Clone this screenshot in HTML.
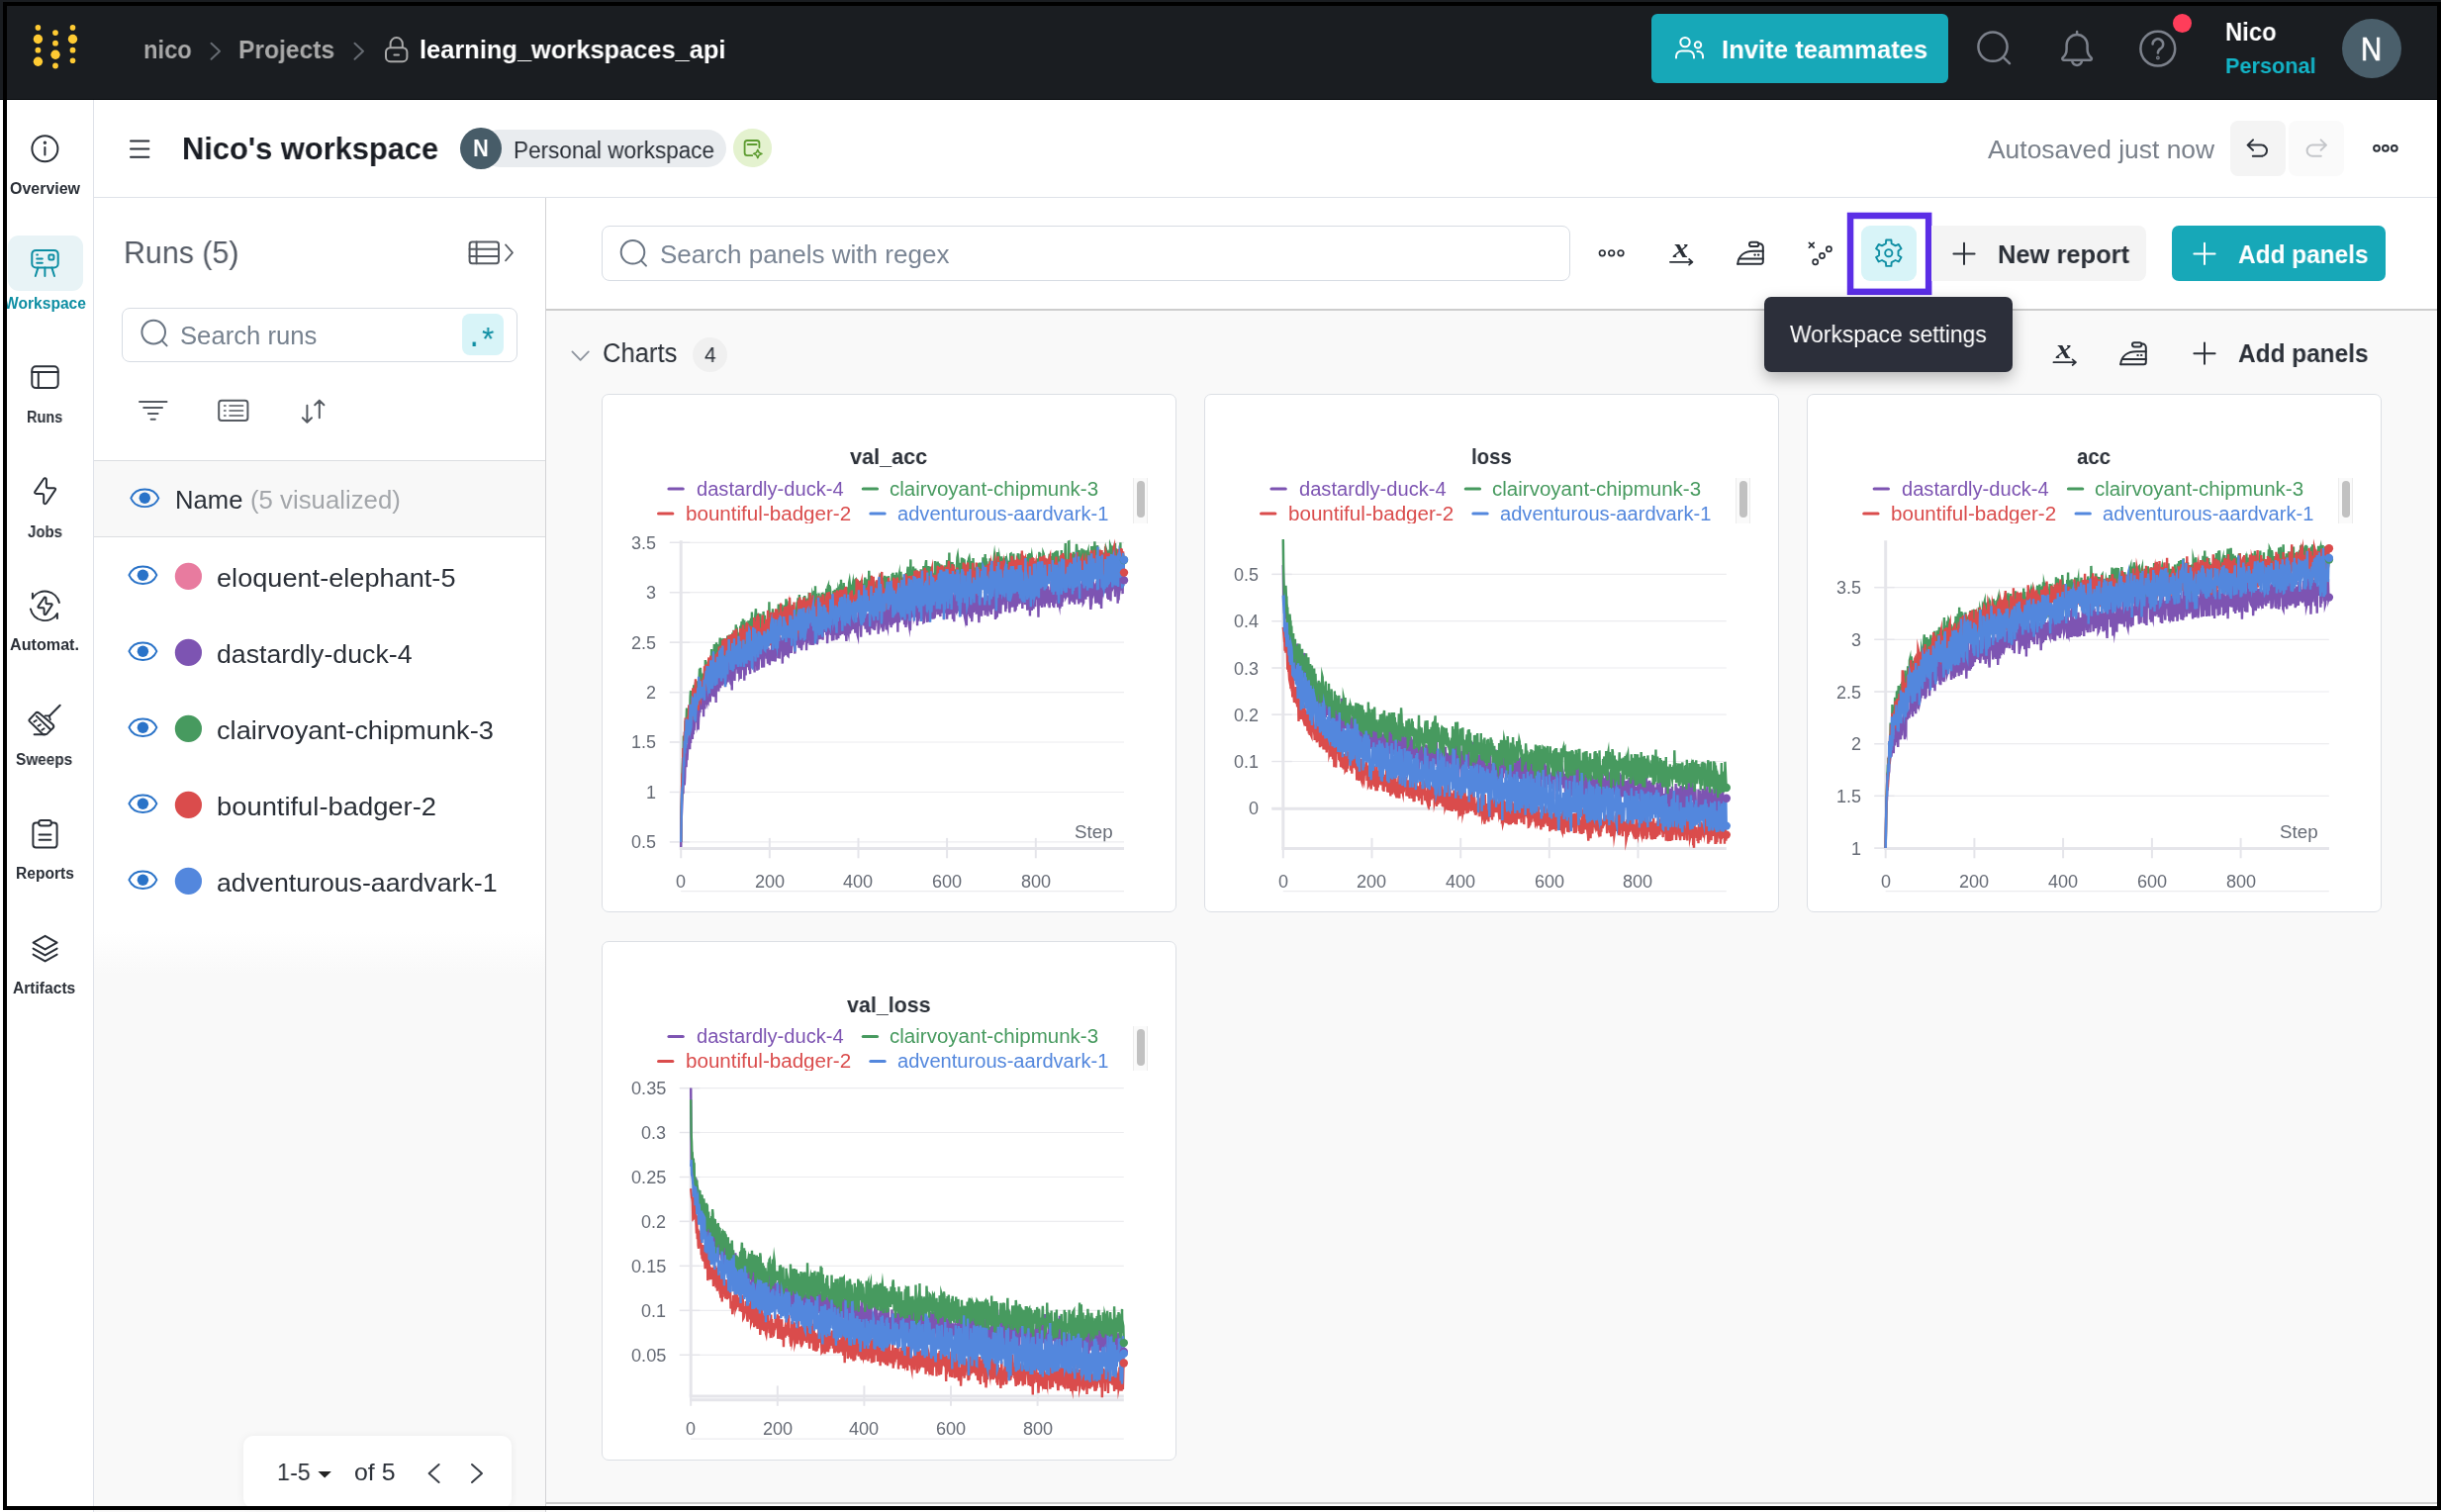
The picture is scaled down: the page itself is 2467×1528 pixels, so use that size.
<!DOCTYPE html>
<html lang="en"><head><meta charset="utf-8"><title>learning_workspaces_api | Workspace – Weights &amp; Biases</title>
<style>

html,body{margin:0;padding:0}
body{width:2467px;height:1528px;overflow:hidden;position:relative;background:#fff;font-family:"Liberation Sans",sans-serif;color:#2b3038}
.a{position:absolute}
.t{position:absolute;white-space:nowrap;transform-origin:0 50%;line-height:normal;display:block;will-change:transform}
svg{position:absolute;overflow:visible}
.i{fill:none;stroke:#2b3038;stroke-width:2;stroke-linecap:round;stroke-linejoin:round}
.panel{position:absolute;background:#fff;border:1px solid #dcdfe4;border-radius:7px;box-sizing:border-box}

</style></head><body>
<div class="a" style="left:552px;top:200px;width:1915px;height:1328px;background:#f9f9f9"></div>
<div class="a" style="left:552px;top:200px;width:1915px;height:112px;background:#fff;border-bottom:2px solid #cdcdcd"></div>
<div class="a" style="left:552px;top:1518px;width:1915px;height:2px;background:#cdcdcd"></div>
<div class="a" style="left:552px;top:1520px;width:1915px;height:8px;background:#fff"></div>
<div class="a" style="left:95px;top:200px;width:456px;height:1328px;background:linear-gradient(#fff 0,#fff 742px,#f9f9f9 785px,#f9f9f9 100%);border-right:1px solid #d3d3d5"></div>
<div class="a" style="left:95px;top:100px;width:2372px;height:99px;background:#fff;border-bottom:1px solid #dfe2e9"></div>
<div class="a" style="left:0px;top:100px;width:94px;height:1428px;background:#fff;border-right:1px solid #dfe2e9"></div>
<div class="a" style="left:0px;top:0px;width:2467px;height:100px;background:#1a1d21;border-bottom:1px solid #080b0e"></div>
<svg class="" style="left:0;top:0;fill:#ffcb33" width="2467" height="1528" viewBox="0 0 2467 1528"><circle cx="38.4" cy="27.9" r="2.8"/><circle cx="38.4" cy="39.5" r="4.7"/><circle cx="38.4" cy="50.7" r="2.9"/><circle cx="38.4" cy="62.3" r="4.7"/><circle cx="56" cy="33.1" r="2.9"/><circle cx="56" cy="43.7" r="2.9"/><circle cx="56" cy="55.2" r="4.7"/><circle cx="56" cy="66.5" r="2.9"/><circle cx="73.5" cy="27.9" r="2.8"/><circle cx="73.5" cy="39.5" r="4.7"/><circle cx="73.5" cy="50.7" r="2.9"/><circle cx="73.5" cy="61.2" r="2.8"/></svg>
<span class="t" id="t0" style="left:144.5px;top:36.0px;font-size:25.5px;font-weight:700;color:#a9a9a9;transform:scaleX(0.9309);">nico</span>
<span class="t" id="t1" style="left:241.2px;top:36.0px;font-size:25.5px;font-weight:700;color:#a9a9a9;transform:scaleX(0.9648);">Projects</span>
<span class="t" id="t2" style="left:424.0px;top:36.0px;font-size:25.5px;font-weight:700;color:#fff;transform:scaleX(0.9971);">learning_workspaces_api</span>
<svg class="i" style="left:0;top:0;" width="2467" height="1528" viewBox="0 0 2467 1528"><path d="M213.5 43.8 L222 51.8 L213.5 59.8" stroke="#666b72"/><path d="M358.5 43.8 L367 51.8 L358.5 59.8" stroke="#666b72"/><rect x="390" y="48.2" width="21.4" height="14" rx="4.5" stroke="#a9a9a9"/><path d="M394.6 48 V44.2 a6.1 6.1 0 0 1 12.2 0 V48" stroke="#a9a9a9"/><path d="M398.4 55.6 H403" stroke="#a9a9a9"/></svg>
<div class="a" style="left:1669px;top:14px;width:300px;height:70px;background:#17a8b8;border-radius:6px"></div>
<span class="t" id="t3" style="left:1739.6px;top:35.0px;font-size:26px;font-weight:700;color:#fff;transform:scaleX(0.9868);">Invite teammates</span>
<svg class="i" style="left:0;top:0;stroke:#fff" width="2467" height="1528" viewBox="0 0 2467 1528"><circle cx="1703" cy="42.6" r="4.7"/><path d="M1694 58.6 v-1.6 a5.6 5.6 0 0 1 5.6 -5.6 h6.8 a5.6 5.6 0 0 1 5.6 5.6 v1.6"/><circle cx="1716" cy="45.4" r="3.2"/><path d="M1715.4 52 h1 a4.6 4.6 0 0 1 4.6 4.6 v2"/></svg>
<svg class="i" style="left:0;top:0;stroke:#7c818b;stroke-width:2.5" width="2467" height="1528" viewBox="0 0 2467 1528"><circle cx="2014" cy="47.2" r="14.6"/><path d="M2024.6 57.8 L2031 64.2"/><path d="M2084.8 58.2 c2.4 -2 3.8 -4.2 3.8 -8.4 v-4.2 a10.5 10.5 0 0 1 21 0 v4.2 c0 4.2 1.4 6.4 3.8 8.4 a1.4 1.4 0 0 1 -0.9 2.5 h-26.8 a1.4 1.4 0 0 1 -0.9 -2.5 z"/><path d="M2094.4 62.6 a5 5 0 0 0 9.4 0"/><path d="M2099.1 32 v2.4"/><circle cx="2180.8" cy="49.2" r="17.4"/><path d="M2175.6 44.6 a5.3 5.3 0 1 1 8 4.6 c-1.8 1.1 -2.7 2.2 -2.7 4.4"/><circle cx="2180.9" cy="58.4" r="0.6"/></svg>
<div class="a" style="left:2196px;top:14.4px;width:18.8px;height:18.8px;background:#ff3d5a;border-radius:50%"></div>
<span class="t" id="t4" style="left:2248.7px;top:17.0px;font-size:26px;font-weight:700;color:#fff;transform:scaleX(0.9158);">Nico</span>
<span class="t" id="t5" style="left:2248.7px;top:54.0px;font-size:22.5px;font-weight:700;color:#13b5c8;transform:scaleX(0.9637);">Personal</span>
<div class="a" style="left:2366.8px;top:18.5px;width:60px;height:60px;background:#4a5f6b;border-radius:50%"></div>
<span class="t" id="t6" style="left:2386.3px;top:31.0px;font-size:33px;color:#fff;transform:scaleX(0.8807);-webkit-text-stroke:0.6px #fff;">N</span>
<div class="a" style="left:8px;top:238px;width:76.2px;height:55.8px;background:#e8f3f6;border-radius:11px"></div>
<span class="t" id="t7" style="left:9.5px;top:182.0px;font-size:15.6px;font-weight:700;color:#2b3038;transform:scaleX(1.0237);">Overview</span>
<span class="t" id="t8" style="left:3.6px;top:298.0px;font-size:15.6px;font-weight:700;color:#0e8ea3;transform:scaleX(0.9961);">Workspace</span>
<span class="t" id="t9" style="left:27.0px;top:413.0px;font-size:15.6px;font-weight:700;color:#2b3038;transform:scaleX(0.9311);">Runs</span>
<span class="t" id="t10" style="left:27.7px;top:529.0px;font-size:15.6px;font-weight:700;color:#2b3038;transform:scaleX(0.9586);">Jobs</span>
<span class="t" id="t11" style="left:9.8px;top:643.0px;font-size:15.6px;font-weight:700;color:#2b3038;transform:scaleX(1.0358);">Automat.</span>
<span class="t" id="t12" style="left:16.4px;top:759.0px;font-size:15.6px;font-weight:700;color:#2b3038;transform:scaleX(0.9832);">Sweeps</span>
<span class="t" id="t13" style="left:15.6px;top:874.0px;font-size:15.6px;font-weight:700;color:#2b3038;transform:scaleX(0.9945);">Reports</span>
<span class="t" id="t14" style="left:13.1px;top:990.0px;font-size:15.6px;font-weight:700;color:#2b3038;transform:scaleX(1.0005);">Artifacts</span>
<svg class="i" style="left:0;top:0;" width="2467" height="1528" viewBox="0 0 2467 1528"><circle cx="45.4" cy="150.3" r="13"/><path d="M45.4 149 V156.6"/><circle cx="45.4" cy="144.2" r="0.7"/><g stroke="#0e8ea3"><rect x="32.3" y="252.9" width="26.4" height="17.6" rx="4"/><path d="M38.4 270.6 L35.8 279 M45.4 270.6 V279 M52.4 270.6 L55 279"/><path d="M37.2 257.6 h0.8 M37.2 261.6 h5.6 M37.2 265.8 h5.6"/><rect x="49.4" y="257.4" width="5" height="5" rx="1.2"/></g><rect x="32.3" y="370.3" width="26.4" height="21.8" rx="4"/><path d="M32.3 376 H58.7 M38.8 376 V392"/><path d="M46.9 484.6 V491.6 Q46.9 493.2 48.5 493.2 H54.8 Q56.9 493.4 55.7 495.4 L47.2 508.0 Q46.0 509.8 44.6 508.8 Q44.2 508.4 44.2 507.8 V500.6 Q44.2 498.9 42.5 498.9 H36.6 Q34.3 498.6 35.5 496.6 L44.0 484.2 Q45.2 482.6 46.5 483.6 Q46.9 484.0 46.9 484.6 z"/><path d="M32.9 604.4 A14.9 14.9 0 0 1 59.9 609.1"/><path d="M32.9 599.8 V604.6"/><path d="M57.9 620.4 A14.9 14.9 0 0 1 30.9 615.4"/><path d="M57.9 620.2 V625"/><path d="M46.5 604.5 V609.2 Q46.5 610.3 47.5 610.3 H51.8 Q53.3 610.5 52.4 611.8 L46.7 620.4 Q45.8 621.6 44.9 620.9 Q44.6 620.7 44.6 620.3 V615.4 Q44.6 614.2 43.5 614.2 H39.4 Q37.9 614.0 38.7 612.6 L44.5 604.2 Q45.3 603.1 46.2 603.8 Q46.5 604.1 46.5 604.5 z"/><path d="M60.7 712.8 L49.8 723.8"/><path d="M45.6 723.4 H49.8 L50.8 727.4" stroke-width="1.8"/><path d="M29.7 727.2 L36 720.6 Q37.6 719.2 39.4 720.6 L53.2 732 Q55.2 734 53.6 735.8 L47.8 741.4 Q46.8 742.3 45.2 742.3 H43.6 L29.7 728.9 Q29 728.1 29.7 727.2 Z"/><path d="M36.8 723.6 L50.8 737"/><path d="M34.4 729.4 L36.8 728 M38.5 733.6 L40.9 732.3 M42.3 737.8 L44.6 736.2" stroke-width="1.9"/><path d="M34.6 742.3 H45.7"/><path d="M39 831.6 H36.4 a3 3 0 0 0 -3 3 V853.6 a3 3 0 0 0 3 3 H54.6 a3 3 0 0 0 3 -3 V834.6 a3 3 0 0 0 -3 -3 H52"/><rect x="39.2" y="829" width="12.6" height="5.4" rx="2.4"/><path d="M39.6 843.4 H51.4 M39.6 848.8 H51.4"/><path d="M45.6 945.8 L57.6 952.6 L45.6 959.4 L33.6 952.6 z"/><path d="M33.6 958.6 L45.6 965.4 L57.6 958.6 M33.6 964.6 L45.6 971.4 L57.6 964.6"/></svg>
<svg class="i" style="left:0;top:0;" width="2467" height="1528" viewBox="0 0 2467 1528"><path d="M132 142.5 H150.4 M132 150.6 H150.4 M132 158.7 H150.4"/></svg>
<span class="t" id="t15" style="left:184.2px;top:132.0px;font-size:31.5px;font-weight:700;color:#1a1d24;transform:scaleX(0.9786);">Nico's workspace</span>
<div class="a" style="left:486px;top:131.2px;width:248px;height:37.6px;background:#e9ecef;border-radius:19px"></div>
<div class="a" style="left:465px;top:128.7px;width:42px;height:42px;background:#475c68;border-radius:50%"></div>
<span class="t" id="t16" style="left:478.0px;top:136.0px;font-size:24.5px;font-weight:700;color:#fff;transform:scaleX(0.8925);">N</span>
<span class="t" id="t17" style="left:518.6px;top:139.0px;font-size:23.5px;color:#2b3038;transform:scaleX(0.9593);">Personal workspace</span>
<div class="a" style="left:741px;top:130.4px;width:38.6px;height:38.6px;background:#e4f2cf;border-radius:50%"></div>
<svg class="i" style="left:0;top:0;stroke:#5c9b2f;stroke-width:1.8" width="2467" height="1528" viewBox="0 0 2467 1528"><path d="M767.4 149 v-4.4 a2.6 2.6 0 0 0 -2.6 -2.6 h-9.6 a2.6 2.6 0 0 0 -2.6 2.6 v10 a2.6 2.6 0 0 0 2.6 2.6 h5"/><path d="M755.6 146 h9"/><path d="M765.8 151.2 l1.3 2.9 l2.9 1.3 l-2.9 1.3 l-1.3 2.9 l-1.3 -2.9 l-2.9 -1.3 l2.9 -1.3 z" stroke-width="1.5"/></svg>
<span class="t" id="t18" style="left:2009.2px;top:136.0px;font-size:26px;color:#7a818b;transform:scaleX(1.0161);">Autosaved just now</span>
<div class="a" style="left:2254px;top:122px;width:56px;height:56px;background:#f4f4f4;border-radius:8px"></div>
<div class="a" style="left:2313px;top:122px;width:56px;height:56px;background:#fafafa;border-radius:8px"></div>
<svg class="i" style="left:0;top:0;" width="2467" height="1528" viewBox="0 0 2467 1528"><path d="M2277 141.4 l-5.4 5.2 l5.4 5.2 M2272 146.6 h13.4 a5.6 5.6 0 0 1 0 11.2 h-8.6"/><path d="M2345.6 141.4 l5.4 5.2 l-5.4 5.2 M2350.6 146.6 h-13.4 a5.6 5.6 0 0 0 0 11.2 h8.6" stroke="#c4c6ca"/><circle cx="2402" cy="149.8" r="2.9"/><circle cx="2410.9" cy="149.8" r="2.9"/><circle cx="2419.8" cy="149.8" r="2.9"/></svg>
<span class="t" id="t19" style="left:124.5px;top:237.0px;font-size:32px;color:#565c66;transform:scaleX(0.9494);">Runs (5)</span>
<svg class="i" style="left:0;top:0;" width="2467" height="1528" viewBox="0 0 2467 1528"><g stroke="#565b62"><rect x="474.6" y="244.6" width="29.4" height="21.6" rx="2.6"/><path d="M474.6 251.8 H504 M474.6 259 H504 M481.6 244.6 V266.2"/><path d="M511 247.4 L518 255.4 L511 263.4" stroke-width="1.6"/></g></svg>
<div class="a" style="left:123px;top:311px;width:400px;height:55px;border:1px solid #d7dce3;border-radius:8px;box-sizing:border-box;background:#fff"></div>
<svg class="i" style="left:0;top:0;stroke:#6a7583" width="2467" height="1528" viewBox="0 0 2467 1528"><circle cx="155.2" cy="335.6" r="11.8"/><path d="M163.8 344.4 L168.6 349.4"/></svg>
<span class="t" id="t20" style="left:181.8px;top:325.0px;font-size:25.5px;color:#77828f;transform:scaleX(1.0065);">Search runs</span>
<div class="a" style="left:467.2px;top:317px;width:41.6px;height:41.6px;background:#d8f4f8;border-radius:8px"></div>
<span class="t" id="t21" style="left:476.4px;top:323.0px;font-size:30px;font-weight:700;color:#0e8ea3;transform:scaleX(0.7670);">.</span>
<span class="t" id="t22" style="left:486.6px;top:323.0px;font-size:34px;color:#0e8ea3;transform:scaleX(0.9370);">*</span>
<svg class="i" style="left:0;top:0;" width="2467" height="1528" viewBox="0 0 2467 1528"><g stroke="#565b62"><path d="M141 406.1 H168.5 M145.2 411.9 H164 M149.9 417.9 H159.6 M152.6 423.8 H156.8"/><rect x="221.2" y="404.8" width="29.2" height="20.2" rx="2.8"/><path d="M226.6 410 h1.4 M226.6 415 h1.4 M226.6 420 h1.4 M232 410 H245.6 M232 415 H245.6 M232 420 H245.6" stroke-width="1.6"/><path d="M310.4 409.8 V426.6 M305.8 422.2 L310.4 426.8 L315 422.2 M322.8 422.2 V404.8 M318.2 409.2 L322.8 404.6 L327.4 409.2"/></g></svg>
<div class="a" style="left:95px;top:465px;width:456px;height:78px;background:#f8f8f8;border-top:1px solid #dcdee1;border-bottom:1px solid #dcdee1;box-sizing:border-box"></div>
<span class="t" id="t23" style="left:177.0px;top:491.0px;font-size:25px;color:#2b3038;transform:scaleX(1.0257);">Name</span>
<span class="t" id="t24" style="left:253.4px;top:491.0px;font-size:25px;color:#a3a6aa;transform:scaleX(1.0307);">(5 visualized)</span>
<span class="t" id="t25" style="left:218.5px;top:570.0px;font-size:25px;color:#2b3038;transform:scaleX(1.0859);">eloquent-elephant-5</span>
<span class="t" id="t26" style="left:218.5px;top:647.0px;font-size:25px;color:#2b3038;transform:scaleX(1.0687);">dastardly-duck-4</span>
<span class="t" id="t27" style="left:218.5px;top:724.0px;font-size:25px;color:#2b3038;transform:scaleX(1.0889);">clairvoyant-chipmunk-3</span>
<span class="t" id="t28" style="left:218.5px;top:801.0px;font-size:25px;color:#2b3038;transform:scaleX(1.0940);">bountiful-badger-2</span>
<span class="t" id="t29" style="left:218.5px;top:878.0px;font-size:25px;color:#2b3038;transform:scaleX(1.0681);">adventurous-aardvark-1</span>
<svg class="" style="left:0;top:0;" width="2467" height="1528" viewBox="0 0 2467 1528"><path d="M132.3 503.3 C137.3 491.6 155.3 491.6 160.3 503.3 C155.3 515.0 137.3 515.0 132.3 503.3 z" fill="none" stroke="#2a73c8" stroke-width="1.9"/><circle cx="146.3" cy="503.3" r="5.7" fill="#2a73c8" stroke="none"/><path d="M130.4 581.1999999999999 C135.4 569.4999999999999 153.4 569.4999999999999 158.4 581.1999999999999 C153.4 592.9 135.4 592.9 130.4 581.1999999999999 z" fill="none" stroke="#2a73c8" stroke-width="1.9"/><circle cx="144.4" cy="581.1999999999999" r="5.7" fill="#2a73c8" stroke="none"/><circle cx="190.4" cy="582.4" r="13.6" fill="#e87b9f" stroke="none"/><path d="M130.4 658.1999999999999 C135.4 646.4999999999999 153.4 646.4999999999999 158.4 658.1999999999999 C153.4 669.9 135.4 669.9 130.4 658.1999999999999 z" fill="none" stroke="#2a73c8" stroke-width="1.9"/><circle cx="144.4" cy="658.1999999999999" r="5.7" fill="#2a73c8" stroke="none"/><circle cx="190.4" cy="659.4" r="13.6" fill="#7d54b2" stroke="none"/><path d="M130.4 735.1999999999999 C135.4 723.4999999999999 153.4 723.4999999999999 158.4 735.1999999999999 C153.4 746.9 135.4 746.9 130.4 735.1999999999999 z" fill="none" stroke="#2a73c8" stroke-width="1.9"/><circle cx="144.4" cy="735.1999999999999" r="5.7" fill="#2a73c8" stroke="none"/><circle cx="190.4" cy="736.4" r="13.6" fill="#479a5f" stroke="none"/><path d="M130.4 812.1999999999999 C135.4 800.4999999999999 153.4 800.4999999999999 158.4 812.1999999999999 C153.4 823.9 135.4 823.9 130.4 812.1999999999999 z" fill="none" stroke="#2a73c8" stroke-width="1.9"/><circle cx="144.4" cy="812.1999999999999" r="5.7" fill="#2a73c8" stroke="none"/><circle cx="190.4" cy="813.4" r="13.6" fill="#da4c4c" stroke="none"/><path d="M130.4 889.1999999999999 C135.4 877.4999999999999 153.4 877.4999999999999 158.4 889.1999999999999 C153.4 900.9 135.4 900.9 130.4 889.1999999999999 z" fill="none" stroke="#2a73c8" stroke-width="1.9"/><circle cx="144.4" cy="889.1999999999999" r="5.7" fill="#2a73c8" stroke="none"/><circle cx="190.4" cy="890.4" r="13.6" fill="#5387dd" stroke="none"/></svg>
<div class="a" style="left:246px;top:1451px;width:271px;height:73px;background:#fff;border-radius:10px;box-shadow:0 0 8px rgba(0,0,0,0.06)"></div>
<span class="t" id="t30" style="left:280.0px;top:1474.0px;font-size:24.5px;color:#2b3038;transform:scaleX(0.9514);">1-5</span>
<span class="t" id="t31" style="left:358.3px;top:1474.0px;font-size:24.5px;color:#2b3038;transform:scaleX(1.0153);">of 5</span>
<svg class="i" style="left:0;top:0;" width="2467" height="1528" viewBox="0 0 2467 1528"><path d="M321.4 1487 H334.9 L328.15 1493.6 z" fill="#222" stroke="none"/><path d="M443.6 1480 L433.6 1489 L443.6 1498" stroke="#3a3f47"/><path d="M477 1480 L487 1489 L477 1498" stroke="#3a3f47"/></svg>
<div class="a" style="left:608px;top:228px;width:979px;height:56px;border:1px solid #d7dce3;border-radius:8px;box-sizing:border-box;background:#fff"></div>
<svg class="i" style="left:0;top:0;stroke:#6a7583" width="2467" height="1528" viewBox="0 0 2467 1528"><circle cx="639.5" cy="254.8" r="11.8"/><path d="M648.2 263.6 L653 268.6"/></svg>
<span class="t" id="t32" style="left:666.7px;top:242.0px;font-size:26px;color:#7a8594;transform:scaleX(1.0019);">Search panels with regex</span>
<svg class="i" style="left:0;top:0;" width="2467" height="1528" viewBox="0 0 2467 1528"><circle cx="1619.3" cy="255.8" r="2.8" stroke-width="1.7"/><circle cx="1628.7" cy="255.8" r="2.8" stroke-width="1.7"/><circle cx="1638" cy="255.8" r="2.8" stroke-width="1.7"/><path d="M1687.8999999999999 264.8 H1710.3 M1707.1 262.0 L1710.5 264.8 L1707.1 267.6" stroke-width="1.7"/><path d="M1756.2 266.8 H1779.6000000000001 a2.2 2.2 0 0 0 2.2 -2.2 V249.6 a3.4 3.4 0 0 0 -3.4 -3.4 H1777.4"/><path d="M1756.2 266.8 C1757.0 258.2 1763.4 253.79999999999998 1772.4 253.79999999999998 H1781.8000000000002"/><path d="M1757.8000000000002 261.59999999999997 H1781.8000000000002"/><rect x="1768.0" y="244.79999999999998" width="9.4" height="4.2" rx="2.1"/><path d="M1773.4 257.59999999999997 h0.4 M1777.0 257.59999999999997 h0.4" stroke-width="2.2"/><path d="M1828.4 245.4 l4.8 4.8 M1833.2 245.4 l-4.8 4.8" stroke-width="1.7"/><circle cx="1834.7" cy="264.8" r="2.6" stroke-width="1.7"/><circle cx="1841.5" cy="258.5" r="2.6" stroke-width="1.7"/><circle cx="1848.4" cy="251.7" r="2.6" stroke-width="1.7"/></svg>
<span class="t" id="t33" style="left:1690.6px;top:236.0px;font-size:27px;font-weight:700;color:#2b3038;transform:scaleX(1.1407);font-family:'Liberation Serif',serif;font-style:italic;">x</span>
<svg class="i" style="left:0;top:0;" width="2467" height="1528" viewBox="0 0 2467 1528"><rect x="1870.05" y="217.95" width="79.1" height="76.9" stroke="#5b2ee6" stroke-width="6.5" stroke-linejoin="miter"/></svg>
<div class="a" style="left:1881px;top:228px;width:55.8px;height:55.8px;background:#d8f4f8;border-radius:9px"></div>
<svg class="i" style="left:0;top:0;stroke:#0e8ea3;stroke-width:1.9" width="2467" height="1528" viewBox="0 0 2467 1528"><path d="M1905.9 246.2 L1906.2 242.5 L1911.4 242.5 L1911.7 246.2 L1915.6 248.4 L1918.9 246.9 L1921.5 251.3 L1918.5 253.5 L1918.5 257.9 L1921.5 260.1 L1918.9 264.5 L1915.6 263.0 L1911.7 265.2 L1911.4 268.9 L1906.2 268.9 L1905.9 265.2 L1902.0 263.0 L1898.7 264.5 L1896.1 260.1 L1899.1 257.9 L1899.1 253.5 L1896.1 251.3 L1898.7 246.9 L1902.0 248.4 z" stroke-linejoin="round"/><circle cx="1908.8" cy="255.7" r="3.6"/></svg>
<div class="a" style="left:1952.4px;top:228px;width:217px;height:55.8px;background:#f4f4f4;border-radius:0 8px 8px 0"></div>
<svg class="i" style="left:0;top:0;" width="2467" height="1528" viewBox="0 0 2467 1528"><path d="M1974.4 256.4 H1995.6 M1985 245.79999999999998 V267.0" stroke="#2b3038"/></svg>
<span class="t" id="t34" style="left:2018.9px;top:242.0px;font-size:26px;font-weight:700;color:#2b3038;transform:scaleX(0.9793);">New report</span>
<div class="a" style="left:2195.4px;top:228px;width:215.6px;height:55.8px;background:#17a8b8;border-radius:7px"></div>
<svg class="i" style="left:0;top:0;" width="2467" height="1528" viewBox="0 0 2467 1528"><path d="M2217.4 256.4 H2238.6 M2228 245.79999999999998 V267.0" stroke="#fff"/></svg>
<span class="t" id="t35" style="left:2261.5px;top:242.0px;font-size:26px;font-weight:700;color:#fff;transform:scaleX(0.9383);">Add panels</span>
<svg class="i" style="left:0;top:0;" width="2467" height="1528" viewBox="0 0 2467 1528"><path d="M578.4 355.4 L586.6 363.8 L594.8 355.4" stroke="#8e949e" stroke-width="1.8"/></svg>
<span class="t" id="t36" style="left:608.5px;top:342.0px;font-size:27px;color:#2b3038;transform:scaleX(0.9481);">Charts</span>
<div class="a" style="left:699.7px;top:340.8px;width:35.6px;height:35.6px;background:#f0f0f0;border-radius:50%"></div>
<span class="t" id="t37" style="left:711.6px;top:346.0px;font-size:22px;color:#2b3038;transform:scaleX(0.9469);">4</span>
<svg class="i" style="left:0;top:0;" width="2467" height="1528" viewBox="0 0 2467 1528"><path d="M2075.4 366.2 H2097.8 M2094.6000000000004 363.4 L2098.0 366.2 L2094.6000000000004 369" stroke-width="1.7"/><path d="M2143.2000000000003 368.20000000000005 H2166.6 a2.2 2.2 0 0 0 2.2 -2.2 V351.0 a3.4 3.4 0 0 0 -3.4 -3.4 H2164.4"/><path d="M2143.2000000000003 368.20000000000005 C2144.0 359.6 2150.4 355.20000000000005 2159.4 355.20000000000005 H2168.8"/><path d="M2144.8 363.0 H2168.8"/><rect x="2155.0" y="346.20000000000005" width="9.4" height="4.2" rx="2.1"/><path d="M2160.4 359.0 h0.4 M2164.0 359.0 h0.4" stroke-width="2.2"/><path d="M2217.4 357.2 H2238.6 M2228 346.59999999999997 V367.8" stroke="#2b3038"/></svg>
<span class="t" id="t38" style="left:2078.1px;top:338.0px;font-size:27px;font-weight:700;color:#2b3038;transform:scaleX(1.1407);font-family:'Liberation Serif',serif;font-style:italic;">x</span>
<span class="t" id="t39" style="left:2261.5px;top:342.0px;font-size:26px;font-weight:700;color:#2b3038;transform:scaleX(0.9383);">Add panels</span>
<div class="panel" style="left:608px;top:398px;width:581px;height:524px"></div>
<span class="t" id="t40" style="left:859.1px;top:449.0px;font-size:22.5px;font-weight:700;color:#2b3038;transform:scaleX(0.9614);">val_acc</span>
<div class="a" style="left:608.2px;top:477.9px;width:580.2px;height:50.9px;overflow:hidden">
<span class="t" id="t41" style="left:95.4px;top:5.0px;font-size:19.5px;color:#7d54b2;transform:scaleX(1.0315);">dastardly-duck-4</span>
<span class="t" id="t42" style="left:291.0px;top:5.0px;font-size:19.5px;color:#479a5f;transform:scaleX(1.0529);">clairvoyant-chipmunk-3</span>
<span class="t" id="t43" style="left:84.8px;top:30.0px;font-size:19.5px;color:#da4c4c;transform:scaleX(1.0563);">bountiful-badger-2</span>
<span class="t" id="t44" style="left:299.1px;top:30.0px;font-size:19.5px;color:#5387dd;transform:scaleX(1.0308);">adventurous-aardvark-1</span>
</div>
<div class="a" style="left:1144.9px;top:483.09999999999997px;width:14.9px;height:45.8px;background:#fafafa;border-left:1px solid #ececec;border-right:1px solid #ececec;box-sizing:border-box"></div>
<div class="a" style="left:1148.9px;top:486.0px;width:8.1px;height:37px;background:#c1c1c1;border-radius:4px"></div>
<span class="t" id="t45" style="left:638.2px;top:539.0px;font-size:18px;color:#666b75;transform:scaleX(0.9988);">3.5</span>
<span class="t" id="t46" style="left:653.2px;top:589.0px;font-size:18px;color:#666b75;transform:scaleX(0.9984);">3</span>
<span class="t" id="t47" style="left:638.2px;top:640.0px;font-size:18px;color:#666b75;transform:scaleX(0.9988);">2.5</span>
<span class="t" id="t48" style="left:653.2px;top:690.0px;font-size:18px;color:#666b75;transform:scaleX(0.9984);">2</span>
<span class="t" id="t49" style="left:638.2px;top:740.0px;font-size:18px;color:#666b75;transform:scaleX(0.9988);">1.5</span>
<span class="t" id="t50" style="left:653.2px;top:791.0px;font-size:18px;color:#666b75;transform:scaleX(0.9984);">1</span>
<span class="t" id="t51" style="left:638.2px;top:841.0px;font-size:18px;color:#666b75;transform:scaleX(0.9988);">0.5</span>
<span class="t" id="t52" style="left:683.2px;top:881.0px;font-size:18px;color:#666b75;transform:scaleX(0.9984);">0</span>
<span class="t" id="t53" style="left:762.7px;top:881.0px;font-size:18px;color:#666b75;transform:scaleX(1.0051);">200</span>
<span class="t" id="t54" style="left:852.4px;top:881.0px;font-size:18px;color:#666b75;transform:scaleX(1.0051);">400</span>
<span class="t" id="t55" style="left:942.0px;top:881.0px;font-size:18px;color:#666b75;transform:scaleX(1.0051);">600</span>
<span class="t" id="t56" style="left:1031.7px;top:881.0px;font-size:18px;color:#666b75;transform:scaleX(1.0051);">800</span>
<span class="t" id="t57" style="left:1086.0px;top:830.0px;font-size:18.5px;color:#666b75;transform:scaleX(1.0141);">Step</span>
<svg class="" style="left:0;top:0;fill:none" width="2467" height="1528" viewBox="0 0 2467 1528"><path d="M676.0 494.0 h14.2" stroke="#7d54b2" stroke-width="3.2" stroke-linecap="round"/><path d="M872.3 494.0 h14.2" stroke="#479a5f" stroke-width="3.2" stroke-linecap="round"/><path d="M665.6 519.0 h14.2" stroke="#da4c4c" stroke-width="3.2" stroke-linecap="round"/><path d="M879.9 519.0 h14.2" stroke="#5387dd" stroke-width="3.2" stroke-linecap="round"/><path d="M676.8 548.3 H1136.0" stroke="#ececef" stroke-width="1.2"/><path d="M676.8 548.3 H697.2" stroke="#e5e5ea" stroke-width="1.4"/><path d="M676.8 598.7 H1136.0" stroke="#ececef" stroke-width="1.2"/><path d="M676.8 598.7 H697.2" stroke="#e5e5ea" stroke-width="1.4"/><path d="M676.8 649.2 H1136.0" stroke="#ececef" stroke-width="1.2"/><path d="M676.8 649.2 H697.2" stroke="#e5e5ea" stroke-width="1.4"/><path d="M676.8 699.6 H1136.0" stroke="#ececef" stroke-width="1.2"/><path d="M676.8 699.6 H697.2" stroke="#e5e5ea" stroke-width="1.4"/><path d="M676.8 750.0 H1136.0" stroke="#ececef" stroke-width="1.2"/><path d="M676.8 750.0 H697.2" stroke="#e5e5ea" stroke-width="1.4"/><path d="M676.8 800.5 H1136.0" stroke="#ececef" stroke-width="1.2"/><path d="M676.8 800.5 H697.2" stroke="#e5e5ea" stroke-width="1.4"/><path d="M676.8 850.9 H1136.0" stroke="#ececef" stroke-width="1.2"/><path d="M676.8 850.9 H697.2" stroke="#e5e5ea" stroke-width="1.4"/><path d="M688.2 546.3 V857.1" stroke="#e5e5ea" stroke-width="3"/><path d="M688.2 857.1 V867.3" stroke="#e5e5ea" stroke-width="2"/><path d="M686.7 857.5 H1136.0" stroke="#e5e5ea" stroke-width="2.9"/><path d="M777.8 846.9 V867.3" stroke="#e5e5ea" stroke-width="2"/><path d="M867.5 846.9 V867.3" stroke="#e5e5ea" stroke-width="2"/><path d="M957.1 846.9 V867.3" stroke="#e5e5ea" stroke-width="2"/><path d="M1046.8 846.9 V867.3" stroke="#e5e5ea" stroke-width="2"/><path d="M688.2 900.7 H1136.0" stroke="#ececef" stroke-width="1.2"/><path transform="translate(688.2 0) scale(0.4482 1)" d="M0 856.0l1-27.9 1-8.7 1-13.5 1-18.1 1 14.4 1-26 1 10.9 1 6.3 1-8.6 1-23.2 1 8.2 1 5.3 1-19.3 1 12.3 1-8.4 1-8.4 1 4.8 1-10.4 1-5.1 1 16.7 1-20.3 1 14 1-20.6 1 7.1 1-10 1 19.5 1-29.6 1 24.9 1-29.4 1 25.3 1-14.1 1 3.5 1-11.8 1 14.3 1-12.2 1-2.6 1 16.9 1-1.9 1 7.1 1-11.9 1-2.7 1-20.9 1 18.4 1-13.6 1 3.5 1-2 1 8.7 1-23 1 23 1-32.4 1 39.8 1-31.1 1 9.2 1 14.1 1-26.3 1 21.7 1-4.7 1 1.7 1-18.1 1 17.9 1 .8 1-20.4 1 6.9 1 9.8 1-20.2 1 23.9 1-19 1 6.6 1-9.8 1 16.2 1-22.8 1 5.9 1 7.4 1 10.3 1-9.2 1-8.8 1 13.1 1-22.6 1 33.2 1-32.1 1-5.8 1 15.2 1 2.1 1-9.4 1 18.6 1-15.7 1 2.8 1-3.3 1 12.8 1-22.4 1-2.6 1 2.4 1 20 1-18.5 1-6.1 1 17 1 6.3 1-23.7 1 5.1 1 21.5 1-15.3 1 12.5 1-24.1 1 9.3 1 .2 1 12.7 1-25.5 1 12.7 1 5.4 1-12.6 1 12.3 1 8.6 1 .8 1-18 1 24.4 1-28 1 13.3 1-15.9 1-6.1 1 15.6 1 11.5 1-16.8 1 .7 1 4.6 1-8.1 1 6.2 1-9.5 1 15.5 1-14.6 1 9.1 1-11.3 1 20.7 1-.9 1-17.3 1 19.7 1-19 1 4.8 1-13.6 1-4.8 1 2.5 1 21.2 1-18.2 1 28.9 1-27.6 1 11.4 1 10.8 1-28.7 1 9.3 1 11.2 1-17.3 1 17.2 1-10 1 3 1 10.2 1-17 1 20.8 1-28.9 1 1.3 1-1.2 1 1.5 1 12.5 1-1.5 1 9.5 1 .4 1-18.9 1 23.6 1-26.9 1 20.7 1-15.6 1 11.5 1-19.5 1 28.1 1-5.1 1-18.9 1 22.9 1-16.8 1 3.3 1-9.1 1 12.1 1-8.8 1 4.4 1-2.8 1 15.8 1-28.7 1 28.5 1-28.6 1 28.7 1-29.2 1 16.4 1-5 1 4.8 1-8.9 1 13 1-21.6 1 18.6 1 8.1 1-16.2 1 12.9 1-6.2 1 10.8 1-15 1 10.1 1-10.7 1 9.2 1-15.8 1 18.3 1-13.3 1 13.2 1-15.8 1 13.6 1-18.4 1 1.6 1 19.5 1-22 1 12.9 1-8 1 7.6 1-9.1 1 15.1 1-21.9 1-3.7 1 26.1 1-18.4 1 2.1 1 9.1 1-8.7 1-5.4 1 10.6 1 15.7 1-27.3 1 20.5 1-24.3 1 22.9 1-20.9 1-.5 1 21.2 1-5.8 1 4.1 1-21.3 1 4.5 1 18.9 1 .4 1-21.6 1 1.4 1 17.4 1-14 1 6.8 1-9.3 1 16.3 1-18.9 1 6.2 1 3.7 1-12.5 1 13.1 1 .2 1 2.4 1 6.4 1-28.5 1 15.1 1 4.9 1-10.2 1-14.3 1 6 1 14.3 1-6.5 1 13.4 1-17.9 1 7.9 1-12.6 1 23.1 1-18.1 1 19.9 1-6.8 1-19 1 20.3 1-3.4 1-9.5 1 9.9 1-11.6 1-6.7 1 18.1 1-14.4 1 23.3 1-24.4 1 17.3 1-14.3 1 8.8 1-17.5 1 19.2 1-7.3 1 12.7 1-23.6 1 16 1-9.8 1-.4 1 17.9 1-16.8 1 10.9 1 5.8 1-12.4 1 10 1-17.7 1-1.7 1-4.6 1 21.1 1-22.7 1 27.5 1-3.3 1-13.4 1 8.5 1-12.1 1 4.8 1 10.4 1-22.4 1 4.5 1 4.6 1 12.9 1-17.1 1 10.9 1 7.1 1-21.3 1-5.4 1 14.1 1 4.7 1-11.4 1 9 1-15.2 1 20.6 1-17.8 1 26.3 1-8.9 1-20.1 1 20.1 1-7.5 1-10.4 1 6.4 1 6.3 1-8 1 13.8 1-14.1 1 19.7 1-27 1 9.6 1 16.9 1-12 1-2 1-5 1-7.6 1 21.1 1-22.6 1 27.6 1-17.4 1-10.6 1 8.1 1 18.6 1-23 1 8.6 1 5.4 1 5.9 1-25.1 1 17.5 1-6.5 1 12.9 1-20.2 1 13.3 1 6.5 1-11.5 1 9.2 1-17.2 1 21.1 1-23.7 1 19.6 1 9.8 1-12.5 1-8.7 1 8.1 1 2.2 1 2.4 1-7.8 1-12 1 20.8 1-8.2 1-12.5 1 17.7 1-22.4 1 13.4 1-7.1 1 5.5 1 9.2 1-10.6 1 6.9 1-8.9 1 16.3 1-15 1-9.6 1 17.3 1-4.9 1 14.1 1 1.7 1-19 1 8.5 1-21.6 1 18.5 1-7.2 1-1.9 1 23.2 1-17 1-14 1 6 1 1.1 1 11 1-7.9 1 9.5 1-22.2 1 11.9 1 13.5 1-10.9 1 6.2 1-10.1 1 18.2 1-3.3 1-15.9 1 18.1 1-5.6 1-11.5 1 20.7 1-25.5 1 12.1 1-6.2 1 12.9 1-23.9 1 18.2 1-5.7 1 12.6 1-22.5 1 20.5 1 2.7 1-14.6 1 2.2 1-8.5 1 13.5 1-16.2 1 15.1 1-14 1 26.5 1-18.8 1 8.4 1-12.5 1 10.1 1-9.3 1 11 1-1.7 1 6.1 1-17.9 1 18.7 1 3.4 1-11.5 1-2.4 1-12.7 1 18.5 1-15.8 1 16.9 1 5.1 1-28.1 1 23.8 1 1.9 1-20 1 11.7 1-8 1 6.2 1-3.7 1 11.6 1-22.4 1 24.7 1-17 1-2.2 1 16.7 1-22.4 1 2.9 1 17.9 1-7.6 1-5.5 1 12.3 1-6.9 1-11.6 1-5.5 1 16.7 1-12.9 1 29.7 1-24.4 1-7.1 1 21.9 1-3.5 1-18.1 1 13.7 1-9.1 1 7.6 1-9.8 1 16.7 1-8.1 1-4 1 11.9 1-20.5 1 25.3 1-20.6 1 12.5 1 10.8 1-4.2 1-13.6 1 7.9 1-22 1 16.3 1-11.9 1 24.1 1 2.7 1-8.9 1 12.8 1-13.1 1-18.2 1 17.5 1-.5 1-16.2 1 2.9 1 9.8 1-20.1 1 23.3 1-1.8 1-14.6 1 4.8 1 12.7 1-10.4 1-.8 1 19.8 1-20.8 1 15 1 .1 1-11.3 1 8.5 1-12.7 1 14.4 1-18.2 1 18.4 1-16.1 1 11.8 1 1.3 1-21.2 1 27.7 1-.3 1-27.6 1 4.2 1 3.8 1 3.9 1 4 1 6.3 1 5.4 1-26.7 1 19.2 1-10.8 1 3.4 1 14.5 1-11.8 1-10.6 1 12.4 1-3.3 1 9.7 1-20.1 1 21 1-12.3 1 7.1 1 5 1-15.2 1 14.2 1-3.5 1-20.5 1 17.8 1-16.8 1 2.9 1 4.3 1 12.6 1-11.1 1-.2 1 8 1-17.3 1 18.7 1 3.7 1-22.5 1 19.1 1-10.9 1 4.8 1 5.8 1-15.7 1-4.7 1 27.3 1-27.7 1 21.1 1-21.1 1 17.1 1-1 1-10.7 1 21.6 1-10.5 1-14.9 1 12.6 1 8.4 1-3.6 1-13.2 1 16.3 1-4.1 1-7.1 1 10.2 1-19.8 1 4.8 1 21 1-13.3 1-11 1 26.9 1-30.5 1 13.8 1 4.6 1 1 1-18.5 1 21 1-12.2 1 10.1 1-11.1 1 6.1 1-8.8 1 11.3 1-8.2 1 16.1 1-17.6 1 15.1 1-18.1 1 18.2 1-16.8 1 6.7 1 4.9 1-17.2 1 23.2 1 2.3 1-25.1 1 13.2 1-10.3 1 30.7 1-41.4 1 30.3 1-9.2 1-12.6 1 17.9 1-17.8 1 23.7 1-14.4 1 16.1 1-11.3 1-15.9 1 30.6 1-7.8 1-20.7 1 8.8 1 10.4 1-11.4 1 10.3 1-20.7 1 20 1-17.9 1 21.6 1-12.1 1 11.7 1-19.3 1 1.5 1 18.2 1 8.4 1-11.5 1-22.8 1 12.9 1 4.4 1-4.9 1 15.4 1-19.2 1 9.9 1-8.5 1 12.1 1-12 1 7.9 1-11.9 1 20.7 1-21.3 1 18.1 1-6.1 1 1.5 1-12.3 1 21 1-19.6 1 3.6 1 2.7 1-9.7 1 3.8 1 14.7 1-18.7 1 21.5 1-14.2 1 9.1 1-11 1 10.3 1-15.8 1 10.4 1-12.7 1-3.8 1 32.7 1-8.1 1-24.5 1 29.9 1-.5 1-5 1-21.9 1 12.4 1 11.5 1-32.9 1 29.1 1-19.1 1 23.5 1-17.3 1-1.2 1 8.9 1-17.2 1 17.7 1-14.8 1 11.4 1-4.6 1-2.3 1-9.4 1 26.8 1-23.9 1 20.9 1-27.5 1 19.4 1-4.2 1-11 1 11.9 1-.8 1 16.2 1-6.5 1-11.1 1 6.9 1-7.5 1 12.6 1-19.6 1 10.3 1 5.9 1 2.9 1-16.3 1-6.2 1 27.5 1-27.1 1 25.7 1-14 1-14.2 1 24.1 1-24.7 1 21 1-11.1 1 12.5 1-11.8 1 11.3 1-19.2 1 11.6 1-1.9 1 7.9 1-18 1 24.7 1-18 1-10.9 1 9.7 1 10 1-11.1 1 16.3 1-3.2 1 .3 1-10.3 1-1.1 1 20.1 1-15.7 1-9.2 1 1.7 1 22.6 1-24.6 1 30.8 1-30.6 1-2.1 1 24.1 1 3.1 1-23.8 1 1.1 1 10.2 1 11 1-26.2 1 20 1-8.3 1 12.3 1-17.7 1 10.5 1-17.1 1 .4 1 4.3 1 4.3 1 25.8 1-28.1 1 10.1 1-8 1 10.3 1 4.2 1-13.3 1 1.7 1 13.3 1-25.8 1 22.3 1-11.1 1 5 1-13.2 1 22.4 1-18.5 1 14 1-6.4 1-11.4 1 16.8 1-.4 1-15.4 1 11.1 1-2.2 1 7.3 1 5.7 1-17.7 1 9.3 1 3 1-21.2 1 2.7 1 17.2 1-16.1 1 21.1 1-25.1 1 26.8 1-7.5 1-1.7 1 5.4 1-19.9 1 1.7 1-9.8 1 21.7 1-10 1 19.8 1-26.3 1 21.3 1 2.3 1-22.1 1 25.6 1-10.1 1-.8 1-11.7 1 20.9 1-25.8 1 21.3 1-24.2 1 9.6 1 9.8 1-17.1 1 17.9 1-11.2 1 10.3 1-1 1-5.1 1 5.2 1-4.4 1-2.9 1 8.3 1-12.4 1 19.4 1-27.3 1 24.3 1-4.3 1-17.7 1 15 1-5.9 1-.2 1 14.2 1-11.9 1 9.7 1-14.2 1 18.3 1-13.4 1 4.4 1-9.1 1 13.3 1-12.3 1 4 1-4.4 1-3.1 1 20.5 1-23.5 1 16.2 1-13.4 1 18.9 1-12.3 1 12.3 1-15 1-7.5 1 3.4 1 20.2 1-.8 1-27.4 1 19.3 1-19.7 1 14.7 1 9.9 1-24 1 5.2 1 15.9 1-10.3 1 8.3 1-5.5 1 3.5 1 1.8 1-6.7 1 13.8 1 8.1 1-4.3 1-1.8 1-27.1 1 21.8 1-17.9 1 4.7 1 11.2 1-11.8 1 5.2 1-5.5 1 19.2 1-20.7 1 6.7 1-9 1 22.8 1-17.2 1-.5 1 14.3 1-14.6 1 19.2 1-29.2 1 1.2 1 24 1 8.4 1-19.7 1 7.7 1-10.8 1 3.3 1-4.3 1 8.2 1-13.5 1 8.3 1-21.7 1 26.9 1-4 1-7.7 1 5 1 11.9 1-25.4 1 26.8 1-27.8 1 9.3 1-8.1 1-1.6 1 29.6 1-23.2 1 7.6 1 5.7 1-11.7 1 2.8 1 6.8 1-11.4 1-8.9 1 2.2 1 25.8 1-21.8 1 4.5 1 11 1-15.1 1-4.3 1 32.4 1-29 1 25.7 1-15.3 1-9.8 1 4.6 1 6 1-2.9 1 4.3 1 3.3 1-16.3 1 19.7 1-23.6 1 5.1 1 4.8" stroke="#7d54b2" stroke-width="2.4" vector-effect="non-scaling-stroke" stroke-linejoin="miter" stroke-miterlimit="10"/><path transform="translate(688.2 0) scale(0.4482 1)" d="M0 850.9l1-34 1-11.5 1-25.7 1-10.8 1 .5 1-25.7 1 8.1 1-9.1 1 8 1-22.4 1 3.2 1-4.5 1-11.5 1 12.5 1-5.9 1 1.2 1-4.4 1 12.6 1-15.8 1 3.8 1-15.7 1-5.9 1 24.1 1-11.6 1-10 1 3.1 1 5 1 1.2 1-17.4 1 11.2 1 4.9 1-14.2 1-4.7 1 17.1 1-.9 1-4.1 1-13.3 1 10.5 1 5.9 1-7.2 1-11.5 1-10.1 1 14.9 1-16.1 1 24.1 1-6.9 1-10.6 1 23 1-15.2 1-6.8 1 .5 1 16.9 1-4.1 1-2.3 1-26.2 1 12.9 1-4.6 1 15.2 1-4.6 1-.3 1-17.1 1 15.9 1 1.4 1-13.9 1-4.6 1 12.5 1-4.2 1-5.6 1-14 1 24.3 1-18.5 1 12.7 1-9.2 1 9 1-23.5 1 16.7 1-.3 1 11 1-17.3 1-11.8 1 18.6 1-16.8 1 17.3 1-14.3 1 11.3 1-6.2 1 .7 1-15.3 1 18.6 1-7.4 1-4.1 1 5.5 1-11.7 1 13.4 1 7.8 1-17 1 1 1-5.6 1 6.1 1 14.3 1-19.2 1 9.4 1 4.3 1-12.5 1-4.9 1 12.3 1-7.5 1 9.4 1-15.1 1 18.4 1-16.2 1 9.8 1-5.2 1 13.4 1 2.2 1-24.5 1 19.5 1 .9 1-23.1 1 18.7 1 3.9 1-4 1-8.8 1-15.4 1 16.2 1-13.6 1 10.8 1 13.1 1-14.8 1 1.8 1-1.7 1 1.9 1-0 1-12.3 1 16.1 1-15.5 1-5 1 17.2 1-13.1 1-6.9 1 26.6 1-14.9 1-10.3 1 28 1-22 1-.8 1 17.4 1-12.4 1 5.4 1 10.3 1-1.8 1-23.7 1 10.1 1 7.8 1-.8 1-17.5 1 11.3 1-13.4 1 18.7 1-24.8 1 21 1-14.2 1 10.6 1-11.6 1 16 1-6.1 1-9.5 1-4.7 1-4.9 1 32.1 1-13.4 1 14.8 1-3.4 1-25.5 1 18.3 1 .9 1-7.7 1 3.2 1-14.3 1 9 1 3 1 4 1-8.6 1 9.1 1 6.1 1-24.9 1 14.9 1 12.8 1-23.8 1 10.5 1-6.3 1 4.9 1-4.5 1 7.9 1 10 1-11.4 1-12.8 1 23 1-34.9 1 33.6 1 6.2 1-12.1 1-9.9 1 6.6 1-11.5 1 10.4 1-16.2 1 11.5 1 14.6 1-17.5 1 11.7 1-13.1 1 3.7 1-6.2 1 17.9 1-13.1 1-.5 1 10.9 1-14.3 1-10.3 1 14.4 1 .1 1-14.5 1 18.5 1-14.9 1 17.2 1-20.5 1 8.4 1 3.4 1 10.7 1-14.3 1 7.4 1-14.9 1 12.1 1 11.4 1-11 1-18.7 1 3.7 1 13.7 1-4 1 14 1-16.9 1 4.9 1-12.9 1-.5 1 9.2 1 14.6 1-7.3 1 10.1 1-.8 1-15.2 1-6.8 1 8.5 1-7.5 1 19.1 1-13.9 1 6.8 1-7.3 1 7.2 1 2.7 1-11.8 1-6.6 1 9.4 1-13.6 1 16.5 1-10.3 1-9.3 1 28.4 1-22.1 1 22.4 1-23.1 1 5.1 1 17.2 1-4.8 1-13.7 1 13.8 1-21.1 1 7.5 1-8.6 1 3.3 1 17.8 1-17.6 1 21.5 1-13.6 1 13.1 1-22.1 1 17.4 1-10.4 1-12.6 1 22 1-19.9 1 16 1-5.6 1 10.8 1-17.1 1 14.1 1-18.2 1 1.6 1 4.8 1 15.4 1-25.7 1 29.3 1-34.2 1 28.2 1-20.7 1 19.4 1-9.8 1 7.7 1-9.1 1 4.9 1-13.4 1 25.7 1-15.1 1 6.5 1-9.4 1 15.6 1-20.5 1-2 1-.2 1 22.1 1-20.6 1 10.7 1-12.7 1 16.1 1-3.7 1-8.8 1 11.6 1-19.8 1 6.3 1 14.4 1-22.4 1-1.2 1 31.6 1-32.6 1 16.9 1-15.6 1 5.6 1 12.4 1-5.4 1 4.6 1 1 1-7.9 1 13.9 1-19.4 1 3.7 1 12.7 1-17.6 1 10.9 1-5.4 1 6.1 1 7.1 1-20.2 1 6.8 1 5.5 1-10.5 1 1.8 1-.4 1 12.8 1-20.1 1 21.7 1-26.3 1 20.4 1-8.4 1 12.5 1-18.5 1 19.2 1-21.9 1 16.6 1-5.9 1 17 1-14 1 .7 1-4.3 1-.1 1-5.7 1 10 1-10.1 1 17.4 1-21.4 1-2.3 1 4.4 1 11.9 1-10.9 1 15.6 1-17.1 1 15.2 1-14.5 1-2.7 1 5.3 1 11.4 1-13.2 1 8.4 1-14.6 1-.4 1 14.9 1-5 1 16.9 1-20.2 1 15 1-17.6 1 10.8 1-11.8 1-.3 1 8.1 1 11.7 1-9.9 1 3.7 1-16.2 1 20 1-16.1 1 27.3 1-24.8 1 15.9 1-4.8 1-19.8 1 25.4 1-16.9 1 8 1-14.6 1 18.4 1 4.1 1 3.3 1-15.3 1-19.2 1 13.7 1-3.3 1 13 1-18.2 1 19.1 1-8.5 1 17.8 1-25.3 1 21 1-13 1 7 1-12.4 1 9.2 1-3.6 1 13.8 1 8.6 1-8.1 1-20.8 1 22.2 1-6.1 1-15.5 1 13.8 1-11.3 1-2.9 1-.7 1 7.8 1-14.7 1 28.7 1-16 1 7.7 1-16.2 1 16.3 1-10.3 1 10.8 1-18.4 1 5.1 1 5.4 1 8.7 1-.9 1-17.7 1 17.2 1-10.2 1 21.8 1-29.1 1 7 1 5.1 1-5.1 1 12.5 1-3.8 1 3.3 1 1.3 1-22.4 1 12.7 1-13.9 1 13.1 1 16.6 1-27.5 1 22.1 1-15.9 1 5.7 1-2.2 1-12.2 1 24.4 1-4.5 1 1.2 1-2.3 1-14.5 1-2.2 1 22.3 1-14.1 1 14.9 1-26.1 1 18 1-12.2 1 10.2 1 6.5 1-10.6 1-5.5 1 4.6 1-.8 1 8.6 1-16.2 1 10.1 1-11.3 1 18 1-6.2 1-15.3 1-2.9 1 18.8 1-6.8 1 8.5 1 2 1-8.9 1-20.9 1 33.2 1-10.6 1-1.6 1 10.5 1-11.7 1-12.6 1 25.5 1-2.2 1-11.9 1 6.4 1-15.9 1 25.3 1-22.9 1 10.9 1-11.3 1 15.4 1 2.9 1-9.7 1 2.2 1-5.4 1 13.8 1-3.9 1-16.4 1 6 1 10.2 1-9.7 1 4.8 1 17.5 1-32.1 1 16.8 1-14.2 1 13 1-12.5 1-5.8 1-3.3 1 22.3 1-5 1 3.6 1 4 1-19 1 22.5 1-17.7 1 10.1 1 5.1 1-19.6 1 24.3 1-22.3 1 3.7 1 9.2 1-4.9 1 6 1-7.8 1 .2 1 10.6 1-24.3 1 27.2 1 2.7 1-18.7 1-0 1-7.6 1-3.1 1 9.4 1-.1 1-7.6 1 21.4 1 1.4 1-13.7 1 7.4 1-15.3 1 18 1-15.9 1 21.2 1-18.5 1 4.2 1 15.3 1-21.5 1 16.9 1-19 1 10.2 1-6.5 1 14.7 1-23.7 1 19.4 1-14.9 1 7.2 1 10.5 1-29.6 1 25.1 1-15.8 1 21 1-10.8 1 9.6 1-3.2 1-16.3 1 14 1 3.7 1-15.5 1 19.8 1-14.9 1 6.8 1-6.6 1 16.2 1-10.7 1-9.7 1-7.7 1-2.2 1 4.2 1 15.8 1-9.3 1 21.7 1-20.5 1-4.3 1 17.8 1 6.9 1-30.1 1 18 1 8 1-25.4 1 6 1 22 1-26.8 1 17.7 1-4.9 1-7.3 1 18.9 1-18.2 1 12.1 1 .5 1-17.6 1 3.1 1-5.2 1-1.2 1 3.6 1 15.6 1 9.5 1-25 1 24.2 1-18.6 1 3.6 1 8.3 1-20.4 1 17.8 1 10.5 1-.3 1-16.1 1 2.9 1-5.3 1 8.7 1-11.6 1 16.9 1-18.1 1 6.7 1-3.9 1 9.2 1-12.9 1 19.4 1-12.7 1 10.8 1-17.4 1 11.2 1-4.7 1 14.9 1-26.7 1 19 1 3.9 1-11.1 1 10.9 1-26.1 1 22 1-17.7 1 24.2 1-21.2 1 14.5 1-9.7 1 14.7 1-16.5 1 9.3 1-5.2 1-10.1 1 8.6 1 19 1-21.1 1 6.3 1 13.7 1-18 1 5.3 1 11.7 1-25.1 1-3.7 1 4.1 1 24.6 1-20.8 1 14 1-4 1-3.3 1-17.4 1 20.5 1 6.5 1-14.2 1-6.8 1 3.1 1 .1 1-4.8 1 23.3 1-23.6 1 15.2 1-4.8 1 15 1-23.3 1 3.9 1 19.5 1-12.4 1-11.5 1 19.9 1-21.7 1 12.1 1 15.8 1-21.1 1 2.2 1 15.1 1-18.7 1 15.5 1-16.3 1 10.7 1-17.3 1-.3 1 25.9 1-3.7 1-17.2 1 16 1-3.4 1-17.7 1 29.1 1-7 1-8.9 1 8.5 1-9.8 1 10.2 1-14 1 6.9 1-9.6 1-5.8 1 22.3 1-10.7 1 6.9 1 14.2 1-9.6 1-22.9 1 25.5 1-25.3 1 22 1 4.2 1-16.8 1 17 1-.5 1-18.5 1 3.6 1 8.1 1-16 1 24.4 1-19.8 1 7.3 1-11.3 1 13.6 1-16.9 1 24.5 1-21.4 1-4.1 1 27.8 1-23.2 1 18.5 1-17 1-3.2 1 3.7 1 8.4 1-4.9 1 11 1-5.1 1-7.9 1 19.3 1-17.6 1 14.3 1-15.6 1 21.6 1 .1 1-24.9 1 15.1 1-15.1 1 19 1-25.5 1 20.5 1-19.4 1 22.2 1-11.2 1 14.8 1-19.9 1 21.2 1-13.3 1-13.8 1 1.2 1 19.2 1 4.9 1 5.6 1-10.8 1-14.3 1 10.7 1-9.2 1 16.5 1-16.1 1 23.5 1-24.9 1 6 1-11.5 1 24.5 1-22.1 1 3.9 1 15.1 1-19 1 13.5 1-16.8 1 22.3 1-11 1-8.1 1 16.9 1-19.9 1-.4 1 16.1 1-5.7 1 10.1 1-1.8 1-20.8 1 20 1-14.7 1 12.1 1-5.3 1 11.1 1-5.3 1-9.2 1 18.3 1-27.4 1 23.1 1-14 1 16.9 1-21.4 1 21.6 1-19.3 1 14.2 1-16 1-12.1 1 31 1-9.5 1-.1 1 .6 1 16.3 1-5.7 1-34.2 1-.2 1 31.1 1-11.6 1 3.6 1 4.2 1-11.5 1 17.8 1-20.9 1 22.1 1-14.8 1-9.5 1 17.4 1-9.4 1 13.5 1-19.7 1 14.8 1-12.3 1-12.2 1 4.5 1 11.9 1 5.1 1-4 1 11.1 1-22.6 1 15.8 1-.5 1 3 1-12.2 1 11 1-18.6 1 20 1-17.4 1 21.3 1-22.9 1 19.5 1-14.9 1 20 1-23.7 1 12.9 1 12.6 1-25.5 1 12.6 1-10.2 1-1.6 1 16.6 1-16 1 21.3 1-15.3 1-3.5 1 19.4 1-.4 1-27.3 1 33.8 1-33 1 20 1-11.4 1-9.5 1 19.8 1-24.4 1 23.4 1-19 1 29.1 1-24.6 1 17.2 1-22.1 1 6.2 1 22.5 1-9.6 1-13.2 1 5.5 1 8.8 1 8.8 1-16.2 1 2.5 1-7.6 1 20.6 1-21.2 1 9.4 1 6.8 1-1.5 1-13.7 1 17.9 1-24.9 1 15.1 1-12 1 1.6 1 8.9 1-5.8 1-1 1 2.6 1 10.1 1-12 1 12.1 1-21.1 1 1.2 1 9.3 1 22.9 1-16 1-16.6 1 6.7 1 16.5 1-13.4 1 .2 1 11.1 1-23.7 1 15.2 1-9.9 1 11.5 1-6.6 1 12.7 1-10.7 1 12.4 1-11.2 1 1.3 1-3.6 1 11.2 1-23 1 34.6 1-4.2 1-2.7 1-.6 1-12.1 1-3.5 1 17.8 1-11.6" stroke="#479a5f" stroke-width="2.4" vector-effect="non-scaling-stroke" stroke-linejoin="miter" stroke-miterlimit="10"/><path transform="translate(688.2 0) scale(0.4482 1)" d="M0 850.9l1-34.2 1-21.3 1-13 1-2 1-24.5 1 14.4 1-3.5 1-27.3 1 6.7 1-20.7 1 16.4 1-15.9 1 7.7 1-7.2 1 15 1-17.4 1 3.8 1-15.5 1 23 1-19.8 1 9.8 1-9.2 1-2.5 1 14.8 1-23.5 1 7.6 1-17.2 1 18.4 1-10.9 1 23.5 1-25.2 1-5.3 1-9.7 1 8.6 1 2.8 1 16.8 1-15.9 1 13.6 1 5.5 1-16.1 1-15.8 1 10.7 1 6.5 1 1.9 1-13.4 1 .1 1 5.1 1-9.7 1 5.6 1 9.8 1-17.8 1 6.2 1-17.4 1 12.2 1 12.4 1-26.3 1 13.5 1-9.1 1 14.1 1-19.1 1 19.8 1-22.8 1-3.5 1 22.2 1-15.8 1 18.4 1-26.7 1 21.6 1-18.8 1 13.5 1-15.7 1 8 1 13 1-15 1 15.4 1-15.2 1 7.8 1-6.8 1-9.6 1 9.2 1-7.1 1 4.3 1-8.3 1 6 1 4 1-15.3 1 11 1-8.7 1 8.6 1-12 1 12.1 1-7.7 1 8.3 1-18.7 1 20.5 1-15.3 1 7.5 1-7.9 1-6.3 1 16.9 1-10.4 1-5.8 1 23.2 1-19.4 1 20.3 1-22.4 1-5 1 17.1 1-14.3 1 9 1-11.3 1 24.3 1-26.3 1 15.1 1 1.7 1 15.9 1-33.3 1 11.5 1 5.4 1-20.2 1 3.4 1 17.6 1-15.9 1 11.2 1-17.8 1 24.8 1-15.8 1 5.5 1-5.1 1 11.6 1 5 1 1.7 1-14 1-14.3 1 20 1-9.5 1 7.8 1-12 1 9.1 1-18.7 1 5.3 1 24.4 1-21.5 1-3.7 1 11.9 1-4.4 1 3.2 1-17.3 1 21.9 1-20.5 1 .5 1 21.6 1-10.1 1-10.7 1 19.5 1-18.2 1 14.9 1-15.6 1 19 1 3.3 1-21.7 1 11.9 1-11.8 1 18.7 1-28.3 1 23 1-19 1 5.7 1 7.1 1-4.4 1 16.6 1-29.2 1-.7 1 29.3 1-29.2 1 21.2 1-1.3 1-1.2 1-7.1 1 3.6 1-2.9 1 12.9 1-17.1 1-9.6 1 28.4 1-18.9 1 6.8 1-6 1 22.1 1-23.8 1 7.4 1-11.9 1 5.4 1 1.8 1 5 1-21.2 1 20.4 1-13.1 1 22.7 1-22.3 1 27.8 1-5.8 1-27.7 1 6.5 1 19.8 1-21.9 1 12.4 1-4.1 1-12.7 1 13.6 1 7.7 1-10.2 1-2.2 1-12.2 1 12 1-.9 1-10.8 1 15.9 1-7.8 1-1 1 20.6 1-18.6 1 14.1 1-1.9 1-27.6 1 31.4 1-15.7 1 16.5 1-15.3 1 7.9 1-16.3 1 19.6 1-20.8 1-3.6 1 15.2 1 16.5 1-7.9 1-22.9 1-.3 1 19.5 1-14.8 1-3.2 1-2.5 1 19.2 1-28.2 1 25.5 1-11 1 19 1-20.3 1 20.2 1-25.3 1 20.7 1-19.8 1 16 1-20.1 1 25.9 1-6.2 1-7.1 1 6.3 1 10.2 1-6.6 1 2.6 1-11.6 1-1.2 1-14.3 1 33.1 1-14.8 1-21.3 1 18.5 1-3 1 6.5 1-2.8 1-16.5 1 22 1 2.4 1-8.9 1-11 1-7.3 1 22.1 1-10.6 1 14.8 1-20.3 1-.7 1 18 1-20.1 1 6.5 1 10.6 1-9 1 12.9 1-19.3 1-9.4 1 25 1-7.7 1-9.3 1-.3 1 1.1 1 13.3 1-19.6 1 23.6 1-10 1 13.7 1-2 1-12.2 1-2.4 1 13 1-19.2 1 22.5 1-14.9 1 13.9 1-25.1 1 12.1 1-7.6 1 7.3 1-10.9 1 21.6 1-18.8 1 4.1 1 8.7 1 .2 1-18.5 1 9 1 8.7 1-10.4 1 16.1 1-10.8 1 11.1 1-22 1 21.4 1-21 1-3.9 1 20.9 1-13.4 1 18.4 1-26.8 1 22.3 1-14.4 1-3.1 1 21.6 1-20.1 1-3.1 1 19 1-12.7 1 6.3 1-7.2 1 16.2 1-24.2 1 11.4 1 7.2 1-8.8 1-8.1 1 4.9 1-8.5 1 9.5 1 11.3 1-20 1 21.5 1-15.4 1 12.7 1-20.1 1 17.5 1-17.9 1 24.8 1-23.9 1 20.2 1-20.8 1 9.9 1 11.2 1-10.5 1 8.8 1-21.7 1 25 1-26 1 7.9 1 5.3 1 15.2 1-16.6 1 7.2 1-8.4 1 16.5 1-7.5 1-3.4 1-10 1 9.1 1 3.8 1-15.2 1 13.4 1 3.5 1-9.1 1 13.3 1-14.8 1 10.3 1-12.4 1 18.7 1-14.9 1 9.9 1-29.8 1 19.1 1-2.5 1-11.9 1-1 1 1.2 1 20.1 1-6.9 1 1.3 1 6.3 1-19.5 1-2 1 28.4 1-6.9 1-13.5 1 20.2 1-26.1 1 22.4 1-16.1 1 11.9 1-5 1-9.9 1 4.5 1-1.3 1 14.6 1-8.3 1-7.4 1 12.4 1-22.3 1 20 1-12.6 1 27.7 1-10.1 1-13.6 1-16.1 1 15.4 1-10.3 1 18.3 1-22.4 1 26.2 1-15.6 1 3.2 1 .4 1-2.7 1 12.8 1-20.9 1 20.1 1-18 1 20.3 1-7.2 1-17.2 1 23.3 1-20.8 1 1.8 1 30.4 1-8.4 1-15.4 1-17.2 1 30.3 1-21.6 1 18.1 1-9.6 1 8.4 1-8.9 1 7 1-6.4 1 11.9 1-11.5 1 14.3 1-1.8 1-17.8 1 13.3 1-19.8 1 18.7 1-5.7 1-9.8 1 10.9 1-3.2 1 14.4 1-4.7 1-17.1 1 16.8 1 4.7 1-22 1-3 1 24.4 1-23.3 1 22.6 1-20.7 1 14.4 1-13.2 1 26.5 1-30.9 1 13.6 1 .4 1-7.2 1 3.6 1 16.6 1-3.4 1-20.7 1 14.1 1-8.2 1 3 1-2.5 1 11.2 1-1.1 1-6.1 1-13.6 1 14.8 1-16.3 1 19.8 1-21.6 1 3.4 1 16.5 1-13.2 1 8 1-9.3 1 20.2 1-23.7 1 25.7 1-3 1-14.8 1 10 1-18 1 15.6 1 2.9 1-12.8 1-5.4 1 19.8 1-20.8 1 22.9 1-27.3 1 16.8 1 6.9 1-4.7 1-19.5 1 32.8 1-9 1-7.4 1-15.2 1 20.4 1-11 1-4.7 1 10.7 1-15.6 1 18.4 1-2.9 1-16.5 1 14.8 1-11.9 1 22.3 1-25.1 1 23.2 1-20.3 1-5.3 1 16.2 1-12 1 12.9 1-14.5 1 13.1 1-5.9 1 11.7 1-6.2 1-7 1 6.3 1-5.2 1 5 1 10.8 1-13.9 1-8.3 1-2 1 24.9 1-4.6 1-6.3 1-7.5 1 11.7 1-9.9 1 3.5 1-5.9 1 6.3 1 8.5 1-11.8 1 9 1-21.1 1 26 1-18.8 1 8.4 1-1.9 1-12.4 1 17.5 1-11.7 1-3.9 1 1.1 1 12 1-16.6 1 23.1 1-7.6 1-8.6 1 12.3 1-14 1 8.3 1-12.2 1 4.7 1 5.6 1 3.6 1-4.7 1 3.9 1-10.3 1-8.7 1 22.1 1 8.7 1-21 1 11 1 5.5 1-19 1 17.3 1-21.3 1 15.8 1-4.1 1-10 1 19 1-11.6 1-.1 1 12.7 1-1.7 1 1.6 1-10.3 1-7.8 1 9.7 1 2.7 1-5.2 1 11.8 1-2.9 1-9.1 1 13.6 1-15.3 1 11.3 1-2.1 1-9.6 1 10.4 1-1.1 1-19.3 1 8.6 1 17.6 1-24.9 1 18.4 1 6.9 1-21 1 3.3 1 12.1 1-17.7 1-3.3 1 18.8 1-12 1 8.3 1 13 1-15.9 1-3.9 1 15.5 1-10.1 1-7 1 20.2 1-26.6 1 11.1 1 9.4 1-4.6 1-7.8 1 16.5 1 .5 1 1.4 1-26.8 1 8.4 1 18.5 1-14.3 1 4.6 1-12.3 1 15.8 1-3.9 1-10.4 1 14.4 1-5.8 1-4.8 1 7.6 1-10.8 1 9.6 1-11.8 1 19.7 1-13.1 1 .2 1 10.4 1-16.7 1 10.8 1-13.1 1 5.9 1 15.2 1-18.4 1 13.8 1-18.3 1 7 1 14.8 1 .4 1-24.6 1 16.3 1 1.3 1-15.3 1 2 1 21.2 1-25.6 1 15.7 1-15.8 1 20.5 1-16.5 1-2.6 1 14.9 1-7.4 1 13.8 1-20.6 1 10.6 1 1.2 1-18.8 1 31.5 1-23 1 23.5 1-14.9 1-2.8 1 13.8 1-23.3 1 20.9 1-9.1 1 13.4 1-21.4 1-1.9 1 12.2 1-14.6 1 4.1 1 12.6 1-12.1 1 10.2 1 12.4 1-17.4 1 1.5 1 4.4 1-8.4 1 15.5 1-9.6 1-12 1 19 1-4.8 1-12 1 9.4 1-17.5 1 3.6 1 16.2 1-10.1 1 10.3 1-14.2 1 11.5 1-13.4 1 20.4 1-15.9 1 3.6 1 5.1 1-13.5 1 1 1 6.8 1 15.9 1-1.5 1-22.1 1 25 1-.2 1-15.3 1 8.5 1-3.3 1-23.6 1 19.9 1-.3 1-13.3 1 .8 1 26.7 1-25.3 1-1 1 18.5 1-9.3 1-3.1 1 15.2 1-17.8 1 16.2 1-11.5 1 8.6 1 2.4 1-10.3 1-1.2 1-7.4 1 26.5 1-3 1-22.7 1 21.1 1-23.1 1 15.1 1-14.4 1 24.4 1-13.2 1 23 1-26.3 1-2.3 1 12.7 1-2.5 1 12.5 1-9.3 1-7.1 1 4.3 1-10.5 1 10.2 1 8.9 1-26.2 1 20 1-18.3 1 25 1-23.2 1-3.4 1 14.1 1-14.5 1 25 1-25.9 1 12.8 1 2.3 1-12.6 1 23.5 1-10.4 1-8.1 1 19.5 1-12.1 1-11.7 1 23.6 1-22.1 1-2.8 1-1.3 1 22.9 1-19 1 18.1 1-9.6 1 2.9 1-4.5 1 15.6 1-19.4 1 16.3 1-10.8 1 10 1 8.9 1-13.9 1-16.8 1 21.9 1 9.6 1-21.9 1 9.9 1-13 1 3.8 1 6.9 1-7.6 1 14.7 1-15.8 1-10.2 1 18.2 1-18.4 1 14.5 1-16.2 1 15.7 1-2.2 1 12.4 1-16.5 1 2.3 1-1.1 1 11.3 1-2.7 1-8.7 1 16.4 1-20.7 1 7.5 1 8.7 1-16.1 1 16.8 1 .2 1-14.7 1-8.9 1 20.8 1-13.4 1 9.6 1-11 1 4.6 1 2.8 1 6 1-1.9 1-8.3 1 6.9 1-14.8 1 20.5 1 9.4 1-31.8 1 19.5 1 12.6 1-9.1 1-4.1 1-9.6 1 11.6 1-8.8 1 15.2 1-20.2 1 13.7 1-13.8 1-1.1 1 13.5 1-11.5 1 6.4 1-1 1-.8 1-.4 1-3.3 1 4.1 1 12.3 1-12.7 1 14.1 1-3.4 1-16.8 1-3.5 1 17.7 1-13.9 1 13.2 1-8.7 1 12.1 1-25.1 1 26.9 1-24.6 1 5.3 1 16.8 1-13.8 1 13.9 1-25 1 28.8 1-22.3 1 19.9 1-19.7 1 17.1 1-5 1 7.5 1-14.2 1 11.7 1-17.5 1 11.3 1-17.8 1 21.9 1-15.5 1 15.1 1-9 1-12.2 1 22.6 1-13.9 1 18.3 1-23.2 1 12.8 1-5.3 1 12.7 1-7.2 1-14.6 1 1.9 1 20.3 1-21.3 1 12.8 1-3.4 1 11.4 1-20.9 1 3.2 1 13.4 1-3.2 1-4 1 2.2 1-1.7 1-.7 1 14.8 1-17.7 1 14.3 1-25.8 1-1.6 1 10.9 1 6 1-3 1 3.3 1-4.7 1-3.3 1 19.3 1-4.9 1-20.8 1 17.7 1-6.7 1 10.3 1-13.4 1 15.4 1-24.2 1 14.2 1-13.7 1 17 1-4.4 1-9.7 1 9.1 1 12.1" stroke="#da4c4c" stroke-width="2.4" vector-effect="non-scaling-stroke" stroke-linejoin="miter" stroke-miterlimit="10"/><path transform="translate(688.2 0) scale(0.4482 1)" d="M0 850.9l1-24.2 1-23.8 1-6.3 1-2.1 1-10 1-19.3 1 9 1-25.4 1 12.8 1-22.8 1 17.5 1-29.9 1 24.7 1-17.3 1 4 1-7.9 1-2.6 1 15.8 1-14.5 1-2.1 1-14.7 1 24.9 1-2 1-18.9 1 7.3 1-17.2 1 .6 1 17.3 1-15.6 1 19.5 1-25.9 1-.1 1 27.7 1-20.2 1 2.9 1-6.3 1 6.7 1-17.3 1 13.3 1-24.8 1 17.3 1 6.5 1-18.6 1 .4 1 14.9 1-4.8 1 6.3 1-4.2 1-7.4 1 5.5 1 3.2 1-16 1 20.8 1-15.1 1-5.9 1-3.1 1-5.6 1 12.7 1-17.6 1 18.6 1 4.1 1-3.2 1-19.2 1 27.3 1-18.3 1 7.3 1-22.3 1 27.5 1 .2 1-21.9 1 23 1-22.3 1-15.4 1 18.4 1 11.2 1-11.7 1 16.6 1-23.6 1 6.9 1 1.7 1 13.8 1-27.9 1 21.7 1-15.9 1-2.3 1 17.8 1-27.5 1 2.5 1 17.9 1-23.3 1 33.7 1-18.2 1 10.1 1-27.9 1 33 1-19.4 1-3.4 1 7.6 1-6 1 29.7 1-10.5 1-16.2 1-4.2 1-5.6 1 24.1 1-16.6 1 .8 1-19.6 1 10.5 1 9.1 1-5.2 1 16.4 1-18.8 1 10.6 1-3.6 1-15.1 1 28.5 1-24.9 1 22.3 1-30.6 1 24.4 1-13.6 1-.7 1 16.1 1-16.1 1 11.8 1-3.9 1-12.1 1 22.9 1-31.3 1 28.3 1-20.4 1 12.4 1-15.4 1 26.1 1-7.7 1-5.1 1-2.1 1-2.9 1 13.4 1-23 1 27.5 1-18.1 1 7.8 1-12.5 1 19.1 1-19.4 1 20 1-32.4 1 27.6 1-18 1 19.2 1-25.3 1-5.3 1 1.1 1 30 1-16.5 1 2.7 1-6.5 1 26.9 1 .5 1-25.3 1-15.4 1 24.5 1 1.4 1-16.8 1-7.8 1 33.1 1-28.4 1 9.1 1 .9 1 11 1-12.3 1 15.6 1-26.3 1 10.6 1 8.8 1-16.1 1 .8 1 19.1 1-14.4 1 1.9 1 7.4 1-13.9 1 8.4 1-5.1 1 4.9 1-12.7 1 19.1 1 .5 1-11 1-6.2 1 14.5 1 .1 1-6.2 1-12.7 1 13.8 1 3.6 1-13.9 1 .5 1 9.5 1-.2 1-17.5 1-2.6 1 7.7 1-12.2 1 32.5 1-32.1 1 11.5 1 14.7 1-15.8 1 .3 1 19.7 1-29.5 1 23.7 1 2.5 1-18.1 1 21.5 1-9.7 1-19.5 1 21.6 1-24 1 9.5 1-9.8 1 .4 1 17.9 1-8.5 1 5.6 1 8.2 1-9.1 1 5.3 1-20.4 1 8.5 1 13.7 1-15.5 1 1.3 1 18 1-10 1-7 1 12 1-11.7 1 3.7 1 4.5 1 4.3 1-9.2 1-13.7 1 7.1 1-6.5 1 16 1 14.3 1-17.9 1-8.8 1 18.6 1-17.4 1 18.1 1-29.5 1 42.7 1-35.9 1 18.4 1 6.3 1-13.7 1-1.3 1-5.5 1 2.9 1 7.5 1-21.7 1 19.2 1-6.9 1 14.5 1 4.2 1-31.6 1 7 1 22.6 1-16 1-.3 1 12.6 1-26.8 1 33.5 1-25 1 23.6 1-24 1-3 1 15.8 1-2.4 1-15.9 1-.8 1 19.4 1-8.1 1 3.3 1-10 1 8.3 1-10.2 1 1.2 1-.6 1 7.1 1 6.4 1-18.5 1-2.3 1 25.5 1-18.5 1-6.2 1 13.5 1 24.2 1-24.5 1 12.7 1 1.8 1-17.3 1 9.8 1 6.9 1-36 1 20.7 1 17.6 1-33.5 1 32.4 1-28.1 1 18.6 1-18.7 1 16.8 1 14.1 1-26.2 1 9.7 1 8.7 1-24.8 1 5 1 17.1 1-19.4 1 24.7 1-18.7 1 11.1 1-12.3 1 13.9 1 .7 1-.9 1-11.5 1 10.3 1 1.7 1-27.3 1 26.4 1-22.6 1 16.2 1-13 1-12.4 1 11.2 1 16.1 1-2.3 1 1.6 1-8.7 1 5 1-11.2 1 12.4 1 15.5 1-22.4 1-4 1 14.6 1-11.4 1 7.4 1-15.8 1 13.6 1-17.9 1 16.7 1-14.3 1 21.1 1-24.4 1 34.9 1-22.9 1 10.1 1-19.8 1 22.7 1-27.5 1 32.2 1-28.4 1 19.2 1-12.5 1 4.8 1 9.2 1 4.9 1-29 1 22.3 1 6.2 1 .6 1-23.4 1 15.1 1-2.2 1-3.9 1-1.3 1 7.1 1-12.4 1 16.1 1 .9 1-13.9 1 1.5 1-5.6 1 16.4 1-12.2 1 17 1-21.9 1 9.2 1-8.2 1-2.9 1 13.7 1-22.8 1 14 1 10.8 1 2.5 1-16.8 1 23.6 1-28.9 1 30.4 1-23.6 1 6.6 1 13.4 1-.4 1-36.6 1 33.5 1-20.2 1 7.6 1-3.7 1-12.2 1 19.4 1-1.7 1-11.7 1 16 1-7.2 1-3.9 1 7.5 1 18.6 1-22.2 1-2.8 1-15.9 1 25.2 1 1.5 1-13 1 11.1 1-15.1 1 25.2 1-28.2 1 21 1-17.3 1 19.5 1-28 1 28.8 1-24.5 1 .7 1 27.5 1-28.5 1-2.6 1-12.7 1 34.9 1-14.9 1-12.8 1 5.4 1 35 1-5.5 1-18.5 1 5.7 1-1.5 1-11.1 1 18.5 1-13 1 11.8 1-15.9 1-2.4 1 11.1 1-15 1-6.8 1 8.9 1 19.3 1-22.4 1 20 1-4.8 1-21.1 1 2.9 1 20.6 1-24.6 1 22 1-15 1 11.3 1 19.2 1-27.1 1 25.5 1-26.1 1 24.6 1-20.1 1 19 1-19.9 1 15.6 1-13.2 1-2.4 1 7.3 1 11.2 1-29.5 1 18.1 1 .7 1 9.9 1 1.9 1-26 1 26.2 1-34 1 13.6 1 24.2 1-26.3 1 22.4 1-39.6 1 15.5 1 30.8 1-29.3 1-1.3 1 15.9 1-19.8 1 6.3 1 22.2 1-6.8 1-2.7 1-26.6 1 4.2 1 38.8 1-31.1 1 14.6 1-25.1 1 6.9 1 24.4 1-23.2 1 23.4 1 1.9 1-37.3 1 45.7 1-21.9 1-22.5 1 4.2 1 24.8 1-8.3 1-19.1 1 17.4 1-13.3 1 25.7 1-5.6 1-25.1 1 34.7 1-33.9 1 26.6 1-13.3 1 30.1 1-42.7 1-8.8 1 15.3 1 1.4 1 19.1 1-14.6 1-1.2 1 14.2 1-22.1 1 13.3 1-15.1 1 16.2 1 15.4 1-40 1 36.2 1-1.2 1-14.9 1-2.2 1-5.1 1 37.5 1-20.5 1-31 1 41.4 1-14.6 1 5.5 1-25.1 1 .4 1 26.9 1-19.8 1 15.9 1-10.4 1 2.4 1-12.4 1 5.3 1 22.7 1-29.5 1 9.5 1 19.6 1-32.9 1-2.7 1 22.5 1 13.6 1-39.8 1 34.4 1-34.4 1 34.7 1-27.2 1-5.4 1 22.9 1-23.3 1 48.4 1-34.8 1 25.1 1-22.5 1-16.4 1 23.2 1-25.6 1 33.3 1-32.9 1 39.7 1-35.4 1 2.7 1 18.7 1-6.2 1-2 1 17.6 1-30.4 1 36 1-28.9 1 12.1 1-22.2 1 7.2 1 8.3 1 3.4 1-3.3 1 8.5 1-20.8 1 12.8 1-3.8 1 18.1 1-32 1 22.3 1-22.2 1 36.5 1-31.8 1 33.5 1 9.7 1-9 1-16.2 1 10.8 1-28.9 1-5.1 1 19.7 1-17.5 1 27.1 1-13.8 1 8.3 1 10.6 1-27.9 1 20.8 1-9.9 1 14.3 1 6.7 1-2.1 1-33.7 1 13.1 1 12.6 1-20.4 1 11.4 1-19.3 1 25.5 1 10.8 1-10.6 1 3.8 1-.6 1-14.7 1 6.1 1-11.8 1 25.7 1-23.3 1 4.7 1 7.6 1-8.1 1 10 1-8.3 1-19.1 1 26.1 1-23.8 1 27.1 1-18.7 1 25.2 1 2.9 1-23.9 1 16.7 1-18.2 1-7.9 1 .1 1 18 1-24.5 1 1 1 1.2 1 1 1 36.4 1-3.9 1-34.6 1 34.1 1-25.1 1 7.2 1 3.3 1 7.9 1-11.3 1 2.2 1 15.4 1 4.9 1-34 1 21.7 1-28.2 1 34.6 1-38.7 1 13.4 1 22.5 1-6.8 1-3.7 1-4.4 1-10.5 1 8.3 1-3.4 1 12.7 1 22.3 1-16.8 1-28.4 1 32.2 1-19.6 1-16.7 1 24.2 1-10.3 1 4.7 1 14 1-25.2 1 5.2 1 19.4 1-16.2 1 15.5 1-1.5 1-1.4 1 1.5 1-21.3 1 26.6 1-29.3 1-1.7 1 24.5 1-26.8 1 29.6 1-24.1 1 28.4 1 3 1-31.1 1 15.7 1 16.2 1-30.4 1 14.7 1-16.9 1-2.8 1 27.6 1-1.8 1-12.4 1-13.6 1 14.6 1-10.8 1 24 1-17.6 1 17.1 1-22 1 18.7 1-20.8 1 22.7 1-17.5 1 7.5 1 .6 1-17.3 1 29.1 1-16.7 1 21 1-33.6 1 17.5 1-12.3 1 30.9 1-28.8 1 27.8 1-.7 1-18.7 1 16.6 1 5.7 1-19 1-25.9 1 25.1 1-8.7 1 2.5 1 22.9 1-21.2 1 19.6 1-18.3 1 13.4 1-11.6 1-15.6 1 17.4 1 23.6 1-12.9 1-19 1 24.3 1-19.9 1 8.5 1 11 1-35.5 1 33.6 1-2 1-31.9 1 31.1 1-21.6 1 4.8 1 19.1 1-8.1 1-26.9 1 17.4 1 19.1 1-36.9 1 7.6 1 18.3 1-20.1 1 21.3 1-4.8 1-22.5 1 3.6 1 22.2 1-9.2 1 .1 1-9.9 1 22.4 1-25.7 1 6.5 1 17.7 1-13.2 1 10.4 1-8.2 1 4.5 1-5.2 1 7 1-11.4 1-8.7 1 17.2 1-3.8 1-5.5 1 11 1-.9 1 10.3 1-32.3 1 14.7 1 20.1 1-29.2 1 0 1 8.7 1 17.4 1-15.7 1 3.9 1-15.1 1 11.4 1 18.8 1-27.6 1 17.3 1 18.9 1-42.3 1 25.2 1-16.1 1 11.9 1-13.5 1 25.9 1-36.5 1 13.8 1 16.1 1-7.7 1-21.2 1 31.9 1-14.8 1 10.3 1 6.3 1-18.8 1 18.5 1-19.2 1 3 1-9.7 1 16.4 1-10.4 1 15.1 1-23.3 1 24.2 1-26.3 1 13.4 1-9.5 1 20 1-22.5 1 30.6 1-28.4 1 25 1-33.6 1 24.8 1 5.9 1-26.5 1-2.1 1 27.9 1-17.7 1 10.4 1 1.4 1-19.3 1 13.8 1-19.7 1 22.3 1 20.3 1-38.5 1 17 1 3.6 1-9.2 1 8 1-9.9 1 11 1 3.6 1-10.5 1 14.4 1-27.9 1 25.6 1-22.7 1 4.6 1 14.1 1-18 1 20.7 1 5.7 1-23.8 1 10.9 1-22.4 1 32.9 1-27 1 26.3 1-22.2 1 20.5 1-32.5 1 35.3 1-17.4 1 1.4 1 9.5 1-23.9 1 17 1-1.3 1-10.9 1 16.5 1-10.4 1 10 1-24.4 1 35.6 1-43.7 1 42.9 1-29.6 1 18.1 1-21.9 1 23.2 1-20.7 1 19 1-10.9 1 21 1-33.2 1 32.9 1 .9 1-4.7 1 4.1 1-3.8 1 5.1 1-30.1 1 14.5 1 9.9 1-17.7 1 21.9 1-31.2 1 28.8 1-13.3 1 12.4 1-16.9 1-11.2 1 4.4 1 21.7 1-28.2 1 27.1 1-22.9 1 29.2 1-30 1-1.5 1 15.5 1 13.9 1-4.4 1-25.5 1 18.6 1-8 1 19.7 1-2.6 1-25.9 1-1.1 1 30.9 1-26.6 1 16.7 1-24.2 1 1.7 1 8.9 1 14.4 1-19.2 1 17 1 12.7 1-16.3 1-19.3 1 33.4 1-26.5" stroke="#5387dd" stroke-width="2.4" vector-effect="non-scaling-stroke" stroke-linejoin="miter" stroke-miterlimit="10"/><circle cx="1136.0" cy="586.4" r="4.2" fill="#7d54b2"/><circle cx="1136.0" cy="566.0" r="4.2" fill="#479a5f"/><circle cx="1136.0" cy="578.6" r="4.2" fill="#da4c4c"/><circle cx="1136.0" cy="565.7" r="4.2" fill="#5387dd"/></svg>
<div class="panel" style="left:1217px;top:398px;width:581px;height:524px"></div>
<span class="t" id="t58" style="left:1486.8px;top:449.0px;font-size:22.5px;font-weight:700;color:#2b3038;transform:scaleX(0.9060);">loss</span>
<div class="a" style="left:1217.2px;top:477.9px;width:580.2px;height:50.9px;overflow:hidden">
<span class="t" id="t59" style="left:95.4px;top:5.0px;font-size:19.5px;color:#7d54b2;transform:scaleX(1.0315);">dastardly-duck-4</span>
<span class="t" id="t60" style="left:291.0px;top:5.0px;font-size:19.5px;color:#479a5f;transform:scaleX(1.0529);">clairvoyant-chipmunk-3</span>
<span class="t" id="t61" style="left:84.8px;top:30.0px;font-size:19.5px;color:#da4c4c;transform:scaleX(1.0563);">bountiful-badger-2</span>
<span class="t" id="t62" style="left:299.1px;top:30.0px;font-size:19.5px;color:#5387dd;transform:scaleX(1.0308);">adventurous-aardvark-1</span>
</div>
<div class="a" style="left:1753.9px;top:483.09999999999997px;width:14.9px;height:45.8px;background:#fafafa;border-left:1px solid #ececec;border-right:1px solid #ececec;box-sizing:border-box"></div>
<div class="a" style="left:1757.9px;top:486.0px;width:8.1px;height:37px;background:#c1c1c1;border-radius:4px"></div>
<span class="t" id="t63" style="left:1246.8px;top:571.0px;font-size:18px;color:#666b75;transform:scaleX(0.9988);">0.5</span>
<span class="t" id="t64" style="left:1246.8px;top:618.0px;font-size:18px;color:#666b75;transform:scaleX(0.9988);">0.4</span>
<span class="t" id="t65" style="left:1246.8px;top:666.0px;font-size:18px;color:#666b75;transform:scaleX(0.9988);">0.3</span>
<span class="t" id="t66" style="left:1246.8px;top:713.0px;font-size:18px;color:#666b75;transform:scaleX(0.9988);">0.2</span>
<span class="t" id="t67" style="left:1246.8px;top:760.0px;font-size:18px;color:#666b75;transform:scaleX(0.9988);">0.1</span>
<span class="t" id="t68" style="left:1261.8px;top:807.0px;font-size:18px;color:#666b75;transform:scaleX(0.9984);">0</span>
<span class="t" id="t69" style="left:1291.8px;top:881.0px;font-size:18px;color:#666b75;transform:scaleX(0.9984);">0</span>
<span class="t" id="t70" style="left:1371.4px;top:881.0px;font-size:18px;color:#666b75;transform:scaleX(1.0051);">200</span>
<span class="t" id="t71" style="left:1461.1px;top:881.0px;font-size:18px;color:#666b75;transform:scaleX(1.0051);">400</span>
<span class="t" id="t72" style="left:1550.7px;top:881.0px;font-size:18px;color:#666b75;transform:scaleX(1.0051);">600</span>
<span class="t" id="t73" style="left:1640.4px;top:881.0px;font-size:18px;color:#666b75;transform:scaleX(1.0051);">800</span>
<svg class="" style="left:0;top:0;fill:none" width="2467" height="1528" viewBox="0 0 2467 1528"><path d="M1285.0 494.0 h14.2" stroke="#7d54b2" stroke-width="3.2" stroke-linecap="round"/><path d="M1481.3 494.0 h14.2" stroke="#479a5f" stroke-width="3.2" stroke-linecap="round"/><path d="M1274.6 519.0 h14.2" stroke="#da4c4c" stroke-width="3.2" stroke-linecap="round"/><path d="M1488.9 519.0 h14.2" stroke="#5387dd" stroke-width="3.2" stroke-linecap="round"/><path d="M1285.4 580.4 H1744.8" stroke="#ececef" stroke-width="1.2"/><path d="M1285.4 580.4 H1305.8" stroke="#e5e5ea" stroke-width="1.4"/><path d="M1285.4 627.7 H1744.8" stroke="#ececef" stroke-width="1.2"/><path d="M1285.4 627.7 H1305.8" stroke="#e5e5ea" stroke-width="1.4"/><path d="M1285.4 675.0 H1744.8" stroke="#ececef" stroke-width="1.2"/><path d="M1285.4 675.0 H1305.8" stroke="#e5e5ea" stroke-width="1.4"/><path d="M1285.4 722.2 H1744.8" stroke="#ececef" stroke-width="1.2"/><path d="M1285.4 722.2 H1305.8" stroke="#e5e5ea" stroke-width="1.4"/><path d="M1285.4 769.5 H1744.8" stroke="#ececef" stroke-width="1.2"/><path d="M1285.4 769.5 H1305.8" stroke="#e5e5ea" stroke-width="1.4"/><path d="M1285.4 816.8 H1744.8" stroke="#ececef" stroke-width="1.2"/><path d="M1285.4 816.8 H1305.8" stroke="#e5e5ea" stroke-width="1.4"/><path d="M1285.4 817.2 H1744.8" stroke="#e5e5ea" stroke-width="2.9"/><path d="M1296.8 546.3 V857.1" stroke="#e5e5ea" stroke-width="3"/><path d="M1296.8 857.1 V867.3" stroke="#e5e5ea" stroke-width="2"/><path d="M1295.3 857.5 H1744.8" stroke="#e5e5ea" stroke-width="2.9"/><path d="M1386.5 846.9 V867.3" stroke="#e5e5ea" stroke-width="2"/><path d="M1476.2 846.9 V867.3" stroke="#e5e5ea" stroke-width="2"/><path d="M1565.8 846.9 V867.3" stroke="#e5e5ea" stroke-width="2"/><path d="M1655.5 846.9 V867.3" stroke="#e5e5ea" stroke-width="2"/><path d="M1296.8 900.7 H1744.8" stroke="#ececef" stroke-width="1.2"/><path transform="translate(1296.8 0) scale(0.4484 1)" d="M0 570.9l1 29.2 1-.6 1 9.2 1-1 1 12.3 1-2.4 1-2.2 1-4.7 1 27.9 1-3.4 1 9.1 1 3.5 1 15.2 1-12 1-21.1 1 27.3 1-16.4 1 19.9 1-.8 1-19.3 1 23.9 1-2 1-6.6 1 7.7 1 11.7 1-10.6 1-13.5 1 7.9 1 25.6 1-27.6 1 25.8 1-32.3 1 26.6 1-12.1 1 23.9 1-18.9 1 1.3 1 11.5 1-19.3 1 12.2 1 .7 1 7.5 1-13.5 1 12.7 1-6.4 1 4.1 1-1.1 1-19.9 1 35.6 1-15.8 1-16 1 23.3 1 7.1 1 .4 1-10.2 1 15.1 1-7.5 1 10.3 1-14.9 1 10.3 1-21.5 1 31.2 1 10 1-9.3 1-13.7 1 17.4 1-25 1 27.1 1-30.2 1 20.9 1-5.5 1 2.1 1-7.1 1 16 1-20.7 1 28.7 1-14.6 1 5 1-8.1 1 22.2 1-23.8 1 9.8 1-15.7 1 26.2 1-23.2 1-3.2 1 10.3 1 15.9 1-7.6 1 5.9 1-19.9 1 25.2 1-23.8 1 11.4 1 1.1 1 13.8 1-18.1 1 3.5 1 10.5 1-15.5 1 17.7 1-15.9 1 13.8 1-21.5 1 17.5 1 5.6 1-10.1 1 16.5 1-15.3 1 11.6 1-2.6 1-14.1 1 3.6 1 22.9 1-5 1-15.7 1-5.7 1 4.3 1 27.5 1-21.8 1 20.8 1-23.9 1 15.1 1-17.8 1 6.3 1 9.7 1 11.6 1-23.8 1 12.7 1-4.2 1 18.3 1-37.6 1 32.1 1-8.8 1 14.9 1-19.7 1 11.9 1-16.4 1 3.2 1 2.6 1 10.8 1-10.4 1 7.3 1-15.9 1 17.9 1 13.1 1-23.2 1 15.3 1-18.6 1 4.1 1 10.6 1-7.3 1 6.5 1-9.8 1 11.5 1-13.2 1 12.1 1 6.1 1-19.8 1 22.3 1-12.1 1 9.2 1 9.6 1-20 1 19 1-13.7 1-11.7 1 .8 1 29.4 1-23.4 1 20.9 1-26.2 1 21.1 1-23.2 1 27 1-1.2 1-16.6 1 22.2 1-3.1 1-11.7 1-11.5 1 23.5 1-25.4 1 15.4 1-4.2 1 5.3 1-17.3 1 18.4 1-3.2 1-3.7 1 21.4 1 .5 1-24.6 1 12.5 1-6.6 1-5.9 1 15.3 1-10.9 1 16.5 1-26.2 1 22.1 1 2.3 1-19.5 1 31.3 1-18.3 1-10.9 1 9.8 1 6.8 1 2.8 1-23.4 1 29 1-21.4 1 19.8 1-25 1 28.4 1-26.9 1-.5 1 8.3 1 20 1-26.4 1 18.7 1-20 1 22.4 1 4.5 1-22.6 1 14.7 1 14.6 1-7.1 1-25 1 18.2 1-20.3 1 6.5 1 22.4 1-29.7 1 25.7 1-16.6 1 15.1 1-23 1 24.3 1-18 1 5.6 1-11.8 1 25.7 1 5.8 1-28.1 1 13.7 1 7.2 1-23.9 1 24.9 1-15.5 1 8.3 1-13.1 1-1 1 25.7 1-13.1 1-15.8 1 22.8 1-20.7 1 29.4 1-29.1 1 1.8 1 12.7 1-2.4 1-12.4 1 26.6 1-3.8 1-20.3 1 21 1-15.3 1 9.7 1-18.3 1 30.5 1-22 1 12.5 1 14.6 1-21 1-14.6 1 4 1 1.7 1 23.4 1-4.3 1 8.7 1-26.5 1 6.7 1 6.9 1-12.4 1 12.4 1-16 1 23 1-20.3 1 20.2 1-16.9 1 3.4 1 8.3 1-16.4 1 32 1-18.8 1 16.5 1 .2 1-21.7 1 16.2 1-4.2 1-13 1 10.6 1 15.2 1-6.7 1-24.7 1 23 1-6.1 1-9.6 1 15 1-9.3 1 21.7 1-28.1 1 18.1 1-1.7 1-14.9 1 20.1 1-14.1 1 13.2 1-22.4 1 13.5 1-12.9 1 11.7 1 8.2 1-4 1-14.2 1 19.9 1 2.6 1-3.1 1-15.7 1 10.8 1-26.9 1 13.9 1 3.2 1 11.5 1 7.8 1-26.7 1 14.1 1 7.7 1-11.9 1-17.9 1 27.9 1-11.9 1 11.6 1-21.6 1 22.6 1 1.9 1-16.1 1 11 1 7.9 1-9.8 1-10.3 1 18.6 1 8.4 1-16.9 1-13.5 1 2.7 1 16.3 1-14 1 30.2 1-23.2 1 4.4 1-15.2 1 25.7 1-26 1 22 1-9.5 1-6.5 1 10.7 1-4.7 1 15.7 1-10.9 1-10 1 9.1 1-14.8 1 13.1 1-11.3 1 21.6 1-11.4 1-16.4 1 17.3 1-.6 1-10 1 26 1-25.2 1 19.7 1-23.4 1-5.5 1 16 1 10.2 1-5.8 1-14.7 1-.7 1 28.3 1 .7 1-24.8 1-1.9 1 7 1 12.7 1-13.9 1 14.1 1 5 1-22.9 1 17.4 1-29.4 1 20.9 1 6.5 1-6.3 1 9.7 1-14.9 1 13 1 10.8 1-15.9 1-16.2 1 19.8 1-19 1 6.7 1 10.1 1 4.6 1-11.2 1 6.6 1-3.2 1 5.9 1-17.8 1 24 1-31.2 1 13.2 1 22.1 1-17.4 1 4 1 11.3 1 .3 1-21.9 1 25.3 1-10.8 1-12.2 1 23.9 1-17.3 1 6.8 1-14.7 1 15 1-14.3 1 21.8 1-5.1 1-19.8 1 15.4 1-11.7 1 18.4 1-20.7 1 27.8 1-25.6 1-3.2 1 26.4 1-12.8 1 1.9 1 13.5 1-9.8 1-6.3 1 8.5 1-5.7 1 .8 1-6.3 1 17.9 1-20.9 1-15.2 1 16.7 1 10.8 1-8 1 13.8 1-4.9 1-4.1 1 5.8 1-27.9 1 37.3 1-26.5 1 23.7 1-23.6 1-8 1 9.1 1 18.5 1-9.5 1 16.2 1-1.5 1-2.3 1-8.3 1 8.5 1-12.5 1 4.2 1-13.2 1 1.2 1 17.1 1 6.2 1-21.8 1 16.8 1-23.5 1 .3 1 2 1 16.3 1-2.7 1-8.9 1 18.7 1-24 1-8.5 1 17.4 1 9 1-9.3 1 13.3 1-11.7 1 6.6 1-11.2 1 25.2 1-26.6 1-3.9 1-1.5 1 15.3 1-1.6 1 11.3 1-11.9 1 7.2 1-10.2 1 15.9 1-20.7 1 20.7 1-25.6 1 7.4 1 10.1 1-13.3 1 20.9 1-15.4 1 7.8 1 .5 1-15.3 1 20.5 1-5.6 1-16.5 1 30.1 1-11 1-15.2 1 12.9 1-11.2 1 .1 1 24.8 1-24.5 1 11.6 1-11 1-3.5 1 28.8 1-10.3 1-11.3 1 1.7 1-1.4 1 13.1 1-7.8 1-1.6 1-2.7 1 6.4 1-16.4 1 31.7 1-29.1 1-2.6 1 18 1-15 1 24.6 1-24.3 1 20.9 1-7.7 1 3 1-7.6 1 17.6 1-28.3 1 32.2 1-18.6 1 8.7 1-17.6 1 27.4 1-28.2 1 25.4 1-26.8 1 28.4 1-29.3 1 1.5 1 15.5 1-3.5 1 5.3 1-17.9 1 .5 1 25 1-29.1 1 31.9 1-22.1 1 22 1-25 1 22.9 1-18.1 1-.5 1-4.9 1-2 1 22.3 1-16.8 1 19.6 1 1.7 1-12.2 1 .8 1 8 1-13.5 1 16.5 1-21.1 1-4.4 1 36.5 1-27 1 5.6 1-6.8 1-6.8 1 13.9 1-16.9 1 29.6 1-19 1 14 1-18.2 1 23.1 1-16.3 1 13.1 1-22 1-.2 1-6 1 24.7 1-10.3 1 10.6 1-14.7 1 2.2 1 15.8 1-11.9 1 7.1 1-9.7 1 21 1-20.4 1 7 1-1.2 1 12.3 1-17.2 1 17.9 1 2 1-31.3 1 31.6 1-17.7 1 21.9 1-28.6 1 25.2 1-31.8 1 17.6 1-15.3 1 15.2 1-7.1 1 10.1 1 2.5 1-16.7 1 19 1-12.3 1-11 1 31.3 1 2.1 1-7 1-26.2 1 .6 1 7.1 1 8.5 1-4.1 1 11.6 1-4.3 1 7.7 1-9.6 1-9.9 1 1 1 9.6 1 13.1 1-25.5 1 12.3 1-16 1 29.4 1-29.1 1 15.9 1-17.3 1 27.4 1-6.5 1-6.4 1-9.3 1 24.5 1 1.4 1-26.6 1 21.8 1-10.3 1 14.7 1-23.6 1 5.2 1 11.2 1-15.1 1 9.1 1 19.6 1-12.2 1-13.5 1 10.9 1-4.8 1 10.3 1-17.5 1 17.1 1-26.2 1 20.9 1-14.5 1 26.2 1-11 1-18.6 1 26 1 1.2 1-23.1 1 25.1 1-18.3 1 12.1 1 1.1 1-22.2 1 12.7 1-6.4 1 22.4 1-24.5 1 14.4 1 5.4 1-17.4 1-8 1 15.2 1-8.7 1-6.9 1 20.9 1-7.6 1 18.3 1-29.5 1 .8 1 19.7 1-11.3 1 6.1 1-15.1 1 19.7 1-21.2 1 30.8 1-23.8 1 15 1-15.9 1 9.3 1-1.5 1 4.8 1-9.1 1 7.2 1-15.4 1 22.9 1 .3 1-15.3 1 7.3 1 6.2 1-23 1 25.5 1 1.5 1-12.2 1-3.7 1-9.4 1 23 1-13.2 1 12.6 1-22 1 5.1 1 12.3 1-2.9 1-8.2 1 18.7 1-14.4 1 18.1 1-22.6 1 24.5 1-25.1 1 10.7 1-3.4 1-10 1 25.5 1-22.2 1 25 1-23.3 1 12 1-5.3 1 15.4 1-28.6 1 24.8 1-2.6 1-22.6 1 18.8 1-4 1 5.7 1-3.2 1 14.7 1-20.9 1 7.5 1-3 1-12.7 1 9.5 1 11.5 1-22.2 1 .2 1 24.9 1-21.7 1 27.2 1-26.2 1 22.3 1-3.2 1-19.4 1 8.1 1 12.5 1-16.9 1 23 1-28.7 1 25.4 1-23.9 1-3.8 1 27.7 1-13.5 1-9.9 1 8.4 1 16.8 1-6.8 1-19.3 1 8.1 1 6 1-1.3 1 3.8 1-14.6 1 19.1 1-8.9 1 3.9 1-12.9 1 11.7 1-1.4 1 14.2 1-20.8 1 18.5 1-1.3 1-2.6 1-19.4 1 27.6 1-25.3 1 20.2 1-16.1 1 11.2 1-21.8 1 6.4 1 23.3 1-17.8 1 6.9 1-16.2 1 30.3 1-17.5 1 24.3 1-10.5 1 4 1-17.7 1 10.1 1-4.6 1-16.8 1 22.5 1-17.5 1 20.4 1-19.5 1 11.9 1-11.7 1 19.7 1-12.9 1 17.3 1-17.1 1 1.7 1-8.7 1 22.4 1-24.6 1 26.5 1-16.5 1 16.9 1-6.2 1-12.3 1 4.8 1-.8 1-15.1 1 25 1-21.4 1 24.4 1-18.6 1 12.8 1-5.1 1-12.7 1 26 1-21.7 1 11.7 1-18.4 1 30.1 1-27.2 1 15.1 1-17.9 1 25.7 1-13.3 1-11.7 1 21.5 1-12.8 1-8.3 1 33.3 1-15.7 1-20 1 21.7 1-23.3 1 10.6 1 10.2 1-7.3 1 18.9 1-36 1 11.2 1 14.2 1-13.9 1 9.7 1-5.6 1-14.1 1 19.6 1-6.2 1 1.3 1 26.4 1-36.2 1 27.9 1-24.6 1 13.7 1 12.5 1-10.1 1 8.8 1 5.2 1-4.7 1-25.1 1 16.4 1-8.2 1 21.9 1-28.6 1 15.4 1 6.8 1-4.6 1-14.3 1 15 1-20.4 1 28.9 1-22.7 1 17 1-21.2 1 21.6 1-23 1 11.7 1 8.3 1-4.1 1-24.7 1 32 1-16.4 1 8.6 1-5.9 1-6.7 1 22 1 .2 1-19.6 1 8.2 1-13.9 1 21.3 1-10.4 1 7.9 1-7.2 1 15.2 1-26.8 1 22.3 1 5 1-22 1 9.3 1-15.7 1 25.1 1-25.3 1 20.6 1-6.2 1 14.2 1-23.5 1 3.1 1 21 1-23.6 1 9.4 1 10.3 1-8.5 1-6.5 1-9 1 23.1 1 15.2 1-28.1 1 22.8 1-3.4 1-19.5 1 .3 1-.9" stroke="#7d54b2" stroke-width="2.4" vector-effect="non-scaling-stroke" stroke-linejoin="miter" stroke-miterlimit="10"/><path transform="translate(1296.8 0) scale(0.4484 1)" d="M0 544.9l1 34.4 1 15.6 1 9.6 1 5 1 2.4 1-20 1 11.5 1 .1 1 27.1 1-17.1 1 20.2 1-9.3 1 22.7 1-22.7 1-3.8 1 6.5 1 .8 1 16.6 1-12 1 19.5 1 8.3 1-13.8 1-6.5 1 30.1 1-14.8 1 6.4 1-15.8 1 17.9 1 .9 1-12.1 1 21.7 1-20.1 1 9.8 1 10.8 1-24.4 1 31.1 1-30.7 1 11.1 1 10.3 1-4.1 1-2.5 1 20.1 1-29.9 1 17.4 1 2.4 1-12.4 1 .8 1 15 1-7.8 1 5.5 1-.1 1-16.3 1 26.9 1-22.8 1 6.1 1 9.7 1-16 1 33.3 1-25.6 1 17.8 1-18.6 1 25 1-15.7 1 13.9 1-21.8 1 26.5 1-2 1 10.5 1-16.6 1-15.4 1 19.2 1 8.7 1-22.5 1 19.3 1 4.2 1 3.2 1 .7 1-17.8 1 11 1-13.7 1 12.1 1-5.2 1-1.1 1 22.2 1-15.7 1 7 1-9.5 1-15 1 1.9 1 24 1-8.4 1-4.7 1 21.9 1-20.3 1-4.2 1-4.3 1 24.2 1-4 1-10.8 1 6.4 1-1.7 1 13.3 1-25.2 1 27.1 1-4.5 1-9.4 1 15.4 1-10.5 1-12.4 1 23.5 1 5.4 1-3.7 1-1.1 1-12.8 1 19.3 1-28.6 1 14.8 1-11.1 1 15.9 1-14.9 1 9.3 1 3.2 1 6.3 1-10.2 1 5 1-13.8 1 20 1 .7 1-12.2 1 15.3 1-12.6 1-.9 1-4.7 1 5.7 1 14.5 1-24.2 1 2.1 1 11.8 1 1 1-14.3 1 28.2 1-18.8 1 9.5 1 7.5 1-18.7 1 12.7 1-10.4 1 17.3 1-3 1-18.8 1 15.8 1-13.8 1 1.6 1 1.5 1 6.3 1-6.4 1 8.4 1-10.6 1 16.6 1 2 1 3.5 1-15.9 1 12.4 1-21.8 1 16 1-10.3 1 17.3 1-9.5 1-12.9 1 18.6 1-16.3 1 25.6 1-26.5 1 5.1 1 9.3 1 12.9 1-16.7 1-10.1 1 6.4 1 21.5 1-23.3 1 21.3 1 8.6 1-13.4 1-9.7 1 3.7 1-8.1 1 24.9 1-16.8 1-2 1 15.4 1-31.6 1 19 1-12.3 1 26 1-12.9 1 12.3 1-21.4 1 24.6 1-28 1 22.2 1-22.6 1 12.5 1 9.7 1-12.2 1-11.9 1 17.9 1-5 1 12.3 1-12.4 1 7.3 1 4.6 1-9.1 1 8.7 1 7.2 1-18.8 1 12.5 1 5.5 1-23.2 1 22.6 1-9.3 1 5.1 1-19.1 1 11.6 1-8.2 1 14.9 1-18.5 1-3.3 1 25.6 1-13.8 1 16.6 1-18.2 1 8 1-12.7 1 27.1 1-16.3 1 4.9 1-9 1-9.8 1 19.5 1-16.4 1 15.7 1-17.1 1 18.3 1-20.3 1 22 1-11.4 1-10.2 1 28.4 1-28.8 1 28.2 1-23.4 1 16 1-10.9 1 7.3 1 13.5 1-9.1 1-8.1 1 12 1-11.8 1-12.4 1 26.7 1-20.6 1 21.8 1-20.7 1-13.1 1 7.7 1 19.3 1-11.6 1 13.9 1-10.6 1 3.4 1 2.6 1-1.9 1 1.4 1-3.7 1 9.1 1-16.8 1 15.2 1-10 1 20.3 1-.9 1-26.3 1 4.1 1 17.5 1-12.2 1 8.5 1-12.8 1 11.3 1-16.7 1 17.4 1-14.5 1 15 1-8.8 1 21.6 1-18 1 5.7 1-8.2 1 6.4 1-4.1 1 16.9 1-18.3 1 13.5 1 1.9 1-14.4 1-15.6 1 35.2 1-23.6 1 20.1 1-16.5 1 7.2 1-9.7 1 9.1 1 4.1 1 2.7 1-10.6 1 10.4 1 .9 1-9 1-10.2 1-4.4 1 23.1 1-16.4 1 11.9 1-19 1 17.9 1 5.3 1 4.9 1-19.1 1 24.5 1-11.7 1-4.8 1 13.1 1-23.4 1 26.1 1-14.9 1-15.1 1-.4 1 20.8 1-14.3 1 25.1 1-33.6 1-5.1 1 35.5 1-28 1 9.2 1 9.6 1-19 1 19.3 1-14.9 1 5.2 1 8.5 1 .3 1 13 1-17 1 14.9 1-23.7 1-1.5 1 .5 1 25.6 1-25.9 1 29.3 1-28.7 1 15.3 1-1.4 1-9.7 1 3.8 1-7.6 1 17.9 1-13.3 1 8.2 1 6.6 1-10.1 1 11.8 1 1.1 1 5.2 1-11.7 1-1.5 1 9.5 1-13.5 1 14.4 1-26.5 1 28.8 1-19 1 6.5 1-13.6 1 20.1 1-9.4 1-17.5 1 19.7 1-11.6 1 16.3 1-24.9 1 33.6 1-13 1-3 1 16.6 1 2.1 1-29 1 16.8 1-17.2 1 17.2 1-17.4 1 17.1 1-18 1 28 1-13.3 1 14.5 1 3.9 1-18.2 1 .6 1 7 1-8.5 1-6.9 1 19.8 1-12 1-12.2 1 16.4 1-17.2 1 13.6 1 9.2 1-19.3 1 36.3 1-28.3 1 16.5 1-12.9 1 17.7 1-10 1 9.5 1 .1 1-26.4 1 10.6 1 11 1-21.9 1 18.4 1 6.7 1-1.1 1-25.8 1 14.4 1 7.2 1-9.3 1 1.4 1-4.4 1 8.3 1 4 1-21.6 1 26.6 1-14 1 15.2 1-16.9 1 15.5 1-20 1 15.5 1-17.3 1 24.6 1-18 1 18.9 1-3.4 1 6.3 1-26.3 1 10.3 1-11.2 1 24 1-2.6 1-8.2 1-1.1 1 1 1-14.5 1 17.3 1-15.1 1 14.5 1-11 1 22.6 1 8.6 1-13.1 1-15.5 1 18.2 1-5.4 1-1.9 1-3.8 1-2.6 1 15.7 1 .5 1 2.2 1-18.5 1 11.9 1-18.9 1 23.2 1-18 1 5.3 1-13.8 1 13.9 1-11.8 1 23.4 1-25.2 1 18.2 1-12.1 1-7.4 1 2.4 1 8.3 1 16.8 1-26.4 1 17.8 1-10 1 30 1-41.7 1 7.5 1 17.1 1-6.8 1 17.1 1-20.5 1 14.5 1-22.5 1 26.4 1 .5 1-10.1 1 11.9 1-34.1 1 16.7 1-9.1 1 16 1-7.3 1 9.7 1-11.2 1-5.3 1 9.8 1-15.2 1 10.1 1 9.8 1-7.1 1-10.1 1-4.4 1 1.9 1 10.2 1-6.7 1 8 1 5.3 1-8.9 1 22.4 1-17 1 3.1 1-.1 1 7.1 1-11.1 1 4.9 1-2.3 1-13 1 7.7 1 10.9 1-11.2 1 7.4 1 11.7 1-13.1 1 13.1 1-.7 1-14 1-2.8 1 11.8 1-14.8 1 11.7 1-10.9 1 13.6 1-10.8 1 18.3 1-15 1 3.8 1-9.2 1 27.8 1-33.9 1 20 1-8.4 1 15.9 1-26.6 1 16 1-4.5 1 13.1 1-15.6 1-3.8 1-5.5 1 13.2 1 18.1 1-19 1 3.8 1-12.4 1 25.4 1-27.1 1 .5 1 16.8 1-6.8 1-4.5 1-4.4 1 .6 1 13.6 1-11.1 1 13.1 1-19.1 1 29.3 1-19.2 1 19.6 1-21.2 1 9.4 1-17.4 1 17.7 1-10.8 1 10.2 1-1.1 1 4.1 1 9.6 1-25.7 1 17.6 1 4.9 1-23.7 1 27.2 1-28.2 1 28.8 1-29.1 1 23.2 1-15.4 1 1.6 1 9.1 1-14 1 18.1 1-7.3 1 12.4 1-3.7 1-12.5 1-11.1 1 28.7 1-24.5 1 4.7 1-8.4 1-1.6 1 5.8 1-4.2 1-.8 1 23.8 1-20.8 1 25.4 1-24.9 1 16.5 1-11.5 1 21.9 1-26.9 1 24.9 1-17.3 1 12.9 1-20.6 1 21 1-18.7 1 22.4 1-26 1 20.6 1-19.5 1 19.3 1-16.1 1 21.5 1-1.7 1-18.7 1 14.3 1-20 1 17.5 1-3.2 1 5.7 1-16.7 1 15.1 1-18.8 1 5.5 1-6 1 19.6 1 18.2 1-17.8 1-8.4 1 9.7 1 15.6 1-10.4 1-22.8 1 28.2 1-16.9 1 10.6 1-23.1 1 5.4 1 18.1 1-10.4 1-13.5 1 27 1-21.1 1 13.9 1 11.3 1-7.3 1-11.1 1 16.8 1-27.2 1 27.7 1-21.8 1 2.7 1 8.6 1-7.4 1 9.2 1-13.2 1 20.2 1-4.6 1-22.9 1 21.1 1-21.8 1 29 1-23.8 1-3 1 25.4 1-22.2 1 18.2 1-10.7 1 19.2 1-32.8 1 21.3 1 2.2 1 15.2 1-16.8 1 6.9 1-14 1 8.7 1-14.9 1 9.2 1-9 1-2.7 1 19.6 1-14.5 1 12.9 1-23.5 1 8.3 1 16.3 1 5 1-26.7 1-2.5 1 7.8 1 9.6 1-16.7 1 17.4 1-3.9 1 22 1-2.3 1-20.2 1-16 1 3 1 24 1-12 1 15.5 1-24 1 19.1 1 11.4 1-26.7 1 22.2 1-14.4 1 8.3 1-14.7 1 11.7 1 12.8 1-19.9 1-13.2 1 15.4 1 1.4 1-.8 1-9.6 1 12 1-8.7 1 20.1 1 4.3 1-28.9 1 22.4 1-21.3 1 16.8 1-19.3 1 11.3 1-5.7 1 2.9 1 14.9 1-23.6 1-1.9 1 8.8 1 14.6 1-16.5 1 16 1-9 1 16.1 1-8.8 1-20.8 1 25.9 1-22.4 1 18.7 1-16.9 1 11.1 1-12.1 1 22.2 1-26.8 1 32 1-24.4 1 16.2 1-23.4 1 31 1-31.2 1 29.8 1-8.9 1-17.5 1 17.2 1-6.3 1 .8 1 14.7 1-31.9 1 25.7 1-21.1 1 16.1 1 14.4 1-18.4 1 4.1 1-17 1 31.8 1-25.5 1 8.3 1 6.8 1-18.8 1 3.4 1 16.5 1-23 1 8 1 1.2 1 8.8 1-3.1 1 7.4 1-8.8 1 1.9 1 6.9 1-17.3 1 14.7 1-20.4 1 30.5 1-19.1 1-10.1 1 28.6 1-26 1 23.7 1-32.9 1 25.2 1-6.4 1 3.7 1-15.4 1 26.9 1-21 1 20.8 1-21.7 1 17.5 1-20.9 1 16.6 1-14.8 1 23.4 1-20.7 1 25 1-24.5 1 12.1 1-14.3 1 14.5 1 12.2 1-25.9 1 14 1-18.6 1 30.1 1-4.2 1-16.5 1 27.7 1-26.9 1 20 1-18.1 1 18 1-22.9 1 6.2 1 6.4 1-9.8 1 9.4 1 2.9 1-8.9 1 6.2 1-11.3 1 14.2 1-29.4 1 16.5 1 6.9 1-10.6 1 20 1-2.7 1-12.7 1 7.4 1-5.6 1-6 1 23.1 1-13 1 11.7 1-13.7 1-8 1 4.6 1 10 1 2.4 1-18.1 1 24.4 1-12.7 1 9.8 1-0 1-1.4 1-16.8 1 13.6 1-14.2 1 24.7 1-30 1 21.8 1-11.3 1 4.6 1 7.4 1-0 1-19.2 1 16.6 1-10.3 1-1.9 1 20.3 1-21.7 1 17 1-23.3 1 16.5 1 .7 1-14.8 1 29.8 1-4.1 1-24.2 1 12.3 1-15.8 1 24.1 1-12.6 1 1.2 1 5.8 1-14.7 1 6.5 1 8.8 1 4.8 1-17.2 1 23.5 1-4.9 1-22 1 22.4 1-24 1 18 1-16 1 14.2 1-15.5 1 27.9 1-26.9 1 15.5 1-2.6 1-4.9 1 9.2 1 6 1-20.2 1-6.4 1 16.4 1 2.6 1 6.8 1 7.1 1-28.1 1-3.4 1 25.3 1-12.9 1-3.5 1 11.8 1-10.3 1 17.3 1-28.1 1 32.5 1-31.1 1 27 1-24 1 22.1 1-16.9 1 6.3 1 9.1 1 12.1 1-18.4 1 2.5 1 9.3 1-16.9 1 19.3 1-19.6 1 14.7 1-26.1 1 29.6 1-20.5 1 8.4 1-4.3 1 16.3 1-21 1 13.6 1-23.3 1 8.5 1 9.7 1 7.9" stroke="#479a5f" stroke-width="2.4" vector-effect="non-scaling-stroke" stroke-linejoin="miter" stroke-miterlimit="10"/><path transform="translate(1296.8 0) scale(0.4484 1)" d="M0 633.8l1 3.7 1 5.8 1-1.3 1 15.6 1-12.2 1 14.3 1-6.9 1-5.2 1 12.3 1 16.8 1-21.5 1 23.2 1 .5 1 7.8 1 2.2 1-20.7 1 27.5 1-16 1 14.6 1-12.9 1 23.2 1-19.2 1 1.7 1 16.5 1 6.4 1-6.6 1-3.6 1 10.5 1-16.2 1 17 1-3.3 1 6.5 1-6.2 1-3.1 1 23.9 1-21 1 15.7 1-17.3 1 8 1 12.7 1-20.5 1 11.7 1-3.7 1 10.4 1 1.6 1-15.4 1 14.7 1-12.9 1 20.3 1-16 1 16.7 1-7.5 1-7.7 1 5.1 1 15 1-19.2 1-.9 1 22.9 1-22.7 1 24.1 1-15.1 1-.2 1 15.2 1 1.1 1-22.3 1 14.3 1-12.6 1 10.8 1 3.4 1-4.9 1 15.3 1-15.7 1 6.2 1-8.9 1 13.9 1 6.8 1-12.8 1 6 1-12.4 1 18.1 1-8.8 1 7.5 1 7.3 1-17.1 1 16.3 1-15.4 1-5.8 1 15.1 1-4.9 1 7.4 1 6.7 1-10.4 1-6.3 1 10.2 1-3.2 1 10 1-14.9 1 17.6 1-16.8 1 13.9 1-19.3 1 18.6 1-12.1 1 17.2 1-1.8 1-10.9 1 15.4 1-17.8 1 9.7 1 2.2 1-10 1 18.4 1-18.3 1-4 1 30.3 1-19 1 11.6 1-15 1 22.8 1-17.7 1-1 1 4.8 1-9.7 1 2.8 1-3.6 1 16.9 1-13 1 14.4 1-15.1 1 20.7 1-16.3 1 10.1 1-22.6 1 29.8 1-7.2 1 8.6 1-11.3 1 9.5 1-13.8 1 17 1-.8 1-23.4 1 25.6 1-22.3 1 18.6 1-14.2 1 7.6 1-10.2 1 7.7 1-8 1 11 1 8.1 1-17.1 1-1.7 1 22 1-16.8 1 .4 1 10.5 1-14.9 1 1.9 1 13.4 1-3.9 1-10.7 1 15.9 1-11 1 21.8 1-14.9 1 8.1 1-12 1 14.9 1 4.3 1-6.6 1-2.7 1 7.4 1-.4 1-19.8 1 22.9 1 1.4 1-5.6 1-16.7 1 18.6 1 1.8 1-7.8 1-2.7 1 2.5 1-1.1 1-9.2 1-.2 1 18.4 1-6.2 1-9.2 1 20.4 1-.9 1-13.7 1 .2 1-1.9 1 9.4 1 10.4 1-3.6 1-18.4 1 17.9 1-3.3 1-7.6 1 5.8 1-14.5 1 21.1 1-11 1 2 1 13.3 1-12.3 1-13.6 1 26 1-16.2 1 12.6 1-8.3 1-8.9 1 9.8 1-10.6 1 15.3 1-6.6 1 7.1 1-17.5 1 .2 1 2.5 1 20 1-10.2 1 11.5 1-15.7 1 .6 1 10.2 1-11.7 1 3.9 1-15.2 1 6.9 1 21.6 1-22.5 1 2 1 20.9 1-17.6 1 6.6 1-10 1 24.4 1-23.3 1 15.4 1-6.2 1 12.4 1-22.3 1 9 1 6.2 1-13.9 1 18 1 1.2 1-19 1 13 1 5.7 1-10.6 1 16.5 1-4.7 1-4.3 1-10.4 1-3 1 22.7 1-19.2 1 14.4 1-18.8 1 15.7 1 3 1-14.4 1 12 1 2.3 1-7.9 1 6.5 1-14.4 1 12.1 1-5.2 1 3.8 1-11.9 1 19.6 1-10.2 1 9.2 1-15.1 1 12.2 1 4.5 1-9.1 1 11.1 1-17.6 1 11.2 1 3.3 1-17.3 1-1.4 1 21.7 1-22.6 1 2.7 1 23.3 1-14.5 1 14.2 1-18.9 1 10.1 1-10.3 1-4.7 1 18 1-3 1-5 1 9.1 1-10.9 1 14.9 1-11.5 1 9.2 1-17.1 1 12.1 1 .7 1-8.8 1 19.4 1-20.2 1 7.7 1-11 1 6.1 1 7.8 1-15.1 1 20.7 1-10.5 1 7.1 1-3.7 1 6.7 1 1.8 1-17.2 1 20.7 1 .7 1-25.7 1 25.9 1-22.2 1 12.9 1-6.4 1 9.1 1-14.5 1 7 1-6.5 1-1.7 1 14.1 1-10.4 1 14.3 1-2.3 1-8.7 1 10.7 1-14.3 1 18.8 1-10.1 1-5.2 1 13.2 1-17.8 1 12.3 1-5.5 1 9.2 1-9.4 1 9.9 1-17.2 1 2.9 1-.7 1 18 1-16.7 1 17.5 1-10.5 1 9.7 1-19.1 1 20.8 1-1.5 1-13.8 1 16.4 1-16.2 1 17.6 1-24.2 1 15.6 1-20.6 1 29.5 1-10.6 1-11.3 1 12.5 1-8.6 1 18.3 1-17.6 1 18.1 1-2.7 1-15 1 15.7 1-19.4 1 11.1 1-10.8 1 6 1 15 1-14.3 1 13.7 1-18.9 1 8.6 1 2.6 1-15.2 1 25.2 1-1.6 1-17.3 1 21.9 1-3.2 1-7.7 1-16.5 1 15.5 1-6.1 1 15.5 1-2.3 1 3.2 1-21 1-3.9 1 2.5 1 18.6 1-12.8 1 .9 1 14.9 1-7.1 1-10.4 1 16.9 1-10.1 1-2.3 1 1.4 1 6.9 1-18.2 1 20.6 1-6.3 1-3.1 1 8.5 1-19.1 1 15.4 1 3.5 1-18.3 1 20.6 1-9 1 10.5 1 .1 1-.7 1-7.3 1 2.5 1-5.4 1 5.7 1-6.5 1 2.8 1-7.2 1 18.6 1-15.5 1-1.6 1 9.7 1-4.4 1-.2 1 13.8 1-1.5 1-20.4 1 10.3 1-.8 1 18.2 1-30 1 17.6 1 7.5 1-.9 1-14.9 1 8.2 1-5.6 1 5.1 1 10.7 1-20.6 1 11.5 1-13.4 1 18 1-21.3 1 20.4 1-18.7 1 22.3 1-21.4 1 4.8 1 13.4 1-18.8 1 14.4 1-6.4 1 6.6 1-15.1 1 13.5 1-4.9 1 6.5 1-11.1 1 6 1 1 1 4 1-3.9 1 11 1-21.5 1 9 1-.1 1-9.8 1 24.1 1-.5 1 3.7 1-1.9 1-22.8 1 11 1-4.7 1 13.1 1 3.4 1-21.5 1 22 1-2.8 1-17.9 1-2.4 1 23.9 1-23 1 22.8 1 0 1-2 1-21.9 1 24.9 1-23 1-2.7 1 24.3 1-16 1 6.7 1 8.3 1-19.4 1 11.8 1-14.3 1 23.8 1-23.2 1 17.7 1 5.9 1-12.4 1-10.5 1 14.5 1-8.3 1-6.8 1 17.9 1-13.5 1 4.6 1 9.1 1-6.6 1 10.2 1-17 1 6.9 1-7.6 1 12.2 1-15.1 1 22.3 1-21.2 1 8.6 1 4.7 1-11.6 1 9.9 1-3.6 1-1 1 7.9 1-12.6 1 21.4 1-.2 1-23.8 1 22.7 1-3 1-15 1 14.9 1-5.7 1-3.9 1 5.8 1-12.6 1 3.7 1 .3 1 11.7 1-14.2 1 9.3 1 7 1-1.1 1-14.8 1 8.6 1 6.9 1-1.4 1-15.8 1 6.9 1 12.6 1-13.6 1 11.5 1-9.6 1 15.7 1-4.4 1-10 1 6.5 1-15.5 1 12.2 1 8.3 1-21 1 17 1-.9 1-11.3 1 10.7 1-8.7 1-1 1 13.3 1-4.8 1 5.9 1-13.9 1 11.4 1-14 1 22 1-23.5 1 13.6 1-20.1 1 28.5 1-9.8 1-6.6 1 15.5 1-11.3 1 11.6 1-18.4 1 9.4 1-10.2 1 9 1 11.7 1-23.2 1 20.9 1-17.1 1 .7 1 11.8 1-15.9 1 12.4 1-5.4 1 15.1 1-17 1 17 1-15 1 15.2 1 1.3 1-21.3 1-1.2 1 23.2 1 .2 1-12.6 1-12.4 1 20 1-9.3 1 8.7 1-12.3 1 7.3 1 9.9 1-14.2 1-1.5 1 16.3 1-13.8 1 7.6 1-6.3 1 10.3 1-17.8 1 4.3 1 5.2 1-8.6 1 8.4 1 5.8 1-9.1 1 14.7 1-20.2 1 14.8 1-13.8 1 19 1-12.7 1-.8 1-8.7 1-7.5 1 16.8 1 4 1 7.1 1-13 1 15.4 1-13.8 1 5.5 1-4.1 1 13 1-11.7 1-10.8 1 1.2 1 20.4 1-22.6 1 18.1 1-18.4 1 19.3 1-5.2 1-4.7 1 3.9 1-4.4 1 10.9 1 3.4 1 7.4 1-10.8 1-20.4 1 6.6 1 11.8 1 10.3 1-23.4 1 15.7 1-8.1 1 10.9 1-8.1 1-5.9 1 .4 1-10.5 1 14.8 1 1.9 1-4.6 1 2.2 1-6.7 1 7.8 1-7.7 1 13.8 1-20.1 1 22.5 1 1.4 1-1.1 1-16.6 1 19.5 1-15 1 10.3 1-10.9 1-.1 1 7.5 1-7.4 1-1.4 1 .9 1-3.8 1 5.3 1-1.1 1 3.4 1-9.5 1 5.9 1 12.7 1-18.6 1 15.4 1-10.5 1-2.2 1 .1 1 14.2 1 .4 1-15.7 1 20.2 1-23.2 1 22.7 1-8.5 1-8.2 1-4 1 13.7 1 7.1 1-3.2 1-9.2 1 5.1 1-5.5 1-10.8 1 18.4 1-15.3 1 15 1 2.5 1-19.8 1 20.7 1 .1 1-1.4 1-19.4 1 16.4 1-10.1 1 6.4 1-7 1 17.2 1-16.5 1-6.9 1 15.4 1-4.8 1 7.8 1-8.7 1-0 1 18.3 1-2.1 1-19.5 1 17.6 1-20.4 1 18.6 1-8.5 1-5.5 1 10.8 1-11.9 1 10.3 1-14.4 1 12.1 1-10.5 1 13.3 1 1.5 1 1.3 1-9.9 1 9.3 1-1.3 1 5.6 1-7 1 8.9 1-25 1 3.1 1 14.1 1 2.3 1-9.5 1 12.5 1-14 1 3.4 1 4.6 1-4.5 1-11.5 1 18.8 1 1.7 1-13.5 1-3.7 1 6.6 1 14.2 1-13.1 1 7.2 1-17.5 1 20.5 1-10.1 1-9 1 22.6 1-16 1 14.5 1-13.6 1 5.8 1-5 1 6.7 1-9 1-2.4 1 14.2 1 .5 1 4 1-17.9 1 18.3 1-6.5 1 6.1 1-21.1 1 16.3 1-8.2 1 5.2 1 7.8 1-16.1 1 13.9 1-5.7 1-10 1 15 1-16.5 1 9 1-9.8 1 8.2 1 7.7 1-15.7 1 3.9 1-7.1 1 11.1 1 2.3 1-7.8 1 15.5 1-11.5 1 6.5 1-4.7 1-5.2 1 11.8 1-7.6 1 14.4 1-7.8 1-6.7 1-3.5 1 10.8 1 7.7 1-22.1 1 10.6 1-4.7 1-4.2 1 20.2 1-19.4 1 15.1 1-15.9 1 19.4 1-12.8 1-9.8 1 17.1 1-15.5 1 12.5 1-6.9 1 5.9 1-10.7 1 20 1-12.6 1-1.8 1 7.6 1-5.7 1 3.1 1-2.6 1 1.9 1-9.3 1 19.6 1-8.1 1-8.7 1 10.7 1-3.1 1-10.1 1 15.3 1-10.1 1-3.3 1 17.2 1-2.6 1-9.9 1-3.8 1-.8 1 8.3 1-12.4 1 21.8 1-21 1 13.7 1-14.1 1 15.4 1-14.2 1 17.8 1-2 1-9.8 1 11.7 1-8.1 1 6.4 1-10.1 1 16.6 1-.4 1 5.4 1-26.3 1 14.2 1-7.6 1 6.9 1-8.3 1 11.3 1-3.6 1 6.5 1-11.1 1 13.3 1-19.2 1 14.1 1-19 1 20.9 1-18.4 1 6.3 1 4.9 1-2.8 1-0 1 5.4 1-12.9 1 15 1-11.6 1 6.2 1-3.2 1-12.7 1 6.4 1 12.2 1-15.6 1 13.6 1-6.6 1 17.7 1-20.1 1 18.3 1-20.6 1 11.1 1-.4 1-13 1 21.1 1-16.2 1 8 1 3.9 1-8.2 1-.9 1-4.2 1 .8 1 4 1 16.5 1-23.7 1 23.4 1-20.6 1 18.9 1-14.9 1-3.8 1 4.6 1 8.1 1-12.2 1 14.8 1-16.1 1 21.2 1-21.5 1 17 1-13.6 1 1.5 1 11 1-13.9 1 .2 1-1.9 1 21.4 1-21.2 1 9.8 1 8.2 1-6" stroke="#da4c4c" stroke-width="2.4" vector-effect="non-scaling-stroke" stroke-linejoin="miter" stroke-miterlimit="10"/><path transform="translate(1296.8 0) scale(0.4484 1)" d="M0 601.6l1 9.4 1-2 1 29.6 1-10 1 6 1 9.7 1-7.4 1 16.8 1-24.7 1 24 1-11.4 1 7.9 1 13 1-11.2 1 17.9 1-22.1 1 24.8 1-19.8 1 2.2 1 7.4 1 20.1 1 .7 1-2.4 1-10.6 1 12.9 1-.4 1 5.9 1-9.8 1 13.3 1-15.7 1 17 1-20.6 1 34 1-35.8 1 35.8 1-30.9 1 20.5 1-21.6 1-.1 1 43.4 1-21.9 1 20.7 1-38.8 1 34.6 1-14.2 1 18.1 1-17.2 1 7.6 1-26.2 1 24.2 1-20.1 1 32 1-17.5 1-10.5 1 33.7 1-15.7 1-15.5 1-3.4 1 20.2 1 5.9 1 14.8 1-35.5 1 10.3 1 21.2 1 8.7 1-6.1 1-4.6 1-26.3 1 21.5 1-14.6 1 2.3 1 2.6 1 29 1-23.8 1 13.7 1-17.7 1 18.1 1-11.2 1 18.3 1-13.6 1 5.7 1-15.6 1 29.8 1-22.6 1 21.4 1-25.2 1 23.3 1-11.7 1-15.6 1 33.3 1-25.1 1-7.1 1 2.8 1 18.9 1 13.7 1-19.8 1 5.4 1-1.1 1 15 1-20.7 1-.2 1 20.2 1 1.5 1-32.5 1 34.1 1-.1 1-12.5 1-3.9 1 18.1 1-23.8 1 28 1-28.8 1 17.8 1-9.8 1-7.4 1 29.8 1-10.9 1-16.2 1 24 1-22.1 1 24.4 1-26.6 1 20.1 1 11.5 1-28.5 1 19.8 1-31.4 1 40.3 1-13.4 1 11.5 1-13.5 1 4.6 1-10.4 1 26.3 1-10.6 1-18.8 1 24.4 1-17.6 1 3.2 1 7.5 1-15.8 1 26.6 1-22.5 1 17.6 1-28.5 1 21.7 1-9.7 1-10.2 1 34.5 1-9.4 1 16 1-8.6 1-24.1 1-4.6 1 32.3 1-30.8 1 18.9 1-20.5 1 31 1-7.6 1-11 1-22.1 1 15.6 1-5.1 1 25.1 1 9.2 1-40 1 42.8 1-36.4 1 37.5 1-32.8 1 37.3 1-22 1 5.4 1-19.3 1 21.7 1-15.5 1 12.4 1-10.7 1 26.6 1-33 1 29.5 1-32.6 1 22.9 1 4.3 1-17.9 1-13.1 1 5.3 1 26.8 1-20 1-7.2 1 3.8 1 22 1-22.3 1 38 1-3.8 1-11.1 1 18.2 1-11.3 1-11 1-10.8 1 8.9 1 15 1-28.7 1 21.3 1-15.2 1 13.2 1-14.5 1 19.8 1-13.5 1 13.4 1-22.4 1 7.4 1 15.3 1-9.6 1 12.4 1-29.7 1 36.6 1-33.3 1 8.6 1 28.5 1-37.3 1 38.5 1-33.8 1 28.9 1-28.3 1 1.5 1 15.1 1-17.2 1 21.3 1-17.6 1 19.1 1-10 1-18.4 1 39.1 1-35.6 1 20 1 17.2 1-11.7 1-12.1 1 5.8 1 11.8 1-31.3 1 33.2 1-35.8 1 36.8 1-18 1 1.5 1-2.6 1 16.4 1-27.6 1 29.3 1-6.4 1-32.8 1 38.4 1-13 1 1.6 1-4.4 1-10.8 1 24.3 1-7.2 1-22.6 1 38.6 1-31.5 1 3.6 1 12.9 1-20.5 1 12.3 1 24.8 1-21.9 1 10.7 1-12.9 1 12.4 1-26.5 1 39.5 1-24.8 1 12.2 1-.7 1-19.5 1-3.8 1 21.9 1-1.9 1-6.2 1 9.3 1-22.7 1 36.6 1-22.9 1 13.5 1-24.1 1 24.5 1-12.4 1 21.3 1-9.5 1 4.1 1-24 1 21.9 1-21.8 1 13.1 1 18.6 1-35.1 1 25.9 1-28 1 30.3 1-24 1 17.1 1-6.8 1 3.7 1 3.8 1 4.8 1-10.7 1 6.5 1-16.8 1 7.1 1 21.4 1-23.6 1 23.5 1-24.8 1 10.5 1 3.2 1-30.4 1 8.4 1 26.7 1 5.1 1-16.1 1-16.1 1 32.7 1-18.5 1 18.7 1-19.3 1 21 1-15.7 1-13.2 1 19.3 1 .3 1-4.4 1-9.6 1 20.1 1-28.9 1 24 1-23 1 29.6 1-18.9 1 25.5 1-16.5 1 15.8 1-1.9 1-25.7 1 10.3 1-28.8 1 29.7 1-9.4 1 27.7 1-36.3 1 35.8 1-30.9 1-7.3 1 2.5 1 25.9 1-5.4 1-15.7 1-4.8 1 2.3 1-1.3 1 35.9 1-30.4 1 15.6 1-5.4 1 16 1-22 1-9.7 1 23.8 1-21.6 1 16.4 1-3.6 1 20.5 1-29.2 1 11.2 1-10.8 1-3.6 1 17.7 1-12.4 1 21 1-42.3 1 10.5 1 13 1-22.1 1 39.4 1-24.5 1 34 1-12.9 1-13.5 1 18.6 1-31.5 1-.1 1 23.7 1-5.1 1 17.7 1-18.3 1 16.4 1-14.3 1 19.8 1-20.8 1-11 1 28.5 1-30.3 1 26.9 1-28 1 25.4 1-12.4 1 16 1-31.6 1 15.7 1-23 1 15.5 1 18.2 1-19.9 1 20.6 1-17.2 1 30.5 1-32.5 1 15.2 1-19.3 1 29.2 1-17 1 13.8 1-25.8 1 26.8 1-9.3 1-8.3 1 22.3 1-29.3 1 19 1-19 1 .7 1 23.2 1-15.5 1-12.3 1 34 1-24.7 1 39.6 1-34.2 1 14.9 1-6.4 1-22.2 1 20.4 1-2.1 1-10.5 1 38.6 1-44.4 1 26 1-25 1 37.4 1-34.7 1 22.6 1-12 1 11.6 1-16.5 1-2 1 18.8 1-7.4 1-16.9 1 7.1 1 29 1-1.1 1 13.3 1-44.2 1 17.6 1-14.5 1 8.5 1 15.6 1-30.1 1 18.9 1-22.1 1-4.4 1 4.7 1 28.7 1-1.8 1-6.5 1-17.6 1 37.4 1-30.9 1 8.1 1 8.2 1 .4 1-5.4 1 16.3 1-25.6 1 14.3 1-16.9 1 26 1-27.9 1 16.7 1-22.7 1 52.6 1-31.8 1 8.6 1-14.8 1 17.6 1-15.5 1 13.9 1-21.2 1 18.9 1-26 1 37.7 1 4 1-30.7 1 19.2 1-1.4 1-24.9 1 35.7 1 .8 1-46.3 1 24.4 1 22.4 1-34.1 1 17.2 1-15.2 1 22.5 1-22.3 1 20.9 1-26.3 1 29.4 1 10.3 1-13.7 1-11.2 1 5.5 1-22.8 1 39.4 1-33.8 1 15 1-10.4 1 24 1 7.5 1-21 1 15.9 1-29.4 1 21.9 1-20.3 1 28.4 1-22.8 1 12.2 1-24.3 1 25.3 1 6.2 1-20 1 30.3 1-37.4 1 30.1 1-15 1 6.6 1-28.4 1 37.4 1-32.7 1 19.7 1-3.2 1 4.5 1-10.3 1 26.1 1-39 1 20.5 1 20.8 1-27.6 1 21.2 1-30.4 1 33.1 1-17.5 1 19.6 1-30.8 1 7.1 1 17.1 1-31.5 1 36.7 1-17 1-23.9 1 15.6 1-11.5 1 31 1-34 1 17.2 1 20.2 1-22.1 1 31.5 1-32.7 1 29.7 1-20.8 1-25.6 1 27.3 1-9.3 1 15.9 1-5.6 1 15.6 1-6.5 1-31.1 1 28.3 1-11.3 1 11.7 1-8.3 1 16.6 1-13.4 1-25.5 1 43.6 1-36.7 1 23.1 1-20.7 1 35.7 1-22 1 9 1-9.1 1 16 1-33.3 1 32.3 1-4.2 1 5.4 1-4.1 1 8.1 1-8 1-32.1 1 1.2 1 18.6 1 24.2 1 9.8 1-10.3 1-25.8 1 21.9 1-45 1 28.4 1 4.5 1 3.2 1-3.3 1-6.5 1 12.7 1-18.1 1 27.1 1-24.5 1 17.9 1-21.4 1 25.5 1-37.4 1 18.2 1 23 1-32 1 28.6 1-26.6 1 8.6 1 12.5 1-31.5 1 38.8 1 6 1 6.4 1-25.7 1-9.2 1 12.3 1-15.9 1-12 1 31.6 1-33.2 1-4.6 1 37.6 1-21.6 1 22 1-16.1 1 8.4 1-23.3 1 20.8 1 12 1 10.6 1-40.3 1 13.7 1 19.5 1-37.6 1 20.6 1 15.2 1-44 1 8.5 1 26.9 1-13.5 1 13.4 1-8.4 1 14.9 1-20 1 11 1-4.4 1-12.6 1 31.5 1-22.5 1 26 1-22.5 1 3.3 1-16.7 1 2 1 32.5 1-35.7 1 1.6 1-2.7 1 35.3 1-15.6 1 12.1 1-25 1-5.7 1 32 1 1.2 1-19.3 1 2.6 1 5.7 1-20.1 1 32.4 1-37 1 9.2 1 18.8 1-26 1 32.3 1 2.3 1-32.7 1 .1 1 37.1 1-.2 1-30.4 1 18.4 1-10.8 1 9 1-3.6 1-20.7 1 28 1 6.9 1-12.9 1-20.2 1 16.6 1-12.8 1 14.7 1-20.9 1 33.9 1-15.6 1 11.3 1-26.6 1 36.7 1-38.1 1 21.6 1-20.4 1 20.1 1 11.6 1-27.3 1 23.1 1-28.5 1 34.4 1-20.1 1 4.2 1-7.1 1 12.2 1-18.2 1-2.3 1 32.5 1 2.3 1-38.8 1 22.9 1-16.1 1 21.3 1-26.3 1 13 1 8.6 1-13.8 1 18.6 1-12.9 1 21.5 1-11.7 1-9.4 1 15.1 1-11.9 1 15.9 1-14.9 1-16 1 4.6 1 12.5 1-15 1 5 1-2.7 1 28.6 1-20.8 1 6.5 1-13.9 1 23.3 1-1.4 1-4.6 1-10.9 1 18.5 1-32.5 1 14 1 22.3 1-26.7 1 26.5 1-28.1 1 12.9 1-12.1 1 23.1 1-14.5 1-1.8 1-12.9 1 29.2 1-22.8 1 20.9 1-24.4 1 20.1 1 2.4 1 12 1-27.1 1 8.9 1 5.8 1-26.4 1 34.5 1-24.7 1-8.3 1 11.1 1 19.4 1-9.9 1-17.2 1 16.8 1-10.4 1 1.8 1 20.5 1-29.6 1 26.2 1-0 1 8.2 1-36.4 1 21 1-2.5 1-1.1 1-7.4 1 21.1 1-30 1 22.6 1-8.1 1 12.2 1-20.3 1-3 1 19.1 1-20.2 1 18.2 1-12.4 1 17.7 1-25.6 1 3.9 1-6.5 1 19.7 1-9.8 1 26.7 1-34.2 1 4.3 1 10 1 10.9 1-10.9 1-10.1 1 27.2 1-6.2 1-16.2 1-5.7 1 33.4 1 .5 1-34.4 1 23.5 1-8 1-8.7 1 25.1 1-33 1 30.8 1-21.1 1 19 1-6.7 1 14.8 1-22.2 1 7.3 1-9.4 1 21.2 1-3.1 1-16.1 1 5 1-13.1 1-.4 1 9.1 1 18.2 1-28.4 1-8.4 1 30.7 1-17.5 1 13.4 1-14.8 1 25 1-7.5 1-6.5 1-18.4 1 25.2 1-2.2 1-7.1 1 10.7 1 .4 1 6.7 1-26.2 1 15.2 1-8.3 1 19.8 1 3.6 1-16.1 1-9.3 1 18.3 1-16.3 1 9 1 2.1 1-13.1 1 4.6 1 3.5 1-19.1 1 13.8 1 11.5 1-19.6 1 19.5 1-16.4 1 4.3 1 16 1 4.6 1-35 1 6.7 1 25.4 1-25.1 1 27.3 1-22.1 1 6.2 1-3.7 1 16.8 1-8.2 1-14.1 1 14.4 1-18.6 1 25 1-3.1 1-9.1 1 10.5 1-16.3 1 11.9 1-8.5 1 16.8 1-8.2 1-14.3 1 16.5 1-7.1 1 6.8 1-16.2 1 8 1 9.1 1 2.3 1-19.7 1 10.7 1-11.7 1-4.1 1 19.8 1-15.4 1 6.3 1 16.7 1-17 1 13 1-15.6 1 24.5 1-16.5 1 15.1 1-14 1-9.3 1 1.4 1 18.8 1-24.4 1 28.2 1-5 1-17.3 1 19.1 1-21.7 1-4.8 1 22.7 1 6.2 1-18.2 1 20.7 1-21.8 1 9.5 1-4.9 1 16.7 1-31.1 1 4.7 1 7.5 1 16.7 1-13.7 1-10 1 25.5 1-28.3 1 18.9 1-16.7 1-1.4 1 28.3 1-28.6 1 22.9 1-21.2 1 16.8 1-26.2 1 29.9" stroke="#5387dd" stroke-width="2.4" vector-effect="non-scaling-stroke" stroke-linejoin="miter" stroke-miterlimit="10"/><circle cx="1744.8" cy="806.8" r="4.2" fill="#7d54b2"/><circle cx="1744.8" cy="796.0" r="4.2" fill="#479a5f"/><circle cx="1744.8" cy="843.6" r="4.2" fill="#da4c4c"/><circle cx="1744.8" cy="834.6" r="4.2" fill="#5387dd"/></svg>
<div class="panel" style="left:1826px;top:398px;width:581px;height:524px"></div>
<span class="t" id="t74" style="left:2099.4px;top:449.0px;font-size:22.5px;font-weight:700;color:#2b3038;transform:scaleX(0.9055);">acc</span>
<div class="a" style="left:1826.4px;top:477.9px;width:580.2px;height:50.9px;overflow:hidden">
<span class="t" id="t75" style="left:95.4px;top:5.0px;font-size:19.5px;color:#7d54b2;transform:scaleX(1.0315);">dastardly-duck-4</span>
<span class="t" id="t76" style="left:291.0px;top:5.0px;font-size:19.5px;color:#479a5f;transform:scaleX(1.0529);">clairvoyant-chipmunk-3</span>
<span class="t" id="t77" style="left:84.8px;top:30.0px;font-size:19.5px;color:#da4c4c;transform:scaleX(1.0563);">bountiful-badger-2</span>
<span class="t" id="t78" style="left:299.1px;top:30.0px;font-size:19.5px;color:#5387dd;transform:scaleX(1.0308);">adventurous-aardvark-1</span>
</div>
<div class="a" style="left:2363.1000000000004px;top:483.09999999999997px;width:14.9px;height:45.8px;background:#fafafa;border-left:1px solid #ececec;border-right:1px solid #ececec;box-sizing:border-box"></div>
<div class="a" style="left:2367.1000000000004px;top:486.0px;width:8.1px;height:37px;background:#c1c1c1;border-radius:4px"></div>
<span class="t" id="t79" style="left:1855.6px;top:584.0px;font-size:18px;color:#666b75;transform:scaleX(0.9988);">3.5</span>
<span class="t" id="t80" style="left:1870.6px;top:637.0px;font-size:18px;color:#666b75;transform:scaleX(0.9984);">3</span>
<span class="t" id="t81" style="left:1855.6px;top:690.0px;font-size:18px;color:#666b75;transform:scaleX(0.9988);">2.5</span>
<span class="t" id="t82" style="left:1870.6px;top:742.0px;font-size:18px;color:#666b75;transform:scaleX(0.9984);">2</span>
<span class="t" id="t83" style="left:1855.6px;top:795.0px;font-size:18px;color:#666b75;transform:scaleX(0.9988);">1.5</span>
<span class="t" id="t84" style="left:1870.6px;top:848.0px;font-size:18px;color:#666b75;transform:scaleX(0.9984);">1</span>
<span class="t" id="t85" style="left:1900.7px;top:881.0px;font-size:18px;color:#666b75;transform:scaleX(0.9984);">0</span>
<span class="t" id="t86" style="left:1980.3px;top:881.0px;font-size:18px;color:#666b75;transform:scaleX(1.0051);">200</span>
<span class="t" id="t87" style="left:2070.0px;top:881.0px;font-size:18px;color:#666b75;transform:scaleX(1.0051);">400</span>
<span class="t" id="t88" style="left:2159.8px;top:881.0px;font-size:18px;color:#666b75;transform:scaleX(1.0051);">600</span>
<span class="t" id="t89" style="left:2249.5px;top:881.0px;font-size:18px;color:#666b75;transform:scaleX(1.0051);">800</span>
<span class="t" id="t90" style="left:2303.9px;top:830.0px;font-size:18.5px;color:#666b75;transform:scaleX(1.0141);">Step</span>
<svg class="" style="left:0;top:0;fill:none" width="2467" height="1528" viewBox="0 0 2467 1528"><path d="M1894.2 494.0 h14.2" stroke="#7d54b2" stroke-width="3.2" stroke-linecap="round"/><path d="M2090.5 494.0 h14.2" stroke="#479a5f" stroke-width="3.2" stroke-linecap="round"/><path d="M1883.8 519.0 h14.2" stroke="#da4c4c" stroke-width="3.2" stroke-linecap="round"/><path d="M2098.1 519.0 h14.2" stroke="#5387dd" stroke-width="3.2" stroke-linecap="round"/><path d="M1894.3 593.6 H2353.9" stroke="#ececef" stroke-width="1.2"/><path d="M1894.3 593.6 H1914.7" stroke="#e5e5ea" stroke-width="1.4"/><path d="M1894.3 646.3 H2353.9" stroke="#ececef" stroke-width="1.2"/><path d="M1894.3 646.3 H1914.7" stroke="#e5e5ea" stroke-width="1.4"/><path d="M1894.3 699.0 H2353.9" stroke="#ececef" stroke-width="1.2"/><path d="M1894.3 699.0 H1914.7" stroke="#e5e5ea" stroke-width="1.4"/><path d="M1894.3 751.7 H2353.9" stroke="#ececef" stroke-width="1.2"/><path d="M1894.3 751.7 H1914.7" stroke="#e5e5ea" stroke-width="1.4"/><path d="M1894.3 804.4 H2353.9" stroke="#ececef" stroke-width="1.2"/><path d="M1894.3 804.4 H1914.7" stroke="#e5e5ea" stroke-width="1.4"/><path d="M1894.3 857.1 H2353.9" stroke="#ececef" stroke-width="1.2"/><path d="M1894.3 857.1 H1914.7" stroke="#e5e5ea" stroke-width="1.4"/><path d="M1905.7 546.3 V857.1" stroke="#e5e5ea" stroke-width="3"/><path d="M1905.7 857.1 V867.3" stroke="#e5e5ea" stroke-width="2"/><path d="M1904.2 857.5 H2353.9" stroke="#e5e5ea" stroke-width="2.9"/><path d="M1995.4 846.9 V867.3" stroke="#e5e5ea" stroke-width="2"/><path d="M2085.1 846.9 V867.3" stroke="#e5e5ea" stroke-width="2"/><path d="M2174.9 846.9 V867.3" stroke="#e5e5ea" stroke-width="2"/><path d="M2264.6 846.9 V867.3" stroke="#e5e5ea" stroke-width="2"/><path d="M1905.7 900.7 H2353.9" stroke="#ececef" stroke-width="1.2"/><path transform="translate(1905.7 0) scale(0.4486 1)" d="M0 857.1l1-30.5 1-14.1 1-4.8 1-19 1 1.9 1-10.7 1 1.9 1-2.2 1-13.1 1 1.2 1-3.5 1-23.4 1 23.9 1-8.5 1-9.9 1 9.3 1-7.7 1 13.4 1-17.3 1-.4 1 9.8 1-26.7 1 23.5 1-8.6 1 2.2 1-13.3 1 18.3 1 6.1 1-22.6 1 6.9 1-12.6 1 20.9 1-6.2 1 5.9 1-22.7 1 18.6 1-16.6 1 6.6 1-2.9 1 7.2 1-10 1 13.8 1 6 1-25.6 1 15.6 1 1.9 1-37.8 1 16 1 9.8 1-9.2 1 4.3 1-5 1 8.4 1-8.6 1 5.2 1-25.5 1 22.5 1-5.9 1-5.7 1-5.5 1 22.2 1-26.2 1 5.7 1 15.2 1-24.6 1 8.8 1-6.2 1 24.2 1-22 1 3.1 1 4.4 1-6 1 .5 1 15.2 1-16.4 1-13.4 1 22.8 1-2.1 1-16.9 1 15.1 1-11.8 1-1.4 1-9.6 1 20.3 1-17.2 1 3.4 1 10 1-18.6 1 25.6 1-19.2 1 17.5 1-24.3 1 15.8 1-13.6 1 11.4 1-13.1 1 12.3 1-11.4 1 21.5 1-18.5 1 7.2 1-14.5 1 9.9 1-6.4 1-5.7 1 19.9 1-18.7 1-12.1 1 14.5 1-0 1 19.5 1-16.6 1-13.5 1 20.5 1-16.4 1-5.5 1 2.8 1 5.6 1-8.7 1 21.7 1-22.3 1 25.7 1-14.5 1 15.1 1-12.8 1-13 1 17.4 1-6.1 1 10.1 1-26.3 1 27.7 1-3.8 1-15.9 1 12.2 1-7.8 1 1.8 1-1 1 7.7 1-1.6 1-7.8 1-11.4 1 6 1-8.8 1 8.9 1 7 1-5.4 1 7.9 1 9.8 1-16.6 1 11.2 1 .1 1-1.5 1-23 1 28.3 1-18.2 1-13.2 1 30 1-13.6 1 5.6 1-6.9 1 10.6 1-20.2 1 15.4 1-19.3 1 27.7 1-31.6 1 15.9 1-12.5 1 24.3 1-18.2 1 20.7 1-25.7 1 1.2 1-6.7 1 26.8 1-5.4 1-13.1 1 16.3 1-20.1 1 3.1 1 11.7 1 15.8 1-22.1 1-4.6 1 18.5 1-29.8 1 13.1 1 6.9 1-10.7 1 20.6 1-6.5 1 4.9 1-26.9 1 24 1-.2 1-27.1 1 27.1 1-17.9 1-1.4 1 .4 1 15.1 1-14.1 1 10.5 1-15.8 1 16.5 1-10.4 1 4.6 1-12.1 1 3.9 1-5.4 1 20.1 1-10.5 1 13.6 1-5.7 1-20.7 1 7.1 1 2.2 1 10.4 1-20.2 1 10.4 1 13 1-24.4 1 12.7 1-11.7 1 27.6 1-3.1 1-19.8 1-6.8 1 24.9 1-26.5 1 26.3 1-6.9 1 11.7 1 3.9 1-15.9 1-4.9 1-3.4 1-5.9 1 7.4 1 5.5 1-6.5 1 15.6 1-12.7 1-16.7 1 27.5 1-20.2 1 8.8 1-4.6 1 17.5 1-15.2 1 7.8 1-17.8 1 31.2 1-15.2 1-4.1 1-13.6 1 26.3 1-28.4 1 7.1 1 18.2 1-15.3 1-16.3 1 9.4 1 18.5 1 .5 1-19.3 1 12.6 1-8.8 1 6.7 1-2.9 1 4.6 1-5.9 1 8.7 1-21.2 1 18.6 1-8.6 1-16.1 1 19.8 1 7.9 1-15.3 1 11.6 1-15.3 1 12 1-11.8 1 14.8 1 5.6 1-17.2 1 9 1-13.6 1 25.3 1-23.7 1 3.8 1 7.5 1-9.1 1 7 1-5.4 1 6.3 1-17.9 1 18.8 1-4.7 1 17.9 1-4.1 1-27.6 1 21.9 1-21.9 1 18.7 1-2.4 1-12.7 1 20 1-22.6 1-5.5 1 6.2 1 25.4 1-28.1 1 12.6 1-9.8 1 32.5 1-37.1 1 20.4 1-21 1 24.5 1-24.7 1 29.6 1-14.7 1-7.4 1-2.9 1 16.9 1-17.5 1 8 1 2 1-6.4 1 15.7 1-10.1 1-2.9 1 15.3 1-25.1 1 13.7 1-11.7 1 .9 1 12.2 1-9.5 1 19.7 1-26 1 18.5 1-.9 1-9.6 1 11.3 1-15.2 1 9.8 1 18.1 1-10.4 1-12.7 1 16 1-21.6 1 20.3 1-3.6 1-24.2 1 23 1-13.6 1 10.6 1 5.8 1-17.8 1 13.2 1-3.9 1-7.1 1 11 1-12.1 1 .8 1 11.6 1 1.3 1-20.2 1 17.1 1-9 1 2.8 1-10.6 1 21.9 1-23.8 1 14 1-2.9 1 14.2 1-23.2 1 23.4 1-17.6 1 9.9 1-12.9 1 13.9 1-13.9 1 15.4 1-16.9 1-15.1 1 4.7 1 26.8 1 2.8 1-17.8 1 13.6 1-6.2 1-8.9 1 .9 1 7.2 1-9.7 1 9.9 1 6.1 1-1.8 1-15.2 1 10.1 1 3.1 1-12.7 1-1.4 1 23.6 1-22.6 1 16.4 1 1.7 1-13.9 1 11 1-11 1 5.8 1 11 1-27.3 1 27.4 1-30.9 1 29.4 1-27.5 1 18.5 1-4.9 1 14.6 1-8.4 1-9.6 1 10 1-5.8 1 13.6 1-20.1 1 20.8 1-3.7 1-21.1 1 11.3 1-4.6 1 17.7 1-19 1 5.2 1 12.5 1-18 1 7 1 2.5 1-20.4 1 24.8 1-15.8 1 20.8 1-24.5 1 6.3 1-1.9 1 11.7 1-15.6 1 18.1 1-13.4 1 15.7 1-15.7 1 7.1 1-25.7 1 26.8 1-11.1 1 18.4 1-25.5 1-8.9 1 22.9 1-14.8 1 18.4 1-6.9 1 13.9 1-3.8 1-19.5 1 10.8 1-7.6 1 16.8 1-5.8 1-.3 1-9.9 1 14.7 1-24.7 1 30 1-.9 1-20 1 18.4 1-18.1 1 12.9 1-13.2 1 14.9 1-19.4 1 5.8 1 9.6 1 9.4 1-4.8 1-14.3 1 18 1-12.7 1 7.9 1-18.6 1 5.5 1 18.9 1 6.8 1-19 1-16.1 1-2.4 1 18.3 1-6.7 1 6.4 1-14.5 1 22.7 1-25.8 1 18.5 1-18.8 1 .4 1 34.4 1-32.9 1 25.4 1 4.2 1-4.3 1-15.1 1 11.4 1 .3 1-18.6 1 25.9 1-30.8 1 16.9 1-7.7 1 13.4 1-22.7 1 22.3 1-18.4 1 14.3 1-9.7 1 5.5 1 9 1-13.9 1 9 1-18.2 1 22.8 1-17.5 1 20.5 1-22.3 1 17 1-21.8 1 17.9 1-11.2 1 1.5 1 18.7 1 1.8 1-5.9 1-15.1 1 10.5 1-12.7 1 6.6 1 10.6 1 4.3 1-19.2 1 8.5 1 5.7 1 3.8 1-18.7 1 .2 1 3.4 1 5.3 1-19.5 1 2.8 1 11.9 1 4.2 1-18.1 1 9 1-5.8 1 13.1 1 1.2 1 9.5 1-25.8 1 15.6 1-3.3 1 12.4 1-22.5 1 16.1 1-25.1 1 8.5 1 10.5 1-6.3 1 19 1-17.8 1-15.1 1 33.5 1-19.1 1 15.2 1 5.4 1-29.6 1-2 1 14 1-3 1-2.3 1 2.4 1-3.1 1 18 1-14.9 1 17.3 1-14.3 1-2.8 1 11.5 1 1.9 1-18.3 1 13.4 1-10 1 12.1 1-11.3 1 11.9 1-13.3 1 11.5 1-10.3 1 7.7 1-7.1 1-4.5 1 16.9 1-10.1 1 7.7 1 .5 1-13.6 1 20.9 1-22.7 1 13.6 1 9.9 1-17.4 1-13 1 19.3 1-1 1-9.2 1 9.2 1 8.8 1-19.5 1 6.9 1-6.4 1 7.8 1-11.6 1-4.1 1 22.8 1-17.9 1 23.2 1-29.2 1 19.3 1 8.3 1-.8 1-7.4 1-16.1 1 13.9 1 9.7 1 2.5 1-27.3 1 11.2 1-19 1 30.5 1-18.5 1 8 1-12.3 1 3.2 1 24 1-3.2 1-9.6 1-18.3 1 8.2 1 15.9 1-8.1 1-11.6 1 15.7 1 9.3 1-17.1 1 12.1 1-16.3 1 21.9 1-31.2 1 28.4 1-25.5 1 8.7 1-.2 1 10.4 1-10.1 1 15.9 1-16 1 8.1 1-9.9 1 1.7 1 .6 1 12.7 1-10.5 1 9 1-8 1-23 1 30.4 1-18.9 1 19.1 1 7 1-5.7 1-4.3 1-17.3 1 26 1-25.5 1 24.9 1-4 1-18.5 1 9.9 1 2.4 1-11.2 1 22.4 1-5.8 1-9.4 1-5.6 1 7.6 1-8.8 1-11.4 1 14.8 1 17.5 1-26 1 15.1 1-14 1 24.5 1-18.6 1-6.1 1 12.7 1-17.2 1 23 1-9.5 1 15.7 1-19.5 1 18.9 1-32.2 1 24.1 1-15.1 1-.1 1 23.6 1-21.5 1 10.2 1-9.2 1-12 1 19.2 1-16.1 1 29 1-10.4 1-13.5 1 6.5 1 20.1 1-32.6 1 20.4 1-4.4 1-9.1 1 16.1 1-19.4 1 9.8 1 16.3 1-11.6 1-10.4 1-3.4 1 24.6 1-21 1 7.5 1 .9 1-8.8 1 10.5 1 3.1 1-20.7 1 29.1 1-25.9 1 17 1-10.8 1 16.3 1-.3 1-15.7 1 14.8 1-20.3 1-3.7 1 31.9 1-15.4 1-2.2 1-5.1 1 3.8 1-6.1 1 12.9 1-10.5 1 3 1 8 1-21.5 1 15.2 1-10.4 1 5 1 16.4 1-26.8 1 7.7 1 20.8 1-29.1 1 8.7 1 17.2 1-19.9 1 12.5 1-20.2 1 7.9 1 8.1 1 13.5 1-24.7 1-4.6 1 3.1 1 24.3 1-25.6 1 34.6 1-15.1 1 3.1 1-10.1 1-17.2 1 24.1 1-9.9 1 17.2 1-18.7 1 10.6 1 9 1-21 1 20.9 1-30.3 1 .7 1 13.2 1 1.7 1-11.5 1 12.5 1-7.5 1 13.2 1 .8 1-13.5 1 3.7 1-6.4 1 26.9 1-10.8 1-11.9 1 12 1-18.1 1 17.3 1 6.5 1-26.6 1 14.6 1-9.7 1 16.8 1-12.3 1 14.7 1-20 1 14.7 1 .5 1-13 1 8 1 2.5 1-6.1 1 6.5 1 7.2 1-18.6 1 14.8 1-13.9 1 7.6 1-16.6 1 18.7 1-7.4 1 12.9 1-20.6 1 15.2 1-17.4 1 16.9 1 3 1-12.9 1-6.8 1 6 1 11.1 1-10.2 1 4 1 14.4 1-25.1 1 24.2 1-6 1-9.8 1-11 1 13 1-1.3 1-5.9 1 20.2 1-25.6 1 27.2 1-19.4 1 5.6 1-11.6 1 17.6 1-12.5 1 20.9 1-17.7 1 15 1-27.3 1 5.1 1 12.1 1-3.4 1 2.2 1-6.7 1 20.2 1 1.1 1-19.3 1 16.2 1-24.7 1 17.2 1 5.4 1-20.2 1 20.1 1 4.4 1-29 1 22.8 1-20.5 1 22.5 1-24.1 1 8.5 1 16.6 1-12.6 1 12.1 1-7.1 1-16.6 1 12.4 1-9.3 1 19.1 1-25.9 1 18.4 1-8.4 1 9.1 1 10.7 1-8.3 1 6.9 1-20.1 1 6.1 1 9.3 1-13.5 1 17.5 1-24.5 1 17.5 1-24.1 1 11.4 1 15.3 1-7.2 1-2.7 1 .8 1 10.7 1-7.3 1-15 1 20.9 1-20.4 1 6 1 13.1 1 6.2 1-25.1 1 25.6 1-1.9 1-24.9 1-7.8 1 33.3 1-8 1-7.6 1-7.7 1-4.1 1 16 1 20.1 1-14.3 1-23.9 1 9.8 1 16.3 1-14.1 1 6.8 1-15.4 1 18.8 1-11.5 1 19.3 1-30.5 1 22.1 1-4.5 1 20.3 1-28.7 1 9.2 1-4.3 1 5.9 1-8.8 1 8.1 1-14.7 1 27.2 1-18 1 14.4 1-28.5 1 22 1-15.3 1 7.3 1-5.7 1 17.8 1-13.3 1 17.2 1-1.6 1-21.5 1 17 1-5.2 1-10.9 1-.5 1-3.9 1 20.3 1-1.7" stroke="#7d54b2" stroke-width="2.4" vector-effect="non-scaling-stroke" stroke-linejoin="miter" stroke-miterlimit="10"/><path transform="translate(1905.7 0) scale(0.4486 1)" d="M0 857.1l1-29.4 1-22.5 1-10.8 1-11 1 2.6 1-20.3 1 10.9 1-10.1 1-17.4 1 11.4 1-29.9 1 24.4 1-21.2 1 9.1 1-31 1 28.5 1-4.1 1-17.6 1-4.8 1 20 1-29.1 1 10.3 1-5.3 1 12.9 1-24.2 1 9.7 1-10.5 1 15.3 1-20 1 3.8 1 21.2 1-19.5 1 11.7 1-5 1-14.2 1 14.6 1-15.1 1-1.1 1-.8 1 7.3 1-13.8 1 19.3 1-8.9 1-14.9 1 18.8 1 2.5 1-14.9 1 12.2 1-2.4 1-20.4 1 7.9 1-1.4 1 5.5 1-18.3 1-1.8 1 13.4 1 2 1-17.2 1 4.1 1 21.4 1-21.1 1 3.7 1 3.5 1 .6 1 20.8 1-8.7 1-15.2 1 1.3 1 5.3 1-5 1 2.6 1-15.3 1 11.5 1-14.5 1 10.6 1 11.4 1-11.1 1-6.8 1 12.9 1-.9 1-17.9 1 2.5 1 25.9 1-31.4 1 19.2 1-25.7 1-5.8 1 7.4 1 18.4 1-5.6 1-9.4 1 15.3 1-23.5 1 23.3 1-3.1 1-18.3 1 18.6 1-9 1-3.1 1 9.6 1-15 1-5.3 1 18.2 1-8.9 1 14.6 1-14 1-6.5 1 23.2 1-24.8 1-5.7 1 25.3 1-15.8 1 15.8 1-20.1 1 21 1-26.7 1 26 1-14.7 1 12.3 1-23.1 1-3.9 1 7.7 1 16.6 1-6.9 1 2.8 1-16.4 1 14.3 1-7.4 1 8.4 1-15.7 1-.7 1-12.6 1 12 1 16.1 1-19.7 1 2.6 1 .3 1 13.2 1-21 1 21.4 1-16.3 1-6.8 1 .9 1 26 1-19.1 1 15.8 1-18.7 1 11.3 1-3.5 1 10.3 1-12.6 1 3.5 1-6 1-1.2 1 14.9 1-17.8 1 12.4 1-19.3 1 8.9 1 15.6 1-23.2 1 12.1 1-15.9 1 7.3 1 14.2 1-27.9 1 33.8 1-16.1 1 5.3 1-15.7 1-3.1 1 28.5 1-27.2 1 25.1 1-11.3 1 3.7 1-14.8 1 17.5 1-7.7 1-13.1 1 14.3 1-10.6 1 17.8 1-16.9 1 18.2 1-12 1 7.7 1-13.7 1 7.1 1 11.5 1-25 1 25.3 1-14.7 1 .5 1-9.6 1-.5 1 8.2 1 10.3 1-20.9 1 20.4 1-8 1-10.9 1 23.3 1-3.2 1-9.9 1-8.8 1 16.9 1-15.3 1 7.4 1-13.8 1 21.8 1-.5 1-18 1 2.2 1 17.5 1-3.2 1-17.2 1 17.7 1-21.2 1 1.3 1 9.9 1-14.8 1-1.7 1 24.4 1-22.7 1 27.6 1-13.7 1-6 1 14 1-23 1 16.8 1-10.3 1 15.2 1-22.8 1 .9 1 13.6 1 19.7 1-7.1 1-20 1 11 1-9.3 1 11.6 1-22.2 1 25.9 1-24.1 1 18.2 1 10 1-10.7 1-11.1 1 12.2 1-19.5 1 19.6 1-20.5 1-1.8 1 23.5 1 4.2 1-9.3 1-9.8 1 2.7 1 12.7 1-3.5 1 1.2 1-18.9 1 3.7 1 4.1 1 10.8 1-12 1 21.4 1-23.1 1-12.1 1 7.6 1 7.2 1-7.7 1 9.6 1-6.4 1-10 1 17.7 1-15.3 1 20.9 1-18.7 1 7.8 1-11.8 1 26.2 1-22.3 1 19.4 1 .1 1-16.7 1 10.8 1-5.9 1-.7 1 12.6 1-1.5 1-24.7 1 8.2 1 16.8 1-16.9 1 18.7 1-13.6 1-9.5 1 8.7 1 16 1-23.5 1 10.7 1-5.5 1-7.5 1 19.5 1-7.5 1-5.4 1 8.3 1 7.4 1-27.6 1 26.9 1-23.5 1 14.8 1 10.9 1-8.6 1-6.3 1-3.4 1-1.8 1 17 1-4.9 1-14.4 1 23.1 1-12.2 1-12.1 1-1.9 1 9.4 1-7.7 1-1.5 1-2.1 1 7.4 1 16.9 1-21 1 13.2 1-13.1 1 0 1 6.5 1-7.8 1 19.4 1 2.7 1-23 1-5.8 1 28.1 1-14.1 1-6.1 1 14.3 1-23.3 1 17 1-14.7 1 22.1 1-8.7 1 19.1 1-33.2 1 24.2 1-28.1 1 24 1-22.7 1 2.1 1 2.3 1 15.3 1-10 1-10.2 1 26.1 1-22.7 1 9.7 1 2.8 1 18.7 1-28.6 1 16.2 1-21.3 1 21.5 1 2.4 1-21.3 1-.5 1 16.8 1-9.4 1 4.2 1-10.7 1 4.3 1 6.3 1-5.2 1 8.4 1-3.5 1-20.1 1 25.7 1 1.5 1 9.5 1-35.4 1 28.2 1-14.8 1-4.1 1 18.3 1 6.9 1-20.5 1-11.5 1 24.2 1 1.5 1-31.6 1 6.3 1 19.3 1-8.3 1 9.1 1-9.1 1 8.4 1 5 1-3.4 1-18.1 1 22.9 1-27.3 1 11.8 1-19.1 1 26.6 1-7.6 1 5.9 1-4.5 1-12.7 1 11.6 1 13.1 1-25.8 1 20.3 1-16.5 1 22.7 1-23.4 1 17.8 1-15.8 1 9.7 1-16.5 1 13.2 1-12.7 1 22.6 1-22 1 14.8 1-11.1 1-2.8 1 10.7 1-8.3 1 18 1-14.4 1 10.1 1-11.6 1-6.3 1 17.3 1-9.9 1 7.7 1-9 1 17.5 1-20.7 1 17 1-10.7 1 14.8 1-13.8 1 11.4 1-1.3 1-18.5 1 18.5 1-21.6 1 19.3 1-3.1 1-14 1 11.6 1-4.4 1 8 1-27.9 1 11.6 1 13.4 1 17.1 1-27.3 1 19.2 1-16 1 4 1 11.8 1-.5 1-12.2 1-13.5 1 18 1-15 1 14.4 1-7 1 22.7 1-18.7 1-10.9 1 22.6 1-21.6 1 3.9 1 5.9 1 13.1 1-25.5 1-.7 1 19.4 1-12.6 1 6.9 1 9.2 1-1 1-17.9 1 17.4 1-8.8 1-7.2 1 2 1 11.1 1-8.1 1 5.4 1-5.5 1 2.1 1 5.8 1-17.9 1 22.9 1-9.4 1-13.5 1 7.8 1-15.2 1 29.5 1-23.9 1 22.6 1-27.3 1 11.9 1 6.7 1-13 1 13.2 1-19.4 1 20.8 1-20.9 1 13.2 1 4.8 1-17.7 1 5.1 1 22.6 1-1.3 1 .3 1-11.2 1-2.7 1 16.8 1-30.7 1 25.6 1-16.5 1 20.2 1-23.7 1 18.9 1-15.3 1-4 1 13.1 1-3.5 1 3.1 1-7.4 1 16.4 1-14 1 17.3 1-19.2 1 6.6 1-14.9 1 25 1-26.5 1-1.6 1 26.2 1-11.7 1-3.4 1 .9 1-12 1 21.7 1-22.2 1-3.8 1 17.7 1 8.4 1-20.1 1 1.2 1 3 1 5.1 1 4.4 1-.2 1 4.2 1-18.9 1-.5 1 19.8 1-9.9 1 11.1 1-16.9 1 9.1 1-10.9 1-1.7 1 22.9 1-.1 1 9.9 1-12.1 1 10.1 1-29.2 1 5.1 1 8.2 1-10.2 1 17.7 1-6.5 1-11 1-5.6 1 13.6 1-10.8 1 13.3 1 5.2 1-16.6 1 7.9 1-11.6 1 20.3 1-13.9 1 18.7 1-24.3 1 18.2 1-4.1 1-19.3 1 20.1 1-19.3 1 16.6 1-8.4 1 5 1 5.1 1 3.1 1-13.8 1 21 1-21.5 1-6.8 1 19.2 1 .7 1-9.2 1-2.4 1 12.7 1-4 1 9.6 1-1.7 1-20.1 1 2.2 1-.9 1 2.4 1-4.9 1 13.8 1 10.4 1-15.4 1 5.9 1-7.4 1 5.7 1-7.8 1-9.6 1 12.7 1 7.1 1-13.9 1 4.6 1 6.2 1-11.2 1 19.6 1-15.3 1 14.3 1-3.9 1-11.2 1 16.9 1-6.6 1 1.5 1-19.6 1 21.2 1-16 1 14 1-13.3 1 8 1-14.9 1 18.4 1 7 1-27.8 1 5.9 1 11.3 1-4.8 1-13.5 1 23.5 1-22.2 1 28.1 1-6.5 1-.5 1-24.1 1 26.8 1-21.8 1 10.9 1-9.3 1 5 1-2.1 1 7.4 1-13.2 1 18.7 1-18.1 1 21.4 1 3.4 1-8.8 1 15.3 1-6.8 1-21.3 1 10.9 1-3.5 1-8.6 1 21.7 1-1.5 1-26.2 1 2.2 1 .4 1 22.5 1-24.1 1 16.5 1-18.9 1 17.3 1-6.4 1 9.6 1-13.8 1 21.1 1-17.3 1 9.9 1 9.2 1-20.3 1-4.5 1 18.6 1-17.4 1 16.9 1-18.5 1 16.9 1-22.8 1 21.6 1 8.2 1-12 1-23.1 1 31.5 1 4.5 1-24.7 1 10.5 1-15.6 1 17.6 1-12 1 24.2 1-28.4 1 24.7 1-20.8 1 23.4 1-3.7 1-17.8 1 16.8 1-2.9 1-7.5 1-4.9 1 12 1-14.8 1-4.8 1 12.6 1 .9 1-8.7 1 16 1-25.5 1 21.8 1-18.8 1 15.3 1-10.4 1-10 1 19.3 1-19.9 1 11.4 1 10 1 8.8 1-13.9 1 9.3 1-10.5 1-5.1 1-1.9 1 14.2 1-15.6 1 24.1 1-26.2 1 23.4 1-19.9 1 13.6 1 6.7 1-7.4 1-15.1 1-7.7 1 11.9 1-11.9 1 18.8 1 13.4 1-16.4 1-7.3 1-9.3 1 20.5 1-8.2 1 20.7 1-27 1 8.4 1 10.4 1 7 1-6.5 1-17.4 1 4.6 1 11 1 14 1-9.9 1-18 1 3 1-0 1 9.4 1-16.2 1 28.5 1-29 1 13.2 1 1.8 1-6.6 1 17.6 1-18.9 1 14.8 1-8.6 1 2.6 1-7.8 1 10.6 1-8.4 1-.9 1-2.1 1 13.8 1-20.6 1 18.6 1 5.5 1-20.1 1 23.8 1-10.5 1-11 1 9.5 1-12.1 1 16.6 1-15.5 1 16.5 1-1.5 1-20.1 1 23.1 1-13.2 1 7.2 1-7 1 14.1 1-26.7 1 22.1 1-14.9 1-4.2 1 14.7 1-12.7 1 7.1 1 17.1 1-8.3 1-8.7 1 7.7 1 1.8 1-22 1 34.6 1-11.6 1-3.1 1-11.5 1 14 1-12.2 1 12.6 1-21 1 24.3 1-14.9 1 2.7 1-4.8 1 13.5 1-12.1 1 7.2 1-8.9 1 5.6 1-5.8 1-9.7 1 28.2 1-29.5 1 1 1 23 1-13.5 1 14.2 1-22.6 1 2.7 1 14.4 1-10.6 1 13.6 1 7.1 1-21.3 1 22.7 1-21.6 1 7.5 1-2.1 1 10.5 1-7.5 1-4.6 1 1.2 1 7.4 1-21.9 1 12 1-6.3 1 13.2 1-19.8 1 28.5 1-20.4 1 10.7 1 13.6 1-16.2 1-18.5 1 18.7 1 10 1-16.5 1 17.9 1-17.3 1 13.1 1-17 1 20.8 1-20.6 1 21.8 1-15.4 1-8.6 1 25.3 1 5.3 1-12 1 1.3 1-19.6 1 17 1-11.3 1-10.6 1 19.5 1-4.2 1-15.4 1 32.5 1-25.9 1 5.5 1 4.8 1-4.4 1 8.5 1-10.2 1 3.5 1-9.4 1 16.9 1-8.6 1 7.7 1-12.4 1-5.2 1 20.9 1-25.5 1 21.9 1-22.8 1 29.1 1-7.5 1-12.8 1 9.9 1 8.3 1-24 1 5 1-6.5 1 23 1-24.2 1 23.9 1-22.8 1 23 1-5.1 1-3.5 1-3.6 1 13.9 1-4.3 1-4.2 1-1.3 1 2 1-16.1 1 20.1 1-3.7 1-18.6 1 19 1-10 1 7 1-9.9 1 12.7 1-.8 1-12.1 1 18.9 1-3.3 1 2.8 1-14.4 1 17.3 1-25.8 1 18.7 1-12.8 1 21 1-24.4 1-1.7 1 6 1-7.9 1 27 1-10.8 1-15.8 1 27 1-22 1 16.5 1-13.2 1 19.1 1-26.3 1 22.2 1 1.3 1-9.7 1-5 1 3.4 1 2.4 1 2.2 1-3.5" stroke="#479a5f" stroke-width="2.4" vector-effect="non-scaling-stroke" stroke-linejoin="miter" stroke-miterlimit="10"/><path transform="translate(1905.7 0) scale(0.4486 1)" d="M0 857.1l1-34.6 1-12.6 1-16.3 1-11.2 1 13.1 1-11.1 1-19.9 1 7.5 1-18.4 1-11.3 1 7.6 1-17.8 1 6 1 12.8 1-29 1 .1 1 13.3 1-12.9 1 14.6 1-18.9 1 17.4 1-27 1 11.4 1-.4 1-.4 1-13.1 1 23.2 1 1 1-19.8 1-.5 1-8.8 1 13 1-2.7 1-14 1 11.9 1-7.9 1 6.4 1-30.5 1 24.2 1-9.4 1-3.7 1 5.2 1 9 1-3.2 1-9.7 1 9.6 1-5.6 1 .5 1-10.1 1-.1 1 15.4 1-16.7 1-7.6 1 13.8 1-12.8 1 14.6 1-23.7 1 26.5 1-6.3 1-10.3 1 8 1-11 1 12.4 1-16.4 1 11 1-15.4 1-.9 1 14.5 1 11.5 1-18.2 1 10.8 1-1.4 1-26.4 1 2 1 22.1 1-13.4 1 10.5 1-17.2 1 13.3 1-14.2 1 4.1 1 9.6 1 6.1 1-23.6 1 2.5 1 23.9 1-2.9 1-6.3 1-20.8 1 14.3 1 2.4 1-6.2 1 15.3 1-20.2 1 20.5 1-19.6 1 12.1 1-16.4 1 10.4 1-8.3 1 11.7 1-6.2 1-9.3 1 12.7 1-3.7 1-16.1 1 27.8 1-33.4 1 7.7 1 8 1 10.3 1-22.4 1 24.2 1-5.2 1-13.2 1 7.2 1-2.8 1 10.1 1-21.9 1 16.7 1-7.6 1-.6 1 0 1-9.7 1-2.3 1 28.2 1-1.3 1-21.7 1 13.6 1-11.9 1 17.8 1-6.7 1-20 1 17 1-5.6 1 14.2 1-27 1 14.9 1 5.7 1-18.1 1 20.1 1-12.5 1 2.4 1-14.9 1-1.9 1 18 1 12.2 1-11.2 1-8.4 1 4.2 1 10.5 1-20.1 1 10.6 1-12.5 1 22.9 1-26.1 1 20.6 1-12.1 1 11 1 .6 1-14.8 1 14.7 1-11 1 2.5 1 6 1-11.7 1-6.9 1 19.6 1-24.4 1 10.6 1 5.1 1-3.2 1 5.4 1-19.2 1 16.3 1-17.1 1 20.4 1-11.5 1 14.4 1-24.5 1 27.9 1-2.5 1-.2 1-7.8 1 7.9 1-13.1 1-1.9 1-9.6 1 16.6 1-19.5 1 4.3 1 12.9 1-16.4 1 24.7 1-27.5 1 26.3 1-12.8 1 17.5 1-6 1-15.8 1 2.6 1 9.6 1-21.8 1 22.8 1 1.5 1-20.1 1 1.2 1 21.6 1-18.8 1 3.8 1-.9 1-13.2 1 26.9 1-18.9 1 17.9 1-2 1-11.5 1-3.6 1 3.9 1-8.7 1 4.9 1-10.3 1 .9 1 8.5 1-5.8 1 18.8 1-12.7 1 12.8 1-16.5 1 9.4 1-17.7 1 2.1 1 8.3 1-2.4 1 8.2 1 7.4 1-17.3 1 7.2 1-4.9 1 4 1-12.7 1 2 1 10.4 1-11.6 1 25 1-23.6 1 12.7 1-5.5 1 7.1 1-9.5 1-2.2 1 3.3 1 17.5 1-28.4 1 21.8 1-15.3 1-8.9 1 27.4 1-24.7 1 2.2 1-2.9 1 24.7 1-17.5 1-7.9 1 26.9 1-25.9 1-1.7 1 13.1 1-11.8 1-9.8 1 15.9 1 3.8 1 20 1-30.2 1 22.9 1-9.1 1-3.3 1 8.8 1 4.6 1-16.7 1 4.6 1-16 1 16.4 1-12.5 1 23.7 1-15.6 1 9.1 1-29.1 1 29.3 1-12.6 1 16.3 1-10.2 1-8.1 1-3.6 1 22.8 1-28.2 1-.5 1 1 1 22.9 1-24 1 28.1 1-6.1 1-22.3 1 24.2 1-24.7 1 29 1-22.9 1 17.2 1-13.9 1 8.8 1-9.6 1 15.2 1-16.9 1 8.6 1-2.5 1 1.5 1-7.2 1 19.9 1-27.5 1 21.1 1-28.2 1 21 1-11.7 1 22.2 1-12.8 1 4.1 1-14.7 1 17.3 1-20.5 1 9.3 1-10.6 1 17.6 1-2.8 1-12.6 1 1.9 1 6.5 1 9.6 1-12 1 15.4 1-22 1 17.7 1-11.6 1-.4 1 14.5 1-15 1 17 1-7.6 1-4.6 1 5.2 1 9.2 1-24.9 1 19 1-18.1 1 23.7 1-25 1 29.7 1-20.2 1-12.8 1 17.5 1-6.4 1-4.3 1 5.6 1-17.1 1 18.3 1-9.8 1 8.5 1 13 1 1.5 1-2.8 1-15.3 1 6.1 1 13.3 1-11.2 1-17.4 1 17.1 1-13.9 1 4.1 1 9.2 1-5.8 1 7.4 1-19.3 1 20.9 1-18.5 1 20 1-21.3 1 27.6 1-30.4 1 28.5 1-24.6 1 6.2 1-7.4 1 23.9 1-24.6 1-5.4 1 31 1-17.8 1 3.9 1 6.5 1-9.4 1 14 1-22.8 1 23.2 1-20 1 10 1-13.9 1 17.3 1 13.4 1-19.3 1 5.8 1 .1 1-5.4 1-9.2 1 20.3 1-12.5 1-1.6 1 4.5 1-8.1 1 10.6 1-6.1 1 4.6 1-9.1 1 6.4 1-1.3 1 1.6 1-16.6 1 26.9 1-18.4 1 19.9 1-12.4 1 12.3 1-16.6 1 13.8 1-20.1 1-3.3 1 17.1 1 4.1 1-9.5 1 12.3 1-18.7 1 15.5 1 4.9 1-20.4 1 10.3 1-17.2 1 2.9 1 15.1 1-4.7 1-8.7 1-10.8 1 31.1 1-16.3 1 11.6 1-2.2 1-6.9 1-11.1 1 12.2 1-11.3 1 25.3 1-18.9 1 13.2 1-12.3 1-2.1 1 8.2 1-13.7 1-3.4 1 17.7 1-21.6 1 17.6 1-10.7 1-.6 1 8.4 1 9.1 1-20.8 1 20 1-18.8 1 26.4 1-13 1 .6 1-11.3 1 16.8 1-17.7 1 25.7 1 .4 1-1.3 1-22.6 1 13.1 1-19.5 1 18.1 1-10.5 1 19.3 1 .2 1-9.9 1-9.1 1 19.3 1-16 1 4.5 1-7.8 1 15.4 1-20.6 1 15.1 1-9.2 1 .9 1 7.2 1-5.9 1 11.1 1-18.5 1 7 1 12 1-3.9 1-16.5 1-3 1 25.7 1-16.6 1 11.9 1-16.8 1 16.8 1-12.4 1 9.4 1-6.8 1 2.3 1-3 1 14.1 1-15.3 1 9.8 1-14.6 1 14.1 1-5.7 1-8.5 1 8.7 1-1.9 1 5.1 1-8.5 1-11.2 1 19.1 1-17.3 1 24.7 1-21.2 1 10.2 1-7.6 1 18.2 1-22.4 1 11.6 1-11.4 1 15.1 1-8.9 1-1.5 1 7.9 1-4.1 1-1.8 1 11.4 1-10.9 1 14.1 1-13.8 1 12.8 1-16.3 1-4.6 1 20.7 1-26.5 1 20.2 1-8.4 1 15.9 1-13.6 1-9 1 14.7 1-10.3 1-10.5 1 2.3 1 12.9 1 11 1-22.1 1 26.1 1-18.6 1 2.1 1 4.8 1-6.3 1-2.7 1-1.8 1 22.3 1-5.6 1-20.8 1 12.1 1-9.5 1 3 1 13.7 1-20.2 1 20 1-24.3 1 23.6 1-8.5 1 10.5 1-15 1 6.5 1 6 1-10.2 1 16.5 1-18.5 1-9 1 16.2 1-15.3 1 26.7 1-27.7 1 26.8 1-18.1 1-8.6 1 3.3 1-2.3 1 11.6 1-.9 1 14.2 1-23.4 1-8.5 1 34 1-1.8 1-20.4 1 11.3 1-5.1 1-18.6 1 21.6 1-5.6 1 13.3 1-17.7 1 8.1 1-13.8 1 15.2 1-14 1 13 1 14.9 1-33.7 1 18.4 1-11.2 1 16.4 1-15.6 1 21 1-33.6 1 35 1-13.3 1 .1 1-1 1 12.4 1-5.7 1-7.1 1-1.2 1 8.7 1-7.2 1 12.2 1 5.4 1-29.5 1 6.5 1-.8 1 15 1-9.7 1-4.7 1 14 1-8.8 1 7.2 1-10.2 1 10.1 1-12.3 1 15.4 1-22.1 1 24.4 1-15.1 1 14.8 1-12.8 1 9.1 1-22.5 1 7.4 1 7 1-3.9 1 16.4 1-8.2 1-11.1 1 19.8 1-19.1 1-9.8 1 26.7 1-19.6 1 15.9 1-29.4 1 24.9 1-14 1 1.7 1 15.9 1-3.1 1-16.5 1 19.7 1-17.6 1 4.4 1-1.1 1 10.2 1-12.8 1 4.9 1 6.4 1 3.6 1 2.6 1-22.7 1 25.1 1-7.5 1-18 1 26.5 1-2.5 1-13 1-6.9 1-2.7 1 6.8 1 16.6 1-3.9 1-9.9 1-0 1-13.2 1 27.1 1-21.9 1 13.1 1-18.1 1 16.4 1 9 1-20.9 1 4.1 1-7 1 9.3 1 11.2 1-20.7 1 13.7 1 3.8 1-21.4 1 35.6 1-29.5 1 4.7 1 1.6 1 6.9 1-5.1 1-6.9 1 19.5 1 10 1-13.7 1-17.2 1 10.6 1-20 1 6 1 17 1-3.7 1-9.7 1-3.3 1 17.2 1-19 1 33.3 1-9.6 1-14.2 1 20.1 1-28.2 1 14.3 1-2.4 1 15.7 1-16.6 1 5.8 1-10.9 1 5.7 1 8.5 1-17.9 1 11.7 1-10.6 1 22.3 1-18.9 1-9.1 1 25.9 1 8.7 1-33.7 1 10.2 1 5.2 1-3.5 1 3.4 1-19.9 1 25.8 1 .7 1-21.2 1 25.2 1 5.3 1-26.6 1 11.2 1-13.6 1 15.6 1-8.8 1 8.3 1-16.3 1 18.1 1-19.5 1 24.9 1-14.2 1 11.6 1-17 1 18.4 1-14.4 1 14 1-16.3 1-4.5 1 18 1-10.6 1-14.9 1 6.8 1 21 1-13.1 1 3.8 1-4.8 1 2.8 1 7.8 1-20.8 1 22 1-23.8 1 25 1-13.9 1 17.9 1-17.6 1 15.6 1-17.9 1 11.8 1-13.5 1 8.2 1 11.2 1 3.9 1-16.9 1-14.2 1 9 1 8.8 1 11.7 1-25.1 1 2.1 1 22.4 1-27.9 1 20 1 1.1 1-21.5 1 8.7 1 14.8 1 4.3 1-21.3 1 15.5 1-12.9 1-14.2 1 37.4 1-17.9 1-5.7 1 5.2 1-7.7 1 22.2 1-5.4 1-23.2 1 15.3 1-11.4 1 15.9 1-5.9 1-3.2 1 16 1-13.9 1 .3 1-9 1 10.4 1-.9 1-1.8 1 14.3 1-2.4 1-22.6 1 19.3 1 1 1-10.4 1 9.6 1-18.1 1 16.1 1 3 1-13.6 1 13.6 1-12.7 1 6.2 1-7.8 1 .4 1 17.6 1-17.2 1 10.7 1-16.7 1 11 1-16.3 1 33.5 1-22.8 1 23.8 1-32.4 1 7 1 16.1 1-2.4 1-12.7 1-3.3 1 20.5 1-4.2 1-10.5 1 16.2 1-21.1 1 17 1-24.5 1 17.4 1-7.6 1 3.5 1 17.7 1-16.9 1-7.6 1 0 1 4.3 1 9.3 1-11 1 17.2 1-13.9 1 7.3 1-19.5 1 16.3 1-16.7 1 22.4 1-12.3 1-17.5 1 12.5 1 9.1 1 5.5 1-9.7 1 4.3 1 3.2 1-6 1 14.4 1-23.1 1 21.2 1-23.7 1 23.9 1-9.5 1-2.8 1 9 1-6.3 1-9.1 1-2.7 1-2.2 1 18.4 1-10 1 5.7 1-15.4 1-2.2 1 20.1 1-.5 1-13.8 1 23.8 1-18.2 1 5.7 1-6.5 1 10.7 1-19.4 1 5.9 1 20.6 1-19.5 1 13.6 1-15.4 1-8.2 1 22.8 1-18.3 1 25.3 1-26.7 1 25.8 1-16.6 1 4.8 1-9.4 1 6.6 1 13.5 1-1.8 1-26.4 1 1.8 1 13.8 1-13.7 1 18.4 1-10.5 1 .9 1 18.1 1-17 1-8.2 1 20.6 1-3.9 1-4.3 1 9 1-18.4 1 12.6 1-18.1 1 21.8 1-15.6 1 21.6 1-28.1 1 27.3 1-9 1 8.2 1-24.7 1 19.8 1-23.9 1 36.8 1-25.1 1 5.2 1-7.7 1 12.7 1-14.3 1-5.2" stroke="#da4c4c" stroke-width="2.4" vector-effect="non-scaling-stroke" stroke-linejoin="miter" stroke-miterlimit="10"/><path transform="translate(1905.7 0) scale(0.4486 1)" d="M0 857.1l1-29.4 1-23.2 1-.4 1-20.9 1 4.7 1-16.3 1 8.3 1-30.8 1 13.1 1-19.3 1 22.8 1-22.2 1 14.7 1-34 1 29.9 1-18.1 1 11 1-14.6 1-10.8 1 8.5 1 3.2 1-11.8 1 5.5 1-14.6 1 16.7 1-6.8 1 16.2 1-18.7 1 19.7 1-24.1 1 1.7 1-9.3 1 21.9 1-32.1 1 33.5 1-13.6 1-7 1-7.6 1-3.3 1 18.8 1 2.5 1-19 1-.3 1 15.8 1 7.4 1-29.5 1 24.9 1-6.2 1-19.1 1 23.9 1-37.3 1 28.6 1-26.1 1-5 1 2 1 19.1 1-18 1 21.2 1-23.9 1 31.4 1-29.3 1-.7 1 28 1-31.5 1 22.2 1 9.4 1-15.4 1-23.5 1 30.7 1-17.3 1 16.8 1-23.4 1 14.6 1-8.5 1-10 1 39.7 1-30.9 1 9.7 1-2.1 1-22.7 1 16 1-11.4 1 25 1-33.7 1 2.2 1 19.6 1-23.3 1 28.1 1-25.2 1-1.5 1 18.9 1-22.6 1 9.7 1 16 1-18.7 1 19 1-28.6 1 28.4 1-.2 1-21.4 1 34.5 1-35.4 1 15.7 1-2.5 1-13 1 16.8 1-26.6 1 22.5 1-9.8 1-9.8 1 32.1 1-16 1 20.1 1-43.5 1 25.7 1-16.5 1-4.8 1 14.8 1-15.2 1-9.7 1 26.7 1-11.3 1 9.3 1-15.7 1 18.2 1-6.1 1 5.6 1-21.7 1 6.6 1 18.1 1 12.6 1-21.8 1-21.2 1-3.6 1 32.4 1-15.1 1 21.4 1-12.9 1 7.6 1-16.6 1 26.4 1-8.5 1-24.6 1 27.6 1-19.9 1 19.3 1-31.5 1 34.6 1-24.3 1 17.6 1-32.5 1 .3 1 31.4 1-8.9 1-25 1 35.7 1-35.3 1 11.8 1-12.2 1 34.9 1-29.2 1-3.3 1 19.1 1 13.8 1-21.4 1 19.2 1-19.1 1-15.4 1 20.9 1-31 1 7.3 1 32 1-6.4 1-16.4 1 21.2 1 6.5 1-36.2 1-5.5 1 2.5 1 28.3 1-30.3 1 14.9 1 20.9 1 1.6 1-39.5 1 18.7 1 4.9 1-6.5 1 4.4 1-6.4 1-13.8 1 23.8 1-11.1 1 7.8 1-12.6 1 10.8 1-2.2 1 16.1 1-30.8 1 33.5 1-32 1 12.9 1-12.1 1 8.9 1 11.2 1-10.9 1 15 1 8.4 1-23.9 1-2.5 1 5.8 1-14.7 1-12.9 1 5.1 1 39.4 1-23.9 1 23.7 1-23.7 1 19.3 1-33.7 1 19.9 1-18.7 1 17.5 1-13.4 1 16.8 1 8.7 1 9.8 1-22.4 1-19.9 1 35.2 1-29.3 1 19.7 1-11.9 1 19.4 1-9 1-19 1 15.5 1-28.8 1 11.4 1-.3 1 .7 1 28 1-30.4 1 25.8 1-27.3 1 19.1 1-13.3 1 15 1-9.4 1 3.2 1-12.2 1 26.5 1-10.3 1-23.7 1 31.7 1-31 1 16.6 1 13.3 1-26.4 1 26.4 1-20.3 1 14.3 1-18.1 1 21.8 1-18.9 1 18.1 1-3 1-19.9 1 29 1-29.2 1 12.8 1-17.1 1 17 1 1 1-18.3 1 23.1 1-12.9 1 24.7 1-23.8 1 6 1-5.8 1-2.4 1 8.3 1 19.5 1-6.1 1-29.4 1 14.9 1-15.4 1 22.9 1-26 1 33.8 1-18.7 1-8.8 1 14.9 1 1.2 1-25.2 1 26.2 1-5.2 1-4.7 1 4.2 1-22.3 1 21 1-13.8 1 9 1 3.7 1 5.3 1-14.9 1 7.3 1 15.9 1-21.2 1 16 1-6.8 1-10.2 1-8 1 17.7 1 7.7 1-21.4 1 16.8 1-25.5 1 19.7 1-9.6 1 22.9 1-31.5 1-.6 1 18.9 1-4.7 1 5 1-7.1 1 15.8 1-24.7 1 25.4 1 2.5 1-33.3 1 38.4 1-11.5 1-20.2 1 14.6 1-16.1 1 11.5 1-4.3 1 15.2 1 6.3 1-15.6 1-16.7 1 26.1 1-16.5 1-7.5 1 9.4 1 5.9 1-15.6 1 26.7 1-3.5 1-30.9 1 23 1-22.8 1 29.8 1-29 1 18.1 1 8.5 1-26.7 1 11.8 1 11.7 1-3.2 1-4.6 1 .2 1-17 1 21.3 1-11.4 1 .6 1 15.6 1 13.5 1-31.4 1 21.5 1-20 1 7.2 1-3 1 10 1-4.2 1 2.4 1-16.4 1 8.2 1 8.5 1-17.8 1 25.8 1-8.4 1-12.2 1 19.3 1-30.5 1 25.1 1-13.8 1 15.4 1 4.1 1-27.2 1 19.1 1-19 1 24 1-19.5 1-6.3 1-3.1 1 28.4 1-22.3 1 12.2 1-10 1 3.2 1 3.8 1-23.5 1 40.1 1-25.2 1-.8 1 13.8 1-8.4 1-12.3 1 26.7 1-21.6 1 4.2 1 8.8 1-20 1 18.4 1-3.7 1 5.3 1-17.5 1-1.8 1 27.7 1-25.4 1 24.2 1-12.8 1-10.8 1 .9 1 25.8 1-10.7 1-13 1-5.6 1 13.8 1-12.5 1-3.6 1-0 1 3.9 1 14.9 1-8.9 1-15.1 1 3.1 1 21.2 1-1.1 1-7 1 14.5 1-18 1-10.7 1 29.7 1-21.3 1 10.7 1-7.5 1 6 1-7.3 1 21.1 1-12.7 1-19.8 1 40.9 1-27.7 1-.5 1 7.6 1-25.4 1 12.9 1-.2 1 25.4 1-17.2 1-1.3 1 3.2 1-5.7 1 14.8 1-21.1 1 14 1-7.9 1 11.6 1-14.4 1 13.7 1-20.2 1 21.9 1 7.5 1-4.6 1-10.3 1-19.2 1 20.7 1 .5 1-9.1 1 12.2 1-8.4 1 16.6 1-26.4 1 12.9 1 7.4 1-25.2 1 26.8 1-30 1 33.3 1-25.4 1 24.2 1-30.2 1 27.5 1-22.7 1 28.3 1-25.2 1 21.1 1-13.2 1-15.1 1 27.9 1-21.5 1 4.7 1-11.7 1 21.3 1-16.6 1 9.4 1 18 1-26.6 1 23.6 1-14.1 1-9.6 1 25.6 1-20.6 1 4.1 1-12.5 1 19 1-1.6 1-10.9 1-3.3 1 22.1 1-27.3 1-3.6 1 3.3 1 2.5 1 23.7 1-31.2 1 26.4 1-19.7 1 .2 1 4 1 5 1 5.2 1 9.5 1-1.9 1-20.8 1-0 1 15.3 1 8 1-31.9 1 35.9 1-36.3 1-2 1 10 1 23.9 1-15 1 10.5 1-13.7 1 4.8 1-20.2 1 44.8 1-37.3 1 22.8 1-1.4 1-20.9 1 12.2 1-18.2 1 18.5 1 .1 1 3.3 1-14.6 1 24.3 1-27.6 1 14.4 1-12.4 1 19.3 1-2.3 1-1.4 1-17 1 2.9 1-9.7 1 7.7 1 36.6 1-18 1-28.3 1 35.2 1-18.5 1 1.5 1 17.3 1-20.3 1 3.4 1-11.6 1 16.5 1-9.4 1-4.3 1 16.4 1-19.9 1-3.8 1 14.8 1-8.1 1 23.4 1-12.6 1 18.7 1-13 1-14 1 7.2 1-9.8 1 27.3 1-37.6 1 32.4 1-29 1 38.8 1-28.8 1 14.4 1-12 1 19.4 1-30 1 5.4 1 15.9 1-15.1 1 11.4 1-12.3 1-2.2 1 28.1 1-.7 1-23.8 1 21.6 1-33.9 1 30.2 1-8.9 1-20.6 1 13.9 1 9.4 1 3.3 1-28.1 1 7.8 1 20.2 1-28.6 1 35.8 1-22.1 1-9.4 1 31 1-20 1 14 1 3.6 1-8.6 1-7.3 1-8.1 1 11.1 1-11.1 1 17.6 1-10.5 1-10.8 1 25.3 1-23.2 1 23.3 1 6 1-18.4 1-5 1 17.7 1-22 1-1.7 1 28.9 1-25.7 1 12.3 1-.3 1 13 1-24.8 1 7.8 1-16.3 1 18.3 1 2.2 1-20.9 1-1.3 1 14.7 1-24 1 14.2 1 3.3 1 15 1-10.3 1 14.6 1-20.5 1-12.4 1 36.1 1 10.6 1-36.8 1 14.2 1 12.4 1-12.5 1 9.3 1-23.2 1 29.2 1-35.2 1 24.2 1-20 1 8.8 1 1.3 1 6.8 1 14.1 1-19.2 1 .3 1-2.2 1 28.3 1-8.7 1-17.4 1 12.6 1 13.2 1-35.2 1 17.7 1 3.4 1-24.7 1 23.5 1-21.5 1 11 1 1.5 1-2.2 1 2.5 1-17.3 1 18.5 1-21.1 1 25.8 1-22.9 1 25.6 1-20.7 1 17.7 1 3.1 1-1 1-15.7 1 21.6 1-13.4 1-16.9 1 15.7 1-12.3 1 25.2 1-27.8 1 18.7 1 5.3 1-16 1 16 1-25.1 1 20.9 1-8.8 1 8.6 1-3.1 1-2.4 1 10.5 1 2.7 1-28.6 1 31.4 1-29.8 1 15.9 1-14.7 1 8.7 1-10.8 1 17.2 1-5.7 1 6.9 1 1.6 1 10.7 1-22.8 1-3.6 1-2.9 1 13.6 1-17 1 26.6 1-24.8 1 16.6 1-19.9 1 29.5 1-9.9 1-6.3 1 7.6 1-3.7 1-14.1 1 26.9 1-25.7 1 20.8 1-9.4 1 4.3 1-3.9 1-8.3 1 23.7 1-20.2 1 22.4 1-24.7 1 12.1 1-12.8 1 11 1-5.7 1 1.6 1 15.1 1-23.6 1-6.7 1 29.7 1-12 1-5.1 1 16.5 1-16.8 1 10.1 1-8.4 1-24 1 17.3 1 17.5 1-19.5 1 8.2 1 18.7 1-30 1 29 1-20 1-6.8 1 23.7 1-30.9 1 29 1-24.9 1 8.5 1 4.4 1 14.8 1-10.9 1-4.4 1 3.8 1-11.4 1 10 1 .3 1-15.7 1 23 1-18.8 1 21.4 1-10 1-7.8 1 10.6 1 4.5 1-3 1-12.7 1 15.5 1-19.6 1 23.8 1-23 1-8.5 1 12.9 1 16.6 1-9.6 1-8.6 1 6.3 1-18.3 1 6.8 1 15.7 1-20.6 1 23.5 1-16.8 1 7.7 1 15.3 1-30 1 8.9 1-3.6 1 14.7 1-21.2 1 31.4 1-18.3 1 13.2 1 6.6 1-1 1-23.2 1 1.1 1 14.4 1-18.1 1 11.1 1 16.8 1-30 1 26 1-22.1 1 14.8 1-6.7 1-10.9 1 16.3 1-19.5 1 9.8 1 12.3 1-11.3 1 11.3 1-15.4 1 17.4 1-16.1 1 3.1 1 4.8 1-18.8 1 8.1 1 25.2 1-7.8 1-24.4 1 25.4 1 2.6 1-19.2 1 15.4 1-16.2 1 23.5 1-28.4 1 14.2 1-12.2 1 24.4 1-31.5 1 11.2 1-6.1 1 28.9 1-.3 1-27.3 1 24.4 1-18.5 1 18.7 1-31.2 1 25.9 1-27.3 1 11.3 1 17.5 1-25.9 1 22.7 1-12.5 1-1.4 1 8.6 1-4.7 1 18.2 1-12.2 1-1.7 1 14.4 1-29.9 1 27.3 1-17.3 1-14.2 1 29.5 1-24.4 1 18.7 1-9.1 1 12.8 1-20.7 1 9.7 1-1.8 1 8.4 1-20.6 1 .4 1 31.3 1-21.2 1-6.1 1-1.1 1 3 1 8.1 1-2.4 1-11.5 1 6.8 1-6 1 27.6 1-6.2 1-23.7 1 30.2 1-25.4 1 22.5 1-22.6 1-13.1 1 26.9 1-.2 1-3.2 1-5.5 1 11.7 1 1.5 1 7.5 1-17.4 1 13.7 1-19.3 1 16.6 1-8.4 1-12.7 1 8.9 1 6.4 1-18.8 1 3.9 1 20.3 1-25.5 1 6 1 20.2 1-28.6 1 31.9 1-29.2 1 11.7 1 6.3 1-23.2 1 17.9 1 18.4 1 8 1-15.8 1-4 1-20.8 1 36.6 1-21.8 1-22.8 1 49.2 1-25.1 1-16.6 1 17.2 1 24.1 1-22.9 1 3.3 1-7.7 1 12 1-27.3 1 28 1-23.3 1-1.1" stroke="#5387dd" stroke-width="2.4" vector-effect="non-scaling-stroke" stroke-linejoin="miter" stroke-miterlimit="10"/><circle cx="2353.9" cy="603.6" r="4.2" fill="#7d54b2"/><circle cx="2353.9" cy="565.5" r="4.2" fill="#479a5f"/><circle cx="2353.9" cy="554.3" r="4.2" fill="#da4c4c"/><circle cx="2353.9" cy="563.9" r="4.2" fill="#5387dd"/></svg>
<div class="panel" style="left:608px;top:951px;width:581px;height:525px"></div>
<span class="t" id="t91" style="left:855.9px;top:1003.0px;font-size:22.5px;font-weight:700;color:#2b3038;transform:scaleX(0.9524);">val_loss</span>
<div class="a" style="left:608.2px;top:1031.4px;width:580.2px;height:50.9px;overflow:hidden">
<span class="t" id="t92" style="left:95.4px;top:5.0px;font-size:19.5px;color:#7d54b2;transform:scaleX(1.0315);">dastardly-duck-4</span>
<span class="t" id="t93" style="left:291.0px;top:5.0px;font-size:19.5px;color:#479a5f;transform:scaleX(1.0529);">clairvoyant-chipmunk-3</span>
<span class="t" id="t94" style="left:84.8px;top:30.0px;font-size:19.5px;color:#da4c4c;transform:scaleX(1.0563);">bountiful-badger-2</span>
<span class="t" id="t95" style="left:299.1px;top:30.0px;font-size:19.5px;color:#5387dd;transform:scaleX(1.0308);">adventurous-aardvark-1</span>
</div>
<div class="a" style="left:1144.9px;top:1036.6px;width:14.9px;height:45.8px;background:#fafafa;border-left:1px solid #ececec;border-right:1px solid #ececec;box-sizing:border-box"></div>
<div class="a" style="left:1148.9px;top:1039.5px;width:8.1px;height:37px;background:#c1c1c1;border-radius:4px"></div>
<span class="t" id="t96" style="left:637.8px;top:1090.0px;font-size:18px;color:#666b75;transform:scaleX(1.0101);">0.35</span>
<span class="t" id="t97" style="left:648.2px;top:1135.0px;font-size:18px;color:#666b75;transform:scaleX(0.9988);">0.3</span>
<span class="t" id="t98" style="left:637.8px;top:1180.0px;font-size:18px;color:#666b75;transform:scaleX(1.0101);">0.25</span>
<span class="t" id="t99" style="left:648.2px;top:1225.0px;font-size:18px;color:#666b75;transform:scaleX(0.9988);">0.2</span>
<span class="t" id="t100" style="left:637.8px;top:1270.0px;font-size:18px;color:#666b75;transform:scaleX(1.0101);">0.15</span>
<span class="t" id="t101" style="left:648.2px;top:1315.0px;font-size:18px;color:#666b75;transform:scaleX(0.9988);">0.1</span>
<span class="t" id="t102" style="left:637.8px;top:1360.0px;font-size:18px;color:#666b75;transform:scaleX(1.0101);">0.05</span>
<span class="t" id="t103" style="left:693.2px;top:1434.0px;font-size:18px;color:#666b75;transform:scaleX(0.9984);">0</span>
<span class="t" id="t104" style="left:770.7px;top:1434.0px;font-size:18px;color:#666b75;transform:scaleX(1.0051);">200</span>
<span class="t" id="t105" style="left:858.3px;top:1434.0px;font-size:18px;color:#666b75;transform:scaleX(1.0051);">400</span>
<span class="t" id="t106" style="left:945.9px;top:1434.0px;font-size:18px;color:#666b75;transform:scaleX(1.0051);">600</span>
<span class="t" id="t107" style="left:1033.5px;top:1434.0px;font-size:18px;color:#666b75;transform:scaleX(1.0051);">800</span>
<svg class="" style="left:0;top:0;fill:none" width="2467" height="1528" viewBox="0 0 2467 1528"><path d="M676.0 1047.5 h14.2" stroke="#7d54b2" stroke-width="3.2" stroke-linecap="round"/><path d="M872.3 1047.5 h14.2" stroke="#479a5f" stroke-width="3.2" stroke-linecap="round"/><path d="M665.6 1072.5 h14.2" stroke="#da4c4c" stroke-width="3.2" stroke-linecap="round"/><path d="M879.9 1072.5 h14.2" stroke="#5387dd" stroke-width="3.2" stroke-linecap="round"/><path d="M686.8 1099.6 H1135.8" stroke="#ececef" stroke-width="1.2"/><path d="M686.8 1099.6 H707.2" stroke="#e5e5ea" stroke-width="1.4"/><path d="M686.8 1144.5 H1135.8" stroke="#ececef" stroke-width="1.2"/><path d="M686.8 1144.5 H707.2" stroke="#e5e5ea" stroke-width="1.4"/><path d="M686.8 1189.5 H1135.8" stroke="#ececef" stroke-width="1.2"/><path d="M686.8 1189.5 H707.2" stroke="#e5e5ea" stroke-width="1.4"/><path d="M686.8 1234.4 H1135.8" stroke="#ececef" stroke-width="1.2"/><path d="M686.8 1234.4 H707.2" stroke="#e5e5ea" stroke-width="1.4"/><path d="M686.8 1279.4 H1135.8" stroke="#ececef" stroke-width="1.2"/><path d="M686.8 1279.4 H707.2" stroke="#e5e5ea" stroke-width="1.4"/><path d="M686.8 1324.4 H1135.8" stroke="#ececef" stroke-width="1.2"/><path d="M686.8 1324.4 H707.2" stroke="#e5e5ea" stroke-width="1.4"/><path d="M686.8 1369.3 H1135.8" stroke="#ececef" stroke-width="1.2"/><path d="M686.8 1369.3 H707.2" stroke="#e5e5ea" stroke-width="1.4"/><path d="M697.2 1414.7 H1135.8" stroke="#e5e5ea" stroke-width="2.9"/><path d="M698.2 1099.8 V1410.6" stroke="#e5e5ea" stroke-width="3"/><path d="M698.2 1410.6 V1420.8" stroke="#e5e5ea" stroke-width="2"/><path d="M696.7 1411.0 H1135.8" stroke="#e5e5ea" stroke-width="2.9"/><path d="M785.8 1400.4 V1420.8" stroke="#e5e5ea" stroke-width="2"/><path d="M873.4 1400.4 V1420.8" stroke="#e5e5ea" stroke-width="2"/><path d="M961.0 1400.4 V1420.8" stroke="#e5e5ea" stroke-width="2"/><path d="M1048.6 1400.4 V1420.8" stroke="#e5e5ea" stroke-width="2"/><path d="M698.2 1454.2 H1135.8" stroke="#ececef" stroke-width="1.2"/><path transform="translate(698.2 0) scale(0.438 1)" d="M0 1099.6l1 71.5 1 3.2 1 10.8 1-10.9 1 22 1-9 1 1.8 1 3.1 1 16.6 1-16.8 1 19.8 1-21.2 1 19 1-12 1 18.7 1-10.4 1 6.8 1 2.8 1-7 1 13.4 1-14.6 1 21.6 1-7.3 1 16.5 1-21.9 1 16 1-6 1 0 1 6.8 1 9.7 1-12.7 1 14.3 1-11.4 1 6.2 1-14.4 1 3.3 1 26.2 1-20.8 1 16.3 1-1.6 1-11.3 1 17 1-21.3 1 27.9 1-.1 1-14.3 1 4.4 1-2.7 1 4.4 1-7.4 1 10.8 1-12 1 20.8 1-29.8 1 22.3 1-13.1 1 21 1 7 1-14.7 1 15.6 1-14.7 1-4 1 21.9 1-20.3 1 10.8 1-12.5 1 14.3 1-7.3 1 5 1-2.2 1 8.4 1 .8 1-14.1 1 21.8 1-26.2 1 7.8 1 14.1 1-19.5 1 29.7 1-26.7 1 4.7 1 12 1-19 1 26.4 1 2.6 1-18.5 1 21.9 1-28.7 1 16.8 1 1.9 1-6.4 1 5.4 1-1.3 1 11.8 1-14.4 1 11 1-6.9 1 9.5 1-8.7 1 11.4 1-21.5 1 26.1 1-29.4 1 30.9 1 1.6 1-24.8 1 22.4 1-5.3 1-9.6 1 17.1 1-22.4 1 9.3 1 18.1 1-28.2 1-6.6 1 7 1-8 1 22.8 1-11 1 24.5 1-10 1-11.1 1 3.2 1 14.3 1-23 1 11 1 5.2 1-8.1 1 14.9 1-24.4 1 16 1-9.7 1 9.6 1-3 1 7.7 1 15.7 1-4 1-3.4 1-9.5 1 9.8 1-13.1 1-10 1 18.1 1-18.6 1 17 1-5.2 1 11.2 1-19.5 1 3.4 1-6.9 1 26.3 1-.9 1-23.7 1 13.2 1-2.4 1 12.3 1-12.3 1 3.7 1 3.2 1 8.9 1-25.6 1 14.9 1-2 1 5.3 1 8.1 1-22 1 21.7 1-25.8 1 30.3 1-21.4 1 12.9 1-20.8 1 29.1 1-29.7 1 8.3 1 .6 1 17.6 1-13 1 4.4 1-3.8 1-8.5 1 1.3 1 2 1 20.1 1-3.7 1-18.9 1 8.5 1-4.6 1 9 1 4.9 1-18.7 1 14.9 1-15.6 1 21.4 1 .2 1-4 1 15.7 1-8.4 1-17.7 1 3.1 1 15.9 1-21.4 1 10 1 13.2 1-21.9 1 25.3 1-18.6 1 15.8 1-20.4 1 8.9 1-.4 1 16.4 1-5.5 1-9.4 1-5.4 1 16.7 1-24.7 1 8.4 1 17.7 1-20.2 1 15.5 1-10.9 1-3.7 1 10.7 1-10.4 1 18.2 1-20.9 1 17.3 1 1.5 1-7.6 1 12.8 1-20.3 1 22.8 1-23.4 1 19.2 1 10 1-12.6 1-22.8 1 4.5 1 21 1-9.5 1 14.9 1-28.7 1 2.2 1 10.8 1 17.1 1-19.8 1 16.1 1-12.2 1 12.8 1-25 1 28.3 1-15.2 1 8.9 1-1.1 1-4.9 1-14.7 1 23.9 1-7.9 1-7.5 1 9.6 1-19.6 1 9.2 1 21.3 1-22.7 1 18 1-17.1 1 23 1-16.8 1-8.3 1-4.1 1-.3 1 15.3 1-5.3 1-7.2 1 18.6 1-19.7 1 28.4 1-22.8 1 10.2 1 13.6 1-27.6 1 13 1-3.5 1 10.3 1-3.4 1-6.6 1 2 1 10.1 1-8 1-6 1-8.5 1 19.9 1-6 1 5.8 1-16.2 1 18.5 1-20.1 1 26.8 1-20.4 1 27 1-18 1-13.9 1 11.4 1 1.8 1 12.2 1-5.9 1-4.1 1-15.9 1 10.7 1 5.1 1-13.8 1 .2 1 17.6 1-15.4 1 10 1-5.7 1 11.7 1-19 1 19.6 1-11.6 1 .5 1 5.8 1-12.1 1 12.8 1 .7 1-6 1 11.2 1-15.6 1 11.8 1 1.1 1-6.1 1 17.7 1-24.1 1 19.6 1-25.7 1 26.3 1-22.9 1 26.2 1-21.9 1 3.8 1-5.5 1 25.2 1-7.8 1-13.1 1-2.2 1-9.4 1 7.1 1-1.9 1 21.8 1-10.6 1 4 1-14.7 1 18.3 1-18.6 1-.3 1 28.8 1-28 1 25.3 1-5.4 1-18.3 1 18.3 1 9.7 1-6.9 1-23.5 1 17.5 1 13.4 1-28.4 1 14.8 1-20.9 1 23.3 1-2.1 1-5.7 1 13.2 1-22.5 1 12.6 1 10.4 1-21.7 1 8.1 1 8.3 1 7.8 1-16 1-14 1 15.3 1-1.6 1 6.8 1-1.7 1-.8 1 4.2 1 5.1 1-18.4 1 11.4 1 6 1-26 1 3 1 9.3 1 4.3 1 8.8 1-1 1-13.9 1 23.9 1-12.4 1-6.3 1-10.5 1 20.2 1-18.4 1 28.3 1-20.2 1 13.7 1 5.5 1-14.7 1-13.7 1 2.7 1 12.4 1 13 1-30.5 1 24.5 1-.2 1-13.2 1 9.3 1 15.4 1-5.2 1-19.8 1 14.4 1-22.9 1 28 1-8.3 1-5.4 1-8.7 1 32.1 1-10 1 4.1 1-18.4 1 13.2 1-16.7 1 21.5 1-25.7 1 16.4 1-19 1 20.8 1 7.5 1-28.4 1 16.8 1-15.2 1 9.8 1 18.1 1-32 1 14.9 1-6.1 1 20 1-20 1 13.6 1-16.1 1 1.8 1 9.2 1-12.4 1 27 1-6.6 1-.6 1-10.7 1 9.9 1-7.1 1 14.6 1-25.4 1 7.6 1 6.8 1-10.5 1 24 1-10.6 1-12.1 1 7.4 1-11.7 1 24.2 1-6.9 1 9.2 1-24.1 1 10.2 1-4.7 1 12.8 1-26.7 1 2.5 1 11.6 1 7.3 1-14.3 1 23.1 1-16.7 1 18.1 1-5.2 1-23.9 1 24.4 1-12 1 7.5 1-4.3 1-14.4 1 20.3 1 1.5 1-15 1 16.6 1-10.4 1 11.6 1-20.4 1 22.8 1-23.9 1 23.3 1-26.8 1 24.5 1-17.6 1 18.2 1-16.9 1-1 1 9.2 1-4.6 1 21.9 1-33 1 31 1-30.9 1 28 1-14.6 1 10.5 1-19.9 1 16.2 1 11.4 1-14.5 1-2.5 1-1.5 1 5.6 1 4.4 1-13.8 1 10.7 1-17.4 1 25.4 1-26.3 1 28.6 1-22 1 18.7 1-6.4 1 8.5 1-14.5 1-3.1 1 16.3 1-13.7 1 15.3 1-1.5 1-15.3 1 9.1 1-11.3 1 18.5 1 3.1 1-16 1 11.9 1-22.6 1 24.3 1-25.9 1 7.9 1 20.8 1-22.1 1-5.2 1 27.3 1-29.3 1 8.5 1 9.9 1-9.4 1 13 1-22.2 1 19.8 1-18.4 1 28.2 1-.3 1-24.1 1 13.3 1-5.5 1 10.5 1-21.2 1 24.1 1-22.5 1 12.6 1-11.2 1 22.3 1-5.7 1-19.8 1 25.5 1 5.5 1-2.9 1-4 1-24.9 1 17.8 1-7 1 19 1-21.9 1-1.3 1 11.2 1-11.4 1 21.6 1-.1 1-1.7 1-23.8 1 25.8 1-15.6 1-6.2 1 10.7 1-3.4 1 3.1 1-6 1 4.3 1-.9 1 10 1-11.8 1 4.7 1-2.2 1 10.5 1-13.1 1 5 1-5.7 1 4.4 1-6.3 1 17.7 1-11.6 1-1.7 1 9.7 1-29.2 1 32.6 1-21.3 1 5 1 17.3 1 2.9 1-29.2 1 22.4 1-20 1 3.3 1 2.1 1 7.6 1-7.2 1 18.2 1 .6 1-23.5 1 22 1-11.2 1 8.1 1-16.8 1-2.4 1 13.9 1-13.2 1 23.3 1-15 1 3.2 1-15.9 1 19.4 1-6 1 12.5 1-21.1 1 16 1-27.9 1 24.7 1-12 1 16.2 1-12 1 8.1 1-3.5 1 6.6 1-4.4 1-1.4 1-6.3 1 20.6 1-9.2 1-17 1 22.6 1 1 1-10.2 1-3.9 1 1.2 1 13 1-5.8 1-15.1 1 10.8 1-12.5 1 13 1-9.6 1 3.3 1 15.8 1-18.6 1-4.1 1 15.6 1-6.6 1 12.7 1 .7 1-21.1 1 20.3 1-6.3 1 1 1 7.3 1-2.5 1-12.6 1 18 1-24.7 1 22.8 1-7.9 1-4.9 1 7.7 1-15.1 1-1.9 1 9.8 1 6.7 1-16.6 1 13.8 1-8.8 1 25.3 1-5.9 1-28.8 1 27.7 1-26 1 18.3 1-10.4 1-9.1 1 1.7 1 27.4 1-5 1-14.3 1-12.2 1 26.1 1-18.9 1 17.4 1-19.8 1 11.9 1 1.8 1-6.2 1 19.3 1-5.2 1-20.4 1 13.2 1 10.7 1-14.7 1 11.6 1 0 1-30.7 1 12.1 1 25.2 1-24.6 1 25.9 1-23.5 1 17.9 1-20.4 1 11.3 1 2.7 1-12.8 1-2.9 1 8.6 1 13.7 1-.9 1-10.1 1 2.7 1-15.9 1 21.7 1-16.6 1 21.4 1-17.8 1 4.9 1 5.3 1 8.8 1-14.6 1-10.5 1-7.6 1 5.5 1 17.2 1-3.9 1 2.2 1-8.1 1 7.2 1-4.1 1 15.8 1-22.2 1 1.2 1 15.2 1-21 1 16.5 1-5.8 1 8.8 1-11.4 1 17.7 1-11.9 1-7.3 1 14.6 1 2.1 1-19.3 1 7.2 1-.4 1 .7 1 16.7 1-14.9 1 7.1 1-5.7 1-.9 1 17.2 1-5.3 1 4.7 1-19.4 1 8.2 1-11.5 1-6 1 28.6 1-19.3 1 13.2 1-20 1 19.3 1-19.4 1 21.7 1-8.7 1-13.9 1 12.9 1-2.2 1 2.1 1-10.3 1 18.4 1-10.9 1-17.5 1 7.4 1 14.6 1-23 1 35.7 1-14.2 1-1.2 1 6.8 1-6.9 1 12.7 1-13.7 1 14.6 1-24.5 1 20.1 1-10.9 1 8.9 1-15.7 1 7.2 1 15.2 1-8.8 1-9.1 1-4.7 1 15.3 1-9.1 1 9 1-12.5 1 22 1-7.7 1-7 1-20.4 1 21.6 1-8.3 1 10.7 1-9.8 1 15.8 1 4 1-18.8 1-14.7 1 34.1 1-22.8 1 24 1-21.7 1 8.5 1-14.2 1 23.9 1-24.7 1 24.7 1-13.4 1 4.8 1-2.6 1 1.1 1-6.1 1 20.3 1-15.6 1 2.3 1 4.7 1 3.6 1-12.7 1 8.4 1 9.4 1-11.1 1-3.8 1-8.5 1 22.4 1-12.1 1 9.3 1-14.4 1 10.4 1 11.5 1-24 1-8.2 1 17.4 1-12.4 1 23.7 1-20 1 6.1 1-1.8 1 13.9 1-3.2 1-12.1 1 14.8 1-21.7 1-6.3 1 6.9 1 9.9 1 .1 1-12.6 1 21.8 1-15 1 14.3 1-12.5 1 5.8 1 14 1-7.4 1-.6 1-12 1 15.5 1-19.8 1 19.8 1-21.7 1 .7 1-5.1 1 3.4 1 24 1 5.4 1-20.9 1 11.4 1 3.7 1-22.9 1 11 1 1.1 1-2.5 1 10.1 1-8.9 1 2.5 1 9.1 1-17.2 1 15.1 1-7.6 1 11 1-20.2 1-2.4 1 12.9 1 9.2 1-3.1 1 7.5 1-1.2 1-15.8 1 2.5 1-16.1 1 23.8 1-19.4 1 16.5 1 5.5 1-5.5 1 7.6 1-9.1 1 2.5 1-11.4 1 14.2 1-22.9 1 16.6 1-4.3 1 8.2 1-15.1 1 7.8 1 15.2 1-20.4 1 21.3 1-30.9 1 24.2 1-10.5 1 11.1 1-4.6 1-11.3 1 12.5 1-8.6 1 4.4 1-7.7 1 13.7 1-25.4 1 16.1 1 9 1-9.7 1-4.8 1 21.8 1 .3 1-30 1 10 1 18 1-.1 1-14.9 1 16.6 1-21.9 1 2.9 1 7.7 1-6.6 1 3.9 1 10.7 1-13.5 1 5.6 1 8.7 1 10.4 1-19.9 1 .3 1 8.6" stroke="#7d54b2" stroke-width="2.4" vector-effect="non-scaling-stroke" stroke-linejoin="miter" stroke-miterlimit="10"/><path transform="translate(698.2 0) scale(0.438 1)" d="M0 1111.3l1 35.3 1 7.7 1 17.5 1-1.4 1 11.7 1-11.6 1 10.9 1-1.1 1 24.6 1-15.5 1 18.4 1-11.5 1 8.8 1-12.6 1 12.9 1-3.8 1 2.7 1 14.3 1-16 1 7.7 1-7.4 1 23.8 1-2.6 1-16.8 1 26 1-25.8 1 16.6 1-11.9 1 18.3 1-19.1 1 7.1 1 16.2 1-9.5 1 13.5 1 5.3 1-28.3 1 23.8 1-22.3 1 20.7 1-2 1-11.4 1 17.2 1-10.2 1 5.7 1 11.3 1-17.6 1 22 1-23.8 1 16 1-23.1 1 4.5 1 19.9 1 3.7 1-18.6 1 12.8 1-12.2 1 19.5 1-11.1 1 20.8 1-2.1 1-22.2 1 2.5 1-3.5 1 21.7 1-17.8 1 15.1 1-14.1 1 26.3 1-2.5 1-17.9 1 18.7 1-8.9 1-12.8 1 22.1 1-21.1 1 .6 1 14.7 1-15.7 1 16.8 1-13.6 1 .7 1 21.1 1-8.2 1 21.3 1-23 1-9.2 1 25.4 1-16.8 1 14.8 1-17.2 1 19.8 1-18.8 1 13.4 1-7 1-10.4 1 14.3 1 5.2 1-9.7 1 9.2 1 2.2 1 7.5 1-12.7 1 7.4 1-8.4 1 3.2 1-3 1 17.7 1-16.1 1 9.9 1-8.9 1 13.6 1-13.5 1 4 1-10.6 1 22.7 1-20.7 1-4.4 1-6.7 1 16.2 1 17.5 1-27.1 1 15.5 1-16.5 1 23.5 1-21.1 1 13.6 1-5.2 1 9.1 1-6.9 1 13.2 1-11.3 1-1.9 1-2.9 1 2.4 1 11.4 1-18.1 1 3.3 1 23 1-12.5 1 9.1 1-26.3 1 15.9 1-9.8 1 5.7 1 10.1 1-17.9 1 12.6 1-11.4 1 24.1 1-1.3 1 1.6 1-24.8 1 20.6 1-11.2 1 16 1-24 1 27.3 1-2.6 1-12.9 1-15.4 1 4 1 17.1 1-10.5 1 18.4 1-1.1 1-18 1 12.3 1-9.3 1 20.3 1-18.2 1 5 1-5 1 10.9 1 2.5 1-10.1 1 17 1-15.8 1 11.4 1-21.8 1 13.6 1-15.8 1-.7 1 15.5 1-4.5 1 19.4 1-15 1-10.6 1 6.2 1-10.9 1 27 1-23.6 1-4.9 1 3.4 1 12.6 1 9.7 1-8.6 1 5.6 1-4.1 1-5.1 1 5.4 1-4.9 1 8.9 1-4 1 8.2 1-19.1 1 11.5 1-12.4 1 14.2 1 7.6 1-1.4 1 13.9 1-7.1 1-24.9 1 26.3 1-6.9 1-7.2 1 4.7 1-.8 1 5.4 1-20.1 1 7.2 1 11 1-9.2 1 2.3 1 8.6 1 .9 1-10.4 1 9.9 1 5.7 1-30.3 1 10.8 1 20.9 1-23.3 1-3.7 1 15.6 1-5.9 1 12.6 1-13.4 1-9.1 1 24.2 1 0 1-17.1 1-6.4 1 3.8 1 19 1-18.7 1 11.1 1-11 1 22.5 1-19.2 1 21.1 1-17.7 1 15.8 1-24.4 1 19.3 1-12.7 1 16.3 1-2.2 1-19.6 1 25.4 1-26.1 1 23.2 1-23.2 1 16 1-11.1 1 1.1 1 2.9 1 17.4 1-35.6 1 19.4 1 7.9 1 9.7 1-17.4 1-5.8 1 19.1 1-16.2 1-3.1 1 2.4 1 9.9 1 7.6 1-23.8 1 4.5 1 20.4 1-12 1-5.9 1-8.4 1 28.6 1-23.8 1 26.4 1-20.2 1 14 1-17.3 1-6.8 1 16.2 1-9.6 1 6.9 1 9.6 1-15.4 1 1.6 1-15.1 1 21 1-19.7 1 31.5 1 3 1-27.5 1 16.7 1-7 1 12.9 1 3.5 1-8.9 1-8.4 1 14.3 1-19.4 1 12.6 1-15.3 1 20.1 1-9.4 1 11.4 1 1.1 1-2.9 1-6.8 1 4.2 1-2.8 1 13.9 1-29.1 1 19.4 1-5.7 1 15 1-21.3 1 9 1 1.8 1-8.5 1 20.3 1-26.2 1 23.1 1-1 1 2.5 1-8.8 1-16 1 27.4 1-.2 1-9.6 1-11.2 1 21.8 1-29.9 1 36.9 1-19.9 1-2.4 1 2 1-16.5 1 21.1 1-20 1-.6 1 15.6 1-2.2 1 8.5 1-11.4 1 11.2 1-10.3 1 19.2 1-27.3 1 5.8 1 21.4 1-19.2 1 15.1 1-15.4 1-9.6 1 5.6 1 1.5 1 20.7 1-22.1 1 22.7 1 .7 1-4.7 1-10.2 1 6.9 1-5.2 1-11.6 1 15 1 12.6 1-5.8 1-10.4 1-7.7 1 16.4 1-.7 1-23.7 1 33.3 1-31.5 1 19.8 1-16.8 1 .6 1-.6 1 16.7 1-5.5 1 7.8 1-19.1 1 14.3 1-10.9 1 13.9 1 2.2 1-9.2 1 18.2 1-13 1 4.8 1-23 1 16.5 1 2.2 1-15.4 1-1.5 1 22.4 1-22 1 26.4 1-11.1 1-13.8 1-1.9 1 26.4 1-15.5 1 15.3 1-20.9 1 19.9 1-15.8 1 7.7 1-14.8 1 5.1 1 6.1 1 11.1 1-22.9 1 24.7 1-18.1 1-4.6 1 1.2 1 23.1 1-26 1 22.3 1-21.7 1 21.5 1-23.7 1 28.3 1-17.3 1 7.7 1-14.4 1-3.6 1 4.8 1 24.9 1-8.1 1-12 1 15.6 1-22.7 1 14.4 1-10.5 1 22.9 1-24.8 1 20.2 1-12.3 1 16.4 1-17 1 5.1 1-9.5 1 14.7 1-5.4 1 6.9 1-20.8 1 3.7 1 14.2 1-9.4 1-12.3 1-3 1 11.6 1 19.5 1-23.5 1 15 1 15.9 1-8.4 1-18.2 1 20.2 1-14.5 1 8.3 1-6.6 1 14.8 1-27.3 1 16.3 1 8.6 1-16.5 1 22.9 1-9.1 1-17 1 14.9 1-4.2 1 14.4 1-16.5 1 16.2 1-13.5 1 16.3 1-26.1 1-3.9 1 25.1 1-26.8 1 .4 1 30.4 1-10.7 1-11.4 1-10.3 1 19.5 1 9.8 1-12 1 3.3 1-10 1 8.3 1-.9 1 15.8 1-13.8 1-9.8 1 8.3 1-4.6 1 7.9 1-1.4 1-6.1 1 23.1 1-38.7 1 29.4 1-11.6 1 23.5 1-24.8 1 .6 1-3.1 1 4.3 1 17.1 1-36.9 1 22.8 1 5.7 1-10.6 1-5 1 17.6 1-.4 1-5.2 1-9.3 1 22.6 1-24.7 1 15.3 1 .8 1-8.4 1-.4 1 16.2 1-34.4 1 8.3 1 18 1-12.4 1 11.8 1-14.4 1 21 1-23.9 1 .5 1 1 1 8.1 1-2.7 1 2.3 1 7.5 1 3.3 1-18.6 1 1 1-.9 1 15.9 1-8.2 1 7 1-2.9 1 1.6 1-11.1 1 21.3 1-17 1 4 1 17.5 1-20.3 1 14.4 1-22.4 1 10.9 1 .5 1 11.7 1-25.1 1 1.6 1 14.4 1-12.8 1 20.3 1-10.2 1-15.2 1 4.3 1 26.6 1-19.4 1 11.1 1-7.9 1-7.8 1 20.2 1-22.4 1 11.6 1 7 1-20 1 25.9 1-17.4 1 2.5 1 17.9 1-21.3 1 18.9 1-22.6 1 21.9 1-24.7 1 24.5 1-19.2 1 21.7 1-15.9 1 2.6 1-8.7 1 10.8 1-14.9 1 18.3 1 8.4 1-19 1 18.8 1-24.2 1 20.2 1-11.5 1 10 1-10 1 11 1-12 1 17.5 1-24.3 1 18.8 1-.3 1 4.7 1-12.2 1 10.5 1-15.8 1 18.3 1-12 1-1.1 1 13.9 1-18.5 1 20 1-24.7 1 21.2 1-12.8 1 3.5 1-12.5 1-3.1 1 25.7 1-12.2 1 6.4 1-19 1 17.3 1 5.2 1-18.7 1 1.2 1 6.3 1 8.4 1-14.6 1 10.8 1 8.9 1-21.5 1 24.6 1-23.8 1-2.5 1 .8 1 23.4 1-12.7 1-.4 1 12 1-22.1 1 26.6 1-21.5 1-.8 1 11 1-15 1 19.7 1-2.4 1-16 1 .3 1 33.8 1-32.9 1 15 1-17.9 1-.6 1 4.6 1 2 1 21.5 1-29.1 1 17.9 1-14.9 1 27.5 1-24.3 1 19.6 1-8.2 1 2.1 1-13.4 1 18.7 1-29.1 1 30.8 1-23.9 1 10.1 1 5 1 .4 1-16.7 1 30.1 1-1.4 1-.9 1-1.6 1-26.3 1 22.4 1-20.7 1 20 1 15.1 1-10.6 1-12.2 1 8.6 1-7.8 1 6.2 1-19.2 1 15.9 1-9.3 1 13.7 1-18.4 1 9.8 1-12 1 23.6 1-23.2 1 16.4 1-7.8 1 0 1 20 1-18.9 1 18.5 1-23.1 1-10.3 1 21 1-9.8 1 15.1 1-12.9 1 15.1 1 .6 1-11.2 1-.1 1 4.2 1 .2 1-14.5 1 24.5 1-3.3 1-18.7 1 12.3 1-14.8 1 4.9 1 17.6 1-28 1 4.8 1 25.1 1 .9 1-25.1 1 27.2 1-4.6 1-22.5 1 15.9 1-17.7 1 23.5 1-20.5 1 20.7 1-19.4 1 11.3 1-9.9 1 24.6 1-24.4 1 15.8 1-14.4 1 21.2 1-22.3 1 23.6 1-27.7 1 24.3 1-24.1 1 5.3 1 6.3 1 5.3 1-2.7 1-11.4 1-.7 1 10.2 1 13.9 1-24.2 1 22.1 1-20.4 1 23.6 1-17.9 1 5.7 1 18.9 1-21.2 1-6.2 1 4.5 1-7.5 1 7.3 1 6.6 1-8.9 1 14.1 1-22 1 15.3 1-6.3 1 11.3 1-18.4 1 2.6 1 22.2 1-14.1 1 6.9 1-5.4 1-3.5 1 7.5 1-10.6 1-8.7 1 12.8 1 6.5 1-4.4 1-2.6 1 16 1-1.4 1-.8 1-12.3 1 6.1 1-23.1 1 20.5 1-11.3 1 14.4 1 2.8 1-11.6 1 4.5 1 1.5 1-10.2 1 19.9 1-22.5 1 18.5 1-7.7 1 15.2 1 .9 1-1.2 1-14.1 1 7.6 1-17.3 1 25.9 1-9 1-1.8 1-18 1 28.1 1-18.3 1 .6 1 6.2 1-2.9 1-.7 1 6.7 1-10.2 1 6.2 1 .7 1-12 1 23.6 1-1 1-6 1 7.9 1-17 1 11.7 1-23.4 1 14 1 15.4 1-27 1 19.8 1-4.8 1 .8 1 .8 1 2 1-7.4 1 5.9 1-19.5 1 13.4 1-9.3 1 22.6 1-22.1 1 4 1 21.6 1-8.6 1-20 1 23.1 1-23.4 1-.8 1 27.2 1-3.1 1 4 1-20.7 1 11.1 1-7.1 1 13.7 1-20.3 1 15.5 1-13.9 1 22.9 1-23.5 1-13.5 1 25.9 1-20.1 1 30.1 1-34.2 1 25.7 1-7.5 1 14.3 1-24.2 1 26.6 1-.2 1-19.9 1 18.8 1-5.9 1-10.2 1-6.5 1 21.7 1-17.1 1 14.4 1-25.4 1 23.9 1-19.8 1 4 1 1.6 1 14.9 1-10.2 1 12.4 1-1.8 1-21 1 15.8 1-11 1 12.5 1 11.2 1-15.4 1 6 1 .8 1-14.3 1 16 1-4.3 1-1.6 1-12.4 1 19.3 1-13.8 1-6.3 1-5.5 1 10.1 1 10.8 1-15.6 1 15 1-5.5 1 9.3 1-12.8 1 3.9 1 11.4 1-24.1 1 25.4 1-4 1-4.8 1-14.7 1 1.8 1 13.2 1-3.3 1 8.5 1-14.3 1-9.2 1 14.9 1 12.2 1-18.4 1 6.9 1 10.2 1-17.9 1-6.7 1 12.1 1 10.2 1-3.8 1-2.1 1-6.9 1 .7 1-2.9 1 23 1-36.1 1 16.3 1 10.1 1-4.6 1 10.3 1-13.9 1-7 1 14.3 1-17.1 1 17.7 1-20.3 1 12.5 1-11 1 21.8 1-3.4 1 10.4 1-24.4 1 11.7 1-20.8 1 24.2 1-9.6 1 2.5 1 17.1" stroke="#479a5f" stroke-width="2.4" vector-effect="non-scaling-stroke" stroke-linejoin="miter" stroke-miterlimit="10"/><path transform="translate(698.2 0) scale(0.438 1)" d="M0 1201.2l1 4.7 1 4.4 1 1.1 1 3.7 1 16.9 1-.4 1-6.7 1-17.1 1 19.6 1 3.5 1-6 1 10.9 1 10.6 1-18.2 1 24 1-10.3 1 16.7 1 3.2 1-18.3 1 16.1 1-10.3 1 11.1 1-14.5 1 22.3 1-8.1 1 12.1 1-14.2 1 16.3 1-3.4 1 4 1-16.6 1 14.6 1 9.4 1-13.7 1 12.2 1-16.4 1 14.1 1-14.2 1 29.8 1-19.6 1 14.4 1-21.3 1 25.4 1-13.1 1 7.5 1-1.6 1-5 1 10 1-.4 1-9.6 1 5 1 14.2 1-13.4 1-8.1 1 5.3 1 14.6 1-19.2 1 22.3 1-19.6 1 .2 1 22.7 1-20.2 1 18 1-18.6 1 14.7 1-8.3 1 16.4 1 .9 1 4 1-25 1-.6 1 29.5 1-25.6 1 16.9 1-.5 1-8.5 1-4.5 1 17.3 1-2.9 1 4.5 1-19.3 1 16.1 1-8.7 1 12.9 1-14.1 1 12.9 1-17.8 1 14.5 1-9.8 1 10.3 1-7.9 1 21.2 1-5.1 1 2.2 1-4.1 1 12.5 1-3.1 1-15.9 1 4.5 1-1.6 1 12 1-23.6 1 20.1 1-2.3 1-12.8 1 14.9 1-1 1-3.5 1-2.2 1 2 1 5.4 1-9.8 1 13.9 1-14.4 1 11.9 1-16.2 1 7.8 1 11.7 1-5.1 1-11.8 1 23.3 1-.8 1-2.3 1-2.8 1-6.4 1 7.5 1-12.5 1 8.9 1-6.3 1 14.8 1 3.2 1-13.3 1-1.7 1 2.3 1 3.9 1-9.5 1 16.1 1-25.2 1 28.5 1-1.5 1-17.2 1 14.6 1-15.2 1 19.4 1-11.2 1 15.5 1-3.9 1 .4 1-18.1 1 10 1 .1 1-11.8 1 21.7 1 3.4 1-21.8 1 7.8 1 5.3 1-7.2 1 3.1 1 18.9 1-9.1 1-10.5 1 4 1-10.9 1 21.8 1-12 1 1.4 1-4 1 15.6 1-18.5 1 6.4 1-1 1 15.4 1 1.6 1-4.5 1-12.5 1 5.8 1-14.7 1 18.3 1-6.7 1 12.4 1-10.6 1 6 1 9.4 1-23.7 1 20.6 1-16 1 8.1 1-4 1 12.8 1-.4 1-3.6 1-8.3 1 6.5 1-9.1 1 1.7 1-1.2 1 7 1-9.7 1-4.5 1 23.6 1 0 1-22.1 1 19.4 1-6.3 1-5.7 1 15.9 1-19.8 1 15.3 1-15.3 1 20.7 1-5.9 1-6.5 1 19.7 1-20.3 1 4.6 1-2.6 1 8.7 1-4.5 1 2.8 1-11.2 1 6.5 1-14.2 1 18 1-5.4 1-14.6 1 21.8 1-8.7 1 8.5 1-1.7 1 11.7 1-9.8 1-15.6 1 19.1 1-2.3 1-16.9 1 15.4 1-6.8 1-7.2 1 21 1-1.8 1-14.4 1 8.4 1-8.2 1 7.3 1 9.2 1-16.4 1-7.5 1 9.1 1 .4 1 10.7 1-6.2 1 10.2 1-17.5 1 20.2 1-21.5 1 18.7 1-.9 1-5.4 1-14.5 1 5.2 1 12.4 1-13.4 1 7 1-0 1-1.7 1 10 1-13.2 1-4.3 1-1.4 1 15.7 1-10.2 1 13.5 1 5.7 1-22.3 1 7.3 1 9.6 1-19.6 1-.7 1 19.2 1-18.6 1 10.4 1 16.5 1-23.6 1 13.4 1-7.5 1 18.4 1-18.6 1 19.1 1-14.1 1 13.4 1-16.7 1 8.6 1 5.5 1-21.7 1 4.7 1 11.5 1-11.5 1 9.1 1-13.9 1 11.9 1 14.3 1-.5 1-14.5 1-4 1-1.7 1 19.4 1-17.3 1 19.9 1-17.9 1 16 1-19.1 1 10 1-12.1 1 20.9 1-20.9 1 21.2 1-5.6 1-12.4 1 14.8 1-16.5 1 11.1 1-3.8 1 6.1 1-5 1-10.4 1 8.1 1 10.1 1-6 1-4.8 1 15.4 1-17.2 1 16.9 1-14.7 1 6 1 1.2 1-6.2 1 12.9 1-19.6 1 20.7 1-10.2 1 10.1 1-13.7 1 9.1 1-6.8 1 4.1 1 6.1 1-17.3 1 10.1 1-2 1-10.5 1 23.5 1-18.9 1 6.9 1 19.4 1-21.3 1-6.8 1 17 1-14.1 1 10.8 1-14.2 1 24.4 1-18.4 1 6.3 1-6 1-0 1 8.4 1 8.2 1-17.2 1 19 1-20.6 1 12.4 1-.7 1-10.6 1 20.3 1-0 1-26.3 1 13.7 1 13 1-23.8 1 18.5 1-6.7 1-20 1 14.6 1 .3 1-8.5 1 21.7 1-16.7 1 9 1-5.6 1-3.8 1 19.1 1-22.4 1 24.3 1-22.3 1 .8 1 18.7 1-11 1 10.6 1-1.5 1-11.8 1-2 1 18 1-18.3 1 13.4 1-11.6 1 10.6 1-12 1 19.3 1-15.6 1 13 1-5.4 1-3.2 1 6.5 1-18.5 1 1 1 24.1 1-20.9 1-3.5 1 23.9 1-10.6 1-5.5 1 15.6 1-23 1 0 1 16.1 1-11.5 1 6 1 4.1 1-8.3 1 16.2 1-22.2 1 16.9 1-15.5 1-.8 1 13 1 12.8 1-14.9 1 8.9 1-9.9 1 12.2 1-10 1 7 1-4.8 1-12.6 1 21.4 1-7.2 1-6.3 1 12.5 1 2.6 1-20.7 1 14.7 1-12.8 1 19.9 1-21.7 1 11 1 1.7 1-15.2 1 20 1-7.3 1 1.6 1 7.1 1-7.7 1-4.9 1 13.3 1-20.1 1 24.8 1-11.5 1-1.6 1-1.5 1 7.9 1-14.1 1 8.3 1-2.4 1-5.7 1 11.4 1-7.4 1-8.6 1 26 1-17.7 1 13.9 1-11.2 1 .4 1 6.9 1-14 1 17.2 1-8.2 1 8.7 1-18.9 1 22.3 1-20.2 1 6.4 1 10.8 1-10.4 1 8.5 1-1.8 1-15.9 1 21.7 1-10.1 1 13.1 1-22.9 1 16.5 1-19.3 1 1.7 1 18.3 1-10.7 1 11.5 1-14 1 15.6 1 2.4 1-7.9 1-1.8 1-4 1 8.2 1-6 1 11.8 1-24.1 1 18.6 1-5.5 1 3.4 1-14.4 1 25.2 1-20.4 1 11.2 1-12.8 1 17.3 1-8.4 1 7.5 1-1.1 1-16.5 1 16.4 1-9.1 1 9.8 1-13.2 1 2.3 1 7.9 1-9.1 1 12.6 1-19.8 1 13.9 1-10.3 1 22.9 1-19.5 1 16.7 1-8.9 1 7.2 1-5 1 2.2 1-14 1 1.6 1 19.3 1-2.9 1 3.7 1-18.7 1 6.4 1-10.6 1 7.3 1 16.7 1-22.1 1 9.5 1-3.2 1 6.8 1-11.1 1-9 1 16 1-4 1 17.5 1-18.7 1 7.7 1-2.9 1-9.6 1 8.9 1 13.6 1-24.8 1 23.9 1-23 1 23.2 1-5 1-6.1 1-8.3 1-1.6 1 12.5 1-10 1-10.9 1 7.6 1 9.4 1 4.7 1-4.6 1 19.3 1-26.6 1 19.4 1-17 1 12.4 1-11.9 1 9.2 1 5 1-20.7 1 25.6 1-18 1 9.4 1-10.1 1 6.3 1 12.9 1-23.8 1 16.1 1-13.5 1 4.2 1-2.6 1 20.3 1-11 1-11.6 1-5.4 1 10.3 1 17.1 1-17.4 1 8.1 1-1.4 1 14.1 1-4.8 1 2.9 1-10 1 .5 1 16.6 1-9.8 1-18.3 1 10.8 1 7.3 1-12.2 1-14.3 1 1.3 1 27.4 1-19.7 1 17.1 1-5.6 1-11.9 1 5.8 1-2.9 1 9.1 1-5.2 1 15.8 1-13.8 1 13 1-24.8 1 20.5 1-13.1 1 10.4 1-17.1 1 17.9 1-9.9 1 6.2 1-12.8 1 15.3 1-13.7 1 4.4 1-9.6 1 19.8 1-16 1 18.2 1-16.9 1 11 1-14 1 24.5 1-19 1 19.5 1-14.6 1 4.4 1-14 1 27.9 1-24.3 1 16.3 1-5.2 1-1.1 1-1.1 1-12.6 1 10.4 1 4.4 1 11.4 1-19.2 1-.4 1 10.6 1 14.1 1-5.3 1-14.6 1 11.8 1-18.1 1 9.7 1-6.5 1-6.3 1 13.8 1 2.7 1-9.4 1 14.1 1-21.7 1 9 1-5.3 1 17 1-19.4 1 20.3 1-2.7 1-11.7 1 8.8 1 1 1-16.7 1 17.3 1-17.1 1 24.6 1-18.4 1 20.6 1-20.7 1 14.7 1-7.5 1 7 1-11.2 1 12.1 1 8.8 1-6.1 1-21.1 1 10.3 1 7.4 1-6.9 1 13 1-10.2 1-2.8 1 2.2 1-8.3 1 14.3 1-17.9 1 22.2 1-2.7 1-17.7 1 13.3 1-17.6 1 13.2 1-2.9 1-9 1 19.4 1-10.8 1 10.2 1-19.6 1 17 1-15.7 1-7.1 1 8.4 1 6.2 1 6.1 1-12.6 1 16 1-13.9 1 15.2 1 6.4 1-6.5 1-6.4 1-8.2 1 9.7 1 10.2 1-4.6 1 3.6 1-8.7 1-12.4 1 18.1 1-8.3 1 .9 1 5.1 1-13.8 1 9.8 1 11 1-20.9 1 8.4 1 2.6 1-4.2 1 13 1-10.5 1-14.3 1 2.9 1 11.8 1-3.4 1-1.6 1 6.2 1-2.9 1 12.5 1-10.5 1 10 1-20.4 1 21.8 1-12.3 1 5.1 1 7.4 1-12.7 1 21 1-29 1 10.3 1 7.4 1-13.3 1 3.3 1 1.2 1 4.3 1-13.3 1 16.7 1-3 1-7 1 8.1 1 12.6 1-8.7 1-7 1-.1 1-12.1 1 21 1-15.8 1 8.4 1 2.4 1-13.5 1 13.3 1 4.8 1-21.4 1 24.7 1-17.4 1 9.1 1-8 1 16.6 1-13.1 1 5.9 1 2.2 1-19.4 1 14.4 1-15.4 1 4.9 1 11.6 1-14.4 1 23 1-4.8 1-9.7 1 5.1 1 4.9 1-17.4 1 20.2 1-23.3 1 16.9 1-4.4 1 1.3 1-10.5 1 4.4 1 10.5 1-9 1 10.2 1-19.3 1 18.6 1 6.6 1-0 1-16.2 1 6.3 1-10.9 1 17.2 1-18.5 1 11 1-5.5 1-6.3 1 18.6 1-16.4 1 15.4 1 3 1-16.5 1-4.5 1 22.9 1-23.5 1 14.5 1-2.5 1 4.6 1-6.1 1 12.8 1-20.1 1 17 1-5 1-14.1 1 22.1 1-7.3 1-15.3 1 25.2 1-22.7 1 18.4 1 2.1 1-21.5 1 12.8 1-11.3 1 21.7 1-22.8 1-7.3 1 12.9 1-3.9 1 21.6 1-18 1-4.8 1 12.6 1 4.9 1-5.4 1-1 1-10.4 1 19.6 1-1.9 1-13 1 12.1 1-19.3 1 2.4 1 4.7 1 14.8 1 .4 1-22.5 1 23.4 1-3 1-10.8 1 1 1 3.8 1 3.5 1-7 1 16.9 1-25 1 7.7 1 11.4 1-20.5 1 11.9 1-13 1 22 1-17.1 1 13.5 1-18.7 1 20.6 1-8.2 1 6.6 1-10 1-.7 1 4.5 1-3.9 1 15.8 1-3.8 1-16.7 1 20.2 1-22.8 1 20 1-11 1-6.5 1 9.9 1-1.9 1 1.2 1-.4 1-11.6 1 15.2 1 4.6 1-20.1 1 10.2 1 19.8 1-20.1 1 5.5 1-14.6 1 14.8 1-7.3 1-6.1 1 21.7 1-10.5 1-8.6 1-5.6 1 10.3 1-8.2 1 6 1 18.5 1-22.1 1 12.1 1-7 1 5.2 1-8.4 1 5.8 1 1.3 1 3.9 1-7.3 1 8.4 1-3.6 1-5.5 1 4.6 1 10.6 1-19.6 1 15.7 1-15.4 1-1.3 1 19 1-16.2 1 1.7 1 7.7 1-6.5 1 12.2 1-2.4 1-19.3 1 4.9 1 10.3 1 9 1-8.2 1 8.1 1-15.2 1 3.1 1 10.8 1-20.2 1-6.6" stroke="#da4c4c" stroke-width="2.4" vector-effect="non-scaling-stroke" stroke-linejoin="miter" stroke-miterlimit="10"/><path transform="translate(698.2 0) scale(0.438 1)" d="M0 1178.8l1-6.8 1 15.1 1 2 1 2.9 1 5.7 1 11.7 1-11.7 1 9.7 1-6.7 1 17.4 1-19.1 1 5 1 10.5 1 12.6 1-15.9 1-1.5 1 15.9 1 12.2 1-21.3 1 5.7 1 12.3 1-4.9 1 .1 1 23.1 1-29.4 1 32.7 1-30.2 1 24.5 1-15.8 1 17.9 1-22.5 1 .9 1 34.3 1-5.8 1-14.6 1 21.7 1-15.1 1 6.6 1-2.7 1 7.3 1-13.1 1 22.7 1 .3 1-27.1 1 27.9 1-24.4 1 29.1 1-3.1 1-25.3 1 18.4 1-8 1-5.4 1 24.2 1-19 1 23.3 1-16.1 1 5.4 1-5.9 1 5.8 1 .4 1 2.6 1-14.8 1 13.8 1 14.3 1-8.7 1-6.4 1 8.3 1-1.1 1 .6 1-2.4 1 13.8 1-28.2 1 20.8 1-4.9 1 1.2 1-3.6 1 21.3 1-19.9 1-11.1 1 16.8 1-1.6 1-7.2 1 11 1-14.6 1 19 1-17.8 1 30.6 1-19 1 2.2 1-14.2 1 32.7 1-29.6 1-.9 1 10.7 1-14.9 1 8 1 25.8 1-9.8 1-27.3 1 26.2 1-8.4 1 22.2 1-25.5 1 .7 1 25.1 1-24.2 1 5.6 1 13.9 1-13.9 1 16.3 1 1.1 1-24.2 1 17.7 1-7 1 23.3 1-31.2 1-3.7 1 26.3 1-22.8 1 15 1-7.4 1 3 1 16.6 1-16.3 1-17 1 16.3 1 15.2 1-24.7 1 17.9 1 15.5 1-19.7 1 19.5 1-27.7 1 24.1 1-18.4 1 3.8 1 2.8 1 9.6 1-14.9 1 16.2 1-14.9 1 22.7 1-27.4 1 25.2 1-23.4 1 25.5 1-19.1 1 18 1-17.1 1 5.2 1-5.3 1-2.3 1 19.3 1-17.5 1 19.2 1-30 1 30.3 1-30.2 1 34.1 1-25.8 1 21.6 1-29.2 1 26.4 1-23.2 1 27.4 1-22.7 1 10.9 1 7.5 1-23.7 1 29.2 1 3.9 1-31.3 1 37.9 1-40.3 1 32 1-22.2 1 2 1 21.2 1-28.7 1 28.4 1-3.3 1 1.4 1-19.2 1 18.7 1-20 1 20.5 1-22.5 1 9.8 1 7.2 1-18.7 1 23.1 1-16.5 1 10.4 1 13.3 1-16.2 1 6.5 1-16.5 1 .4 1 3.7 1-14.4 1 14.4 1 15.5 1-19.2 1 20.9 1-14.7 1 6.1 1-9.4 1 22.3 1-18.8 1-7.5 1 2.7 1 21.5 1-5.4 1-14.2 1 13.2 1 3.1 1-19.1 1 24.8 1-27.2 1 31 1-4.1 1-12.8 1 13 1-26.9 1 19.6 1-16.8 1-.5 1 6.6 1 14.8 1-4.2 1-4.2 1 11.2 1-8.8 1 15 1-20.2 1 10.8 1-5.2 1 11.4 1-15.2 1 .9 1 14 1-26.7 1 29.6 1-26.9 1 31.5 1-32.8 1 1 1 5.6 1 12.8 1 6.2 1-25.3 1 9.6 1-1.1 1 6.2 1 14.3 1-19.3 1-4.9 1 22 1 4.1 1-21.7 1 22.7 1-22.4 1 25.1 1 1.2 1-29.1 1 4.1 1 19.4 1-27.5 1 17 1 1.7 1-13.3 1 23.8 1-28.8 1 34.2 1-31.1 1 32.1 1-26.6 1 18.6 1-23.8 1 17.2 1-6.4 1 3 1-10.5 1 8.1 1 17.1 1-22.8 1 19.6 1-27.4 1 29.1 1-10.8 1-10.7 1-11.7 1 33.3 1-14.7 1 6.7 1 17.6 1-6 1-2.2 1-19.6 1 18.9 1-24 1 17.7 1 13.9 1 6.8 1-21.1 1-17.7 1 29.5 1-3.6 1 .4 1-27.8 1 21 1-11.1 1 23.2 1-15.9 1-11.4 1 24 1-21.9 1 21.8 1-25.5 1 27.5 1-27.3 1 19.6 1-16.3 1 11.5 1-23.8 1 25.2 1-12.5 1 16.9 1-17.5 1 26.7 1-8.6 1-22.7 1 23.7 1 2 1 13 1-28.9 1-.8 1 24.6 1-32.2 1 28.3 1-23.4 1 10.5 1 14.4 1-18.7 1 14.5 1-17.3 1 20.9 1-26.7 1 22.7 1-4.4 1-10.7 1 12.3 1 4.5 1 .4 1-17.1 1 17.5 1-36 1 36.5 1-.9 1-27 1 29.2 1-17.7 1 9.6 1-7.1 1 15.4 1 7.2 1-32.3 1 11.3 1 21.4 1-2.9 1-6.4 1-34.3 1-.1 1 22.5 1-12.1 1 19.5 1 13 1-4.4 1-22.3 1 6.7 1 4.5 1-7.7 1 16.8 1-22.9 1 14.1 1-4 1 11.1 1 2.2 1 4.7 1-24.9 1 33.2 1-7.1 1-23 1 2.5 1 7.8 1-1.9 1 10.7 1-21.8 1 16.9 1-8.3 1 21.1 1-7 1-7.8 1 11.4 1-26.8 1 19.7 1-7.3 1-10.1 1 28 1-24.9 1 9.7 1 9.6 1-20.1 1 3.1 1-6.6 1 20.7 1-14.8 1 12.7 1-17.8 1 14.4 1-18 1 2.1 1 29.8 1-13.3 1 14 1-12.2 1-12.9 1 13.9 1 4.9 1 2.8 1-26 1 23.7 1-23.1 1 25.6 1-20.6 1 22.1 1-18.3 1 17.7 1-30.4 1 30.3 1 3.3 1-34.9 1 27.2 1-20 1 28.9 1-20.1 1 16.9 1-4.8 1-17.6 1 21.6 1-28.3 1 23.1 1-25 1 28.7 1-.5 1-22.8 1 18.3 1-7.5 1 10.7 1-12 1-3.2 1 12 1-5.5 1-5.9 1 15.5 1-31.9 1 12.6 1 17.7 1-19.8 1 16.7 1 4.9 1-10.8 1-12.1 1 18.1 1-4.3 1-12.4 1 17.7 1 7.1 1-18.9 1 12.7 1-.1 1 4.6 1-18.1 1 8 1-16.6 1 12.3 1 2.6 1-9.7 1 25.5 1-32.7 1 21.8 1 9.4 1 2 1 4.4 1-22.4 1-11.1 1 16.6 1-13.3 1 17.3 1-20.2 1 18.6 1 5.5 1-13.9 1 5 1 .9 1-4 1-5.8 1 29.3 1-37.7 1 10.1 1 12.4 1 1.9 1-24.2 1 18.9 1-19 1 28.3 1-16.4 1 23.2 1-31.6 1 22.4 1-9.1 1 12.9 1-12 1 13.5 1-29.1 1 28.6 1-28.4 1-.5 1 26.2 1-23.7 1 16.4 1-13.5 1 11.3 1 16.4 1-31.7 1 31.1 1-20.4 1 15.9 1-18 1 25.5 1-32.8 1-11.8 1 17.4 1 19.8 1 5.7 1-19.4 1-17.1 1 1.2 1 23.8 1-10.2 1-12.2 1 20.5 1-12.9 1 26.3 1 2.4 1-26.7 1 24.2 1-27.7 1 5.5 1 17.9 1-23.6 1 28 1-2.5 1 4.7 1 3.7 1-25 1 8.5 1-21.4 1 22 1-7.8 1 11 1-17.8 1-6.1 1 22.6 1-15.8 1 4.1 1 22.9 1-7.5 1-27.4 1 9.5 1 14.7 1-11.9 1 16.6 1 .5 1-17.2 1 20.1 1-35 1 33.8 1-27.1 1 26.5 1-27.4 1 20.3 1-15.8 1 14.8 1 12.3 1-18.3 1 2.8 1-15.8 1 15.7 1-1.7 1-13.6 1 9.9 1 31.1 1-24.5 1 13.7 1-18.8 1 17 1-21.5 1 7.5 1 19.5 1-37.2 1 26.1 1-22.7 1 25.3 1-14.3 1-10.6 1 32 1-35 1 41.5 1-36 1 20 1 7.3 1-30.9 1 33.4 1 3.4 1-19.1 1 6.8 1-12 1-8.3 1-16.9 1 50.3 1-3.5 1-11.3 1-12.2 1-11.9 1 10.3 1 .7 1 19 1-38.1 1 33.5 1 24.1 1-27.6 1-4.5 1-3.9 1 16.8 1-28.7 1 15.1 1-4.9 1 28.1 1-33.4 1 17.7 1-5.3 1-20.2 1 28.9 1 6.3 1-15.6 1 9.6 1-28 1 39.7 1 .3 1-40.5 1 30.2 1-28.7 1 14.8 1 9.8 1 .6 1-16.5 1-10.6 1 11.9 1-3.4 1 18.4 1 6.9 1-27.1 1-4.7 1 4.9 1 22.1 1 9.6 1-36.4 1 29.6 1 10.9 1-37.5 1 18.1 1-20.6 1 39.7 1 2.1 1-27.3 1 19.1 1-24.4 1 32.8 1-19 1-9.4 1 13.8 1-16.3 1 16 1-1.6 1 1.7 1-14.9 1-8.4 1 27.3 1-26.8 1 16.5 1 14.9 1-31 1 12.1 1 6.2 1-4.4 1 23.7 1-1.3 1-42.7 1 36.8 1-14.5 1 12 1-27.7 1 24.4 1-27.5 1 1.2 1 33.1 1-37.3 1 11.1 1 21.1 1-21 1 11.8 1-.8 1-.6 1 18.4 1-22.3 1 21.2 1-36.2 1 27.6 1 14.8 1-33.4 1-10.7 1 25.9 1 27.2 1-32.8 1 15.6 1-22.4 1 34.9 1-27.4 1 2.4 1-12.5 1 15.7 1-7.6 1-10.8 1-5.6 1 9 1 8.7 1 18.8 1-30.8 1 35.7 1-3.2 1-5.2 1-26.3 1 33.5 1-24.9 1 6.3 1 17.3 1-11.5 1-9.6 1 11.5 1-15.4 1 17.2 1-12.8 1 22.7 1-45.8 1 13.2 1 18 1-17.9 1-3 1 33.9 1-8.8 1-17 1-1.9 1 29.4 1-34.5 1 17.5 1-7 1 23.9 1-43.5 1 23.2 1 9.7 1 6 1-19.4 1 27.1 1-29.3 1-4.7 1-3.4 1 37.4 1-37.1 1 28.8 1-29.9 1 34.3 1-6.7 1-14.4 1 6 1-11.5 1 21.5 1-1.5 1-12.6 1-18.8 1 36.9 1-25.3 1 26.6 1-32.5 1 30.8 1 5.4 1-26.1 1 5.1 1-8.1 1-15.4 1 34.4 1 12.7 1-26.9 1 3.9 1 7.1 1-11.9 1 21.8 1-32.3 1 32.2 1-20 1 23.6 1-30.3 1-3.5 1 28.7 1-35.7 1 41.9 1-42.2 1 29.5 1-40.3 1 45.4 1-32.6 1 8.7 1 11.5 1 17.9 1-25.4 1 8.3 1-10.2 1-1.3 1 27 1-5.4 1-16.9 1 21.8 1-30.4 1 29.7 1-31.6 1 32.2 1-24.3 1 10.2 1-10.1 1 21.8 1-30.3 1 24.6 1-18.6 1 15.3 1-8.2 1 16.2 1-21.5 1 14.4 1-15.6 1 23.2 1-36.6 1 9.9 1 27.8 1-1.6 1-19 1 14.6 1 4 1-26.7 1 29.9 1-.1 1-22 1 25.2 1-40.9 1 31 1-16.8 1 26.6 1-23 1-10.6 1 23 1-8.8 1-12.7 1 29.8 1-36 1 37.8 1-23 1 28.7 1-12.9 1-26.6 1-.4 1 4.9 1 17.3 1-6.6 1 18.2 1-39.6 1 2.6 1 25.9 1-14.1 1 20.9 1-21.6 1-9.5 1 38.3 1-23.6 1 23.6 1-1.1 1-20.7 1 6.6 1-12.7 1 26.6 1-34.1 1 14.3 1 26.2 1-24.1 1 20.4 1-35 1 38 1-26.3 1 16.2 1-16.6 1 27.2 1-23 1 24.7 1-20.7 1-8.8 1 21.3 1-17.9 1 13.6 1-23.8 1 14.8 1-12.7 1 32.8 1-42.2 1 40.8 1-20.5 1-20.7 1 38.7 1-36 1 40.5 1-5.2 1-31.9 1 24.7 1-5.7 1 9.8 1 7 1-3.2 1-25.3 1 11.3 1-6 1 5.9 1 11.2 1-26 1-.3 1 .5 1 18.6 1-17.3 1-1 1 14.6 1-8 1 24.2 1-3.2 1-24.2 1 10.8 1-27.5 1 30.2 1-20.8 1 27.3 1-19.1 1 28.3 1-44.8 1 24.9 1-25.4 1 16 1 7 1 13.6 1-.9 1 4.5 1-34.3 1 6 1 17.2 1-20.4 1 33.1 1-6.5 1-14.9 1 10.2 1-12.4 1-4.6 1 4.2 1 8 1-22.5 1-.1 1 18.7 1 6.1 1 17.1 1-26.1 1-4.6 1 33.8 1-7.2 1-41.1 1 30.1 1-12.5" stroke="#5387dd" stroke-width="2.4" vector-effect="non-scaling-stroke" stroke-linejoin="miter" stroke-miterlimit="10"/><circle cx="1135.8" cy="1366.0" r="4.2" fill="#7d54b2"/><circle cx="1135.8" cy="1357.1" r="4.2" fill="#479a5f"/><circle cx="1135.8" cy="1377.5" r="4.2" fill="#da4c4c"/><circle cx="1135.8" cy="1367.9" r="4.2" fill="#5387dd"/></svg>
<div class="a" style="left:1783px;top:299.6px;width:250.8px;height:76.4px;background:#2c2f3a;border-radius:7px;box-shadow:0 6px 16px rgba(0,0,0,0.28);z-index:20"></div>
<span class="t" id="t108" style="left:1809.0px;top:325.0px;font-size:23.5px;color:#fff;transform:scaleX(0.9710);z-index:21;">Workspace settings</span>
<div class="a" style="left:3px;top:2px;width:2456px;height:1516px;border:4px solid #000;z-index:50"></div>
</body></html>
